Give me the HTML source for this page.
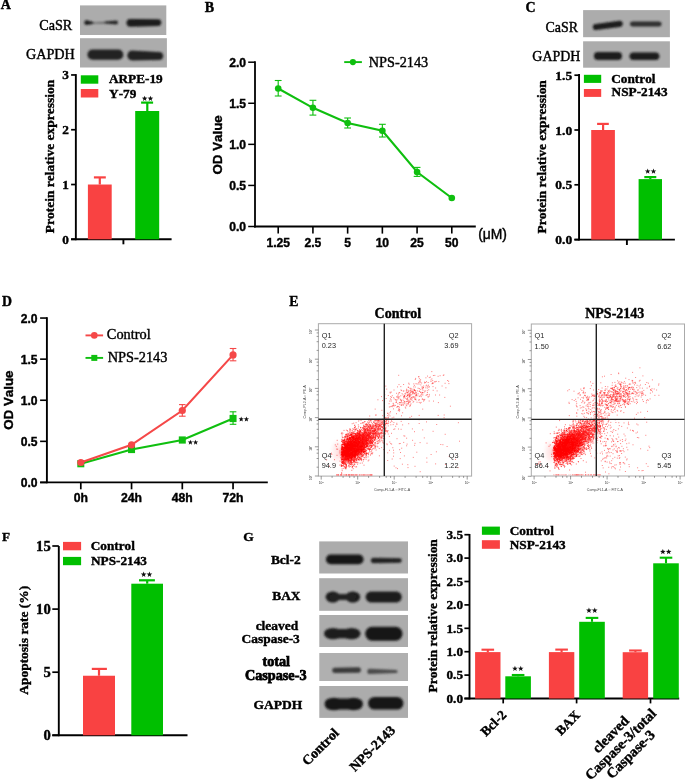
<!DOCTYPE html>
<html><head><meta charset="utf-8"><style>
html,body{margin:0;padding:0;background:#fff;}
svg{display:block;filter:blur(0.4px);}
text{font-kerning:none;}
</style></head><body>
<svg width="685" height="780" viewBox="0 0 685 780">
<defs>
<filter id="bl1" x="-50%" y="-100%" width="200%" height="300%"><feGaussianBlur stdDeviation="1.05"/></filter>
<filter id="bl2" x="-50%" y="-100%" width="200%" height="300%"><feGaussianBlur stdDeviation="2"/></filter>
<clipPath id="cb0"><rect x="80" y="5.4" width="86.3" height="29.6"/></clipPath><clipPath id="cb1"><rect x="80" y="38.2" width="86.9" height="29.3"/></clipPath><clipPath id="cb2"><rect x="583.1" y="10.1" width="86.8" height="27.1"/></clipPath><clipPath id="cb3"><rect x="583.1" y="41.3" width="86.8" height="26.4"/></clipPath><clipPath id="cb4"><rect x="319.2" y="541.4" width="88.8" height="32.1"/></clipPath><clipPath id="cb5"><rect x="319.2" y="578.2" width="88.8" height="32.6"/></clipPath><clipPath id="cb6"><rect x="319.3" y="615" width="88.7" height="32"/></clipPath><clipPath id="cb7"><rect x="319.3" y="653" width="88.7" height="28"/></clipPath><clipPath id="cb8"><rect x="319.3" y="686" width="88.7" height="31.9"/></clipPath>
</defs>
<text transform="translate(0.75,9.30)" font-family="Liberation Serif" font-size="14" font-weight="bold" text-anchor="start" fill="#000" stroke="#000" stroke-width="0.4" >A</text>
<rect x="80" y="5.4" width="86.3" height="29.6" fill="#acacac"/>
<g clip-path="url(#cb0)"><g filter="url(#bl1)">
<path d="M86.70 20.30L93.20 22.10A0.80 0.80 0 0 1 93.20 23.70L86.70 25.10A2.40 2.40 0 0 1 86.70 20.30Z" fill="#1e1e1e"/>
<path d="M93.60 22.40L104.20 22.00A0.80 0.80 0 0 1 104.20 23.60L93.60 23.60A0.60 0.60 0 0 1 93.60 22.40Z" fill="#555"/>
<path d="M105.20 21.60L116.10 20.60A1.90 1.90 0 0 1 116.10 24.40L105.20 23.60A1.00 1.00 0 0 1 105.20 21.60Z" fill="#262626"/>
<path d="M130.40 18.90L157.90 19.20A3.40 3.40 0 0 1 157.90 26.00L130.40 26.70A3.90 3.90 0 0 1 130.40 18.90Z" fill="#1a1a1a"/>
</g></g>
<rect x="80" y="38.2" width="86.9" height="29.3" fill="#acacac"/>
<g clip-path="url(#cb1)"><g filter="url(#bl1)">
<path d="M92.50 49.60L118.30 49.60A5.10 5.10 0 0 1 118.30 59.80L92.50 59.80A5.10 5.10 0 0 1 92.50 49.60Z" fill="#222"/>
<path d="M132.20 50.60L159.20 51.90A4.00 4.00 0 0 1 159.20 59.90L132.20 60.40A4.90 4.90 0 0 1 132.20 50.60Z" fill="#232323"/>
</g></g>
<text transform="translate(39.22,30.06)" font-family="Liberation Serif" font-size="14.15" font-weight="normal" text-anchor="start" fill="#000" stroke="#000" stroke-width="0.4" >CaSR</text>
<text transform="translate(25.92,58.56)" font-family="Liberation Serif" font-size="14.2" font-weight="normal" text-anchor="start" fill="#000" stroke="#000" stroke-width="0.4" >GAPDH</text>
<line x1="75.85" y1="74.10" x2="75.85" y2="240.20" stroke="#000" stroke-width="1.9"/>
<line x1="71.10" y1="239.30" x2="171.60" y2="239.30" stroke="#000" stroke-width="1.9"/>
<line x1="71.10" y1="239.30" x2="75.85" y2="239.30" stroke="#000" stroke-width="1.7"/>
<text transform="translate(68.80,243.75)" font-family="Liberation Serif" font-size="13.3" font-weight="bold" text-anchor="end" fill="#000" stroke="#000" stroke-width="0.4" >0</text>
<line x1="71.10" y1="184.52" x2="75.85" y2="184.52" stroke="#000" stroke-width="1.7"/>
<text transform="translate(68.80,188.97)" font-family="Liberation Serif" font-size="13.3" font-weight="bold" text-anchor="end" fill="#000" stroke="#000" stroke-width="0.4" >1</text>
<line x1="71.10" y1="129.74" x2="75.85" y2="129.74" stroke="#000" stroke-width="1.7"/>
<text transform="translate(68.80,134.19)" font-family="Liberation Serif" font-size="13.3" font-weight="bold" text-anchor="end" fill="#000" stroke="#000" stroke-width="0.4" >2</text>
<line x1="71.10" y1="74.96" x2="75.85" y2="74.96" stroke="#000" stroke-width="1.7"/>
<text transform="translate(68.80,79.41)" font-family="Liberation Serif" font-size="13.3" font-weight="bold" text-anchor="end" fill="#000" stroke="#000" stroke-width="0.4" >3</text>
<line x1="123.40" y1="239.30" x2="123.40" y2="244.30" stroke="#000" stroke-width="1.9"/>
<rect x="87.90" y="184.52" width="23.80" height="54.78" fill="#f94242"/>
<line x1="99.80" y1="184.52" x2="99.80" y2="177.40" stroke="#f94242" stroke-width="2.2"/>
<line x1="93.90" y1="177.40" x2="105.80" y2="177.40" stroke="#f94242" stroke-width="2.2"/>
<rect x="135.20" y="111.00" width="24.00" height="128.30" fill="#00bf00"/>
<line x1="147.30" y1="111.00" x2="147.30" y2="102.60" stroke="#00bf00" stroke-width="2.2"/>
<line x1="141.10" y1="102.60" x2="153.10" y2="102.60" stroke="#00bf00" stroke-width="2.2"/>
<polygon points="144.65,95.63 145.38,97.58 147.46,97.67 145.83,98.97 146.38,100.97 144.65,99.82 142.92,100.97 143.47,98.97 141.84,97.67 143.92,97.58" fill="#111"/>
<polygon points="150.45,95.63 151.18,97.58 153.26,97.67 151.63,98.97 152.18,100.97 150.45,99.82 148.72,100.97 149.27,98.97 147.64,97.67 149.72,97.58" fill="#111"/>
<rect x="80.80" y="75.30" width="17.50" height="8.40" fill="#00bf00"/>
<rect x="80.80" y="89.00" width="17.50" height="8.50" fill="#f94242"/>
<text transform="translate(108.97,83.27)" font-family="Liberation Serif" font-size="13.25" font-weight="bold" text-anchor="start" fill="#000" stroke="#000" stroke-width="0.4" >ARPE-19</text>
<text transform="translate(109.10,97.77)" font-family="Liberation Serif" font-size="13.25" font-weight="bold" text-anchor="start" fill="#000" stroke="#000" stroke-width="0.4" >Y-79</text>
<text transform="translate(53.90,233.13) rotate(-90)" font-family="Liberation Serif" font-size="13.48" font-weight="bold" text-anchor="start" fill="#000" stroke="#000" stroke-width="0.4" >Protein relative expression</text>
<text transform="translate(204.70,12.40)" font-family="Liberation Serif" font-size="14" font-weight="bold" text-anchor="start" fill="#000" stroke="#000" stroke-width="0.4" >B</text>
<line x1="255.00" y1="61.30" x2="255.00" y2="227.40" stroke="#000" stroke-width="1.8"/>
<line x1="254.10" y1="226.50" x2="475.80" y2="226.50" stroke="#000" stroke-width="1.8"/>
<line x1="248.20" y1="226.50" x2="255.00" y2="226.50" stroke="#000" stroke-width="1.5"/>
<text transform="translate(246.10,231.10)" font-family="Liberation Sans" font-size="12.1" font-weight="bold" text-anchor="end" fill="#000" stroke="#000" stroke-width="0.4" >0.0</text>
<line x1="248.20" y1="185.43" x2="255.00" y2="185.43" stroke="#000" stroke-width="1.5"/>
<text transform="translate(246.10,190.03)" font-family="Liberation Sans" font-size="12.1" font-weight="bold" text-anchor="end" fill="#000" stroke="#000" stroke-width="0.4" >0.5</text>
<line x1="248.20" y1="144.35" x2="255.00" y2="144.35" stroke="#000" stroke-width="1.5"/>
<text transform="translate(246.10,148.95)" font-family="Liberation Sans" font-size="12.1" font-weight="bold" text-anchor="end" fill="#000" stroke="#000" stroke-width="0.4" >1.0</text>
<line x1="248.20" y1="103.27" x2="255.00" y2="103.27" stroke="#000" stroke-width="1.5"/>
<text transform="translate(246.10,107.87)" font-family="Liberation Sans" font-size="12.1" font-weight="bold" text-anchor="end" fill="#000" stroke="#000" stroke-width="0.4" >1.5</text>
<line x1="248.20" y1="62.20" x2="255.00" y2="62.20" stroke="#000" stroke-width="1.5"/>
<text transform="translate(246.10,66.80)" font-family="Liberation Sans" font-size="12.1" font-weight="bold" text-anchor="end" fill="#000" stroke="#000" stroke-width="0.4" >2.0</text>
<line x1="278.20" y1="226.50" x2="278.20" y2="233.60" stroke="#000" stroke-width="1.6"/>
<text transform="translate(278.20,246.70)" font-family="Liberation Sans" font-size="12.1" font-weight="bold" text-anchor="middle" fill="#000" stroke="#000" stroke-width="0.4" >1.25</text>
<line x1="312.92" y1="226.50" x2="312.92" y2="233.60" stroke="#000" stroke-width="1.6"/>
<text transform="translate(312.92,246.70)" font-family="Liberation Sans" font-size="12.1" font-weight="bold" text-anchor="middle" fill="#000" stroke="#000" stroke-width="0.4" >2.5</text>
<line x1="347.64" y1="226.50" x2="347.64" y2="233.60" stroke="#000" stroke-width="1.6"/>
<text transform="translate(347.64,246.70)" font-family="Liberation Sans" font-size="12.1" font-weight="bold" text-anchor="middle" fill="#000" stroke="#000" stroke-width="0.4" >5</text>
<line x1="382.36" y1="226.50" x2="382.36" y2="233.60" stroke="#000" stroke-width="1.6"/>
<text transform="translate(382.36,246.70)" font-family="Liberation Sans" font-size="12.1" font-weight="bold" text-anchor="middle" fill="#000" stroke="#000" stroke-width="0.4" >10</text>
<line x1="417.08" y1="226.50" x2="417.08" y2="233.60" stroke="#000" stroke-width="1.6"/>
<text transform="translate(417.08,246.70)" font-family="Liberation Sans" font-size="12.1" font-weight="bold" text-anchor="middle" fill="#000" stroke="#000" stroke-width="0.4" >25</text>
<line x1="451.80" y1="226.50" x2="451.80" y2="233.60" stroke="#000" stroke-width="1.6"/>
<text transform="translate(451.80,246.70)" font-family="Liberation Sans" font-size="12.1" font-weight="bold" text-anchor="middle" fill="#000" stroke="#000" stroke-width="0.4" >50</text>
<text transform="translate(478.14,239.32)" font-family="Liberation Sans" font-size="13.9" font-weight="normal" text-anchor="start" fill="#000" stroke="#000" stroke-width="0.4" >(μM)</text>
<polyline points="278.20,88.5 312.92,107.8 347.64,123 382.36,130.8 417.08,172 451.80,198" fill="none" stroke="#0fbf0f" stroke-width="2.1"/>
<line x1="278.20" y1="80.50" x2="278.20" y2="96.00" stroke="#0fbf0f" stroke-width="1.15"/>
<line x1="274.80" y1="80.50" x2="281.60" y2="80.50" stroke="#0fbf0f" stroke-width="1.1"/>
<line x1="274.80" y1="96.00" x2="281.60" y2="96.00" stroke="#0fbf0f" stroke-width="1.1"/>
<circle cx="278.20" cy="88.5" r="3.3" fill="#0fbf0f"/>
<line x1="312.92" y1="100.30" x2="312.92" y2="115.10" stroke="#0fbf0f" stroke-width="1.15"/>
<line x1="309.52" y1="100.30" x2="316.32" y2="100.30" stroke="#0fbf0f" stroke-width="1.1"/>
<line x1="309.52" y1="115.10" x2="316.32" y2="115.10" stroke="#0fbf0f" stroke-width="1.1"/>
<circle cx="312.92" cy="107.8" r="3.3" fill="#0fbf0f"/>
<line x1="347.64" y1="118.00" x2="347.64" y2="128.00" stroke="#0fbf0f" stroke-width="1.15"/>
<line x1="344.24" y1="118.00" x2="351.04" y2="118.00" stroke="#0fbf0f" stroke-width="1.1"/>
<line x1="344.24" y1="128.00" x2="351.04" y2="128.00" stroke="#0fbf0f" stroke-width="1.1"/>
<circle cx="347.64" cy="123" r="3.3" fill="#0fbf0f"/>
<line x1="382.36" y1="124.30" x2="382.36" y2="137.00" stroke="#0fbf0f" stroke-width="1.15"/>
<line x1="378.96" y1="124.30" x2="385.76" y2="124.30" stroke="#0fbf0f" stroke-width="1.1"/>
<line x1="378.96" y1="137.00" x2="385.76" y2="137.00" stroke="#0fbf0f" stroke-width="1.1"/>
<circle cx="382.36" cy="130.8" r="3.3" fill="#0fbf0f"/>
<line x1="417.08" y1="167.40" x2="417.08" y2="176.40" stroke="#0fbf0f" stroke-width="1.15"/>
<line x1="413.68" y1="167.40" x2="420.48" y2="167.40" stroke="#0fbf0f" stroke-width="1.1"/>
<line x1="413.68" y1="176.40" x2="420.48" y2="176.40" stroke="#0fbf0f" stroke-width="1.1"/>
<circle cx="417.08" cy="172" r="3.3" fill="#0fbf0f"/>
<circle cx="451.80" cy="198" r="3.3" fill="#0fbf0f"/>
<text transform="translate(221.90,174.57) rotate(-90)" font-family="Liberation Sans" font-size="13.35" font-weight="bold" text-anchor="start" fill="#000" stroke="#000" stroke-width="0.4" >OD Value</text>
<line x1="344.20" y1="62.10" x2="361.90" y2="62.10" stroke="#0fbf0f" stroke-width="1.9"/>
<circle cx="352.9" cy="62.1" r="3.1" fill="#0fbf0f"/>
<text transform="translate(368.79,67.46)" font-family="Liberation Serif" font-size="14.27" font-weight="normal" text-anchor="start" fill="#000" stroke="#000" stroke-width="0.4" >NPS-2143</text>
<text transform="translate(525.50,12.30)" font-family="Liberation Serif" font-size="14" font-weight="bold" text-anchor="start" fill="#000" stroke="#000" stroke-width="0.4" >C</text>
<rect x="583.1" y="10.1" width="86.8" height="27.1" fill="#acacac"/>
<g clip-path="url(#cb2)"><g filter="url(#bl1)">
<path d="M595.90 23.90L619.60 20.70A3.10 3.10 0 0 1 619.60 26.90L595.90 30.10A3.10 3.10 0 0 1 595.90 23.90Z" fill="#1a1a1a"/>
<path d="M632.50 21.50L659.00 21.50A2.50 2.50 0 0 1 659.00 26.50L632.50 26.50A2.50 2.50 0 0 1 632.50 21.50Z" fill="#2e2e2e"/>
</g></g>
<rect x="583.1" y="41.3" width="86.8" height="26.4" fill="#acacac"/>
<g clip-path="url(#cb3)"><g filter="url(#bl1)">
<path d="M597.90 52.00L618.00 52.00A4.00 4.00 0 0 1 618.00 60.00L597.90 60.00A4.00 4.00 0 0 1 597.90 52.00Z" fill="#1a1a1a"/>
<path d="M633.30 52.50L655.60 52.50A3.80 3.80 0 0 1 655.60 60.10L633.30 60.10A3.80 3.80 0 0 1 633.30 52.50Z" fill="#1a1a1a"/>
</g></g>
<text transform="translate(545.43,32.36)" font-family="Liberation Serif" font-size="13.95" font-weight="normal" text-anchor="start" fill="#000" stroke="#000" stroke-width="0.4" >CaSR</text>
<text transform="translate(532.33,60.66)" font-family="Liberation Serif" font-size="13.95" font-weight="normal" text-anchor="start" fill="#000" stroke="#000" stroke-width="0.4" >GAPDH</text>
<line x1="579.05" y1="74.00" x2="579.05" y2="240.50" stroke="#000" stroke-width="1.9"/>
<line x1="574.40" y1="239.60" x2="674.90" y2="239.60" stroke="#000" stroke-width="1.9"/>
<line x1="574.40" y1="239.60" x2="579.05" y2="239.60" stroke="#000" stroke-width="1.7"/>
<text transform="translate(572.20,244.10)" font-family="Liberation Serif" font-size="13.5" font-weight="bold" text-anchor="end" fill="#000" stroke="#000" stroke-width="0.4" >0.0</text>
<line x1="574.40" y1="184.80" x2="579.05" y2="184.80" stroke="#000" stroke-width="1.7"/>
<text transform="translate(572.20,189.30)" font-family="Liberation Serif" font-size="13.5" font-weight="bold" text-anchor="end" fill="#000" stroke="#000" stroke-width="0.4" >0.5</text>
<line x1="574.40" y1="130.00" x2="579.05" y2="130.00" stroke="#000" stroke-width="1.7"/>
<text transform="translate(572.20,134.50)" font-family="Liberation Serif" font-size="13.5" font-weight="bold" text-anchor="end" fill="#000" stroke="#000" stroke-width="0.4" >1.0</text>
<line x1="574.40" y1="75.20" x2="579.05" y2="75.20" stroke="#000" stroke-width="1.7"/>
<text transform="translate(572.20,79.70)" font-family="Liberation Serif" font-size="13.5" font-weight="bold" text-anchor="end" fill="#000" stroke="#000" stroke-width="0.4" >1.5</text>
<line x1="626.90" y1="239.60" x2="626.90" y2="245.00" stroke="#000" stroke-width="1.9"/>
<rect x="591.20" y="130.00" width="23.70" height="109.60" fill="#f94242"/>
<line x1="603.10" y1="130.00" x2="603.10" y2="123.90" stroke="#f94242" stroke-width="2.2"/>
<line x1="597.10" y1="123.90" x2="608.80" y2="123.90" stroke="#f94242" stroke-width="2.2"/>
<rect x="638.60" y="179.10" width="23.40" height="60.50" fill="#00bf00"/>
<line x1="650.30" y1="179.10" x2="650.30" y2="177.10" stroke="#00bf00" stroke-width="2.2"/>
<line x1="644.30" y1="177.10" x2="656.30" y2="177.10" stroke="#00bf00" stroke-width="2.2"/>
<polygon points="647.70,168.43 648.43,170.38 650.51,170.47 648.88,171.77 649.43,173.77 647.70,172.62 645.97,173.77 646.52,171.77 644.89,170.47 646.97,170.38" fill="#111"/>
<polygon points="653.50,168.43 654.23,170.38 656.31,170.47 654.68,171.77 655.23,173.77 653.50,172.62 651.77,173.77 652.32,171.77 650.69,170.47 652.77,170.38" fill="#111"/>
<rect x="583.90" y="74.80" width="17.30" height="8.10" fill="#00bf00"/>
<rect x="583.90" y="89.00" width="17.30" height="7.90" fill="#f94242"/>
<text transform="translate(611.30,82.80)" font-family="Liberation Serif" font-size="13.25" font-weight="bold" text-anchor="start" fill="#000" stroke="#000" stroke-width="0.4" >Control</text>
<text transform="translate(611.60,96.00)" font-family="Liberation Serif" font-size="13.25" font-weight="bold" text-anchor="start" fill="#000" stroke="#000" stroke-width="0.4" >NSP-2143</text>
<text transform="translate(545.90,233.50) rotate(-90)" font-family="Liberation Serif" font-size="13.48" font-weight="bold" text-anchor="start" fill="#000" stroke="#000" stroke-width="0.4" >Protein relative expression</text>
<text transform="translate(1.90,305.50)" font-family="Liberation Serif" font-size="13.8" font-weight="bold" text-anchor="start" fill="#000" stroke="#000" stroke-width="0.4" >D</text>
<line x1="46.90" y1="317.20" x2="46.90" y2="483.25" stroke="#000" stroke-width="1.9"/>
<line x1="40.10" y1="482.45" x2="267.80" y2="482.45" stroke="#000" stroke-width="1.7"/>
<line x1="40.10" y1="482.45" x2="46.90" y2="482.45" stroke="#000" stroke-width="1.6"/>
<text transform="translate(37.60,486.95)" font-family="Liberation Sans" font-size="12.1" font-weight="bold" text-anchor="end" fill="#000" stroke="#000" stroke-width="0.4" >0.0</text>
<line x1="40.10" y1="441.35" x2="46.90" y2="441.35" stroke="#000" stroke-width="1.6"/>
<text transform="translate(37.60,445.85)" font-family="Liberation Sans" font-size="12.1" font-weight="bold" text-anchor="end" fill="#000" stroke="#000" stroke-width="0.4" >0.5</text>
<line x1="40.10" y1="400.25" x2="46.90" y2="400.25" stroke="#000" stroke-width="1.6"/>
<text transform="translate(37.60,404.75)" font-family="Liberation Sans" font-size="12.1" font-weight="bold" text-anchor="end" fill="#000" stroke="#000" stroke-width="0.4" >1.0</text>
<line x1="40.10" y1="359.15" x2="46.90" y2="359.15" stroke="#000" stroke-width="1.6"/>
<text transform="translate(37.60,363.65)" font-family="Liberation Sans" font-size="12.1" font-weight="bold" text-anchor="end" fill="#000" stroke="#000" stroke-width="0.4" >1.5</text>
<line x1="40.10" y1="318.05" x2="46.90" y2="318.05" stroke="#000" stroke-width="1.6"/>
<text transform="translate(37.60,322.55)" font-family="Liberation Sans" font-size="12.1" font-weight="bold" text-anchor="end" fill="#000" stroke="#000" stroke-width="0.4" >2.0</text>
<line x1="80.80" y1="482.45" x2="80.80" y2="489.30" stroke="#000" stroke-width="1.7"/>
<text transform="translate(80.80,502.20)" font-family="Liberation Sans" font-size="12.2" font-weight="bold" text-anchor="middle" fill="#000" stroke="#000" stroke-width="0.4" >0h</text>
<line x1="131.55" y1="482.45" x2="131.55" y2="489.30" stroke="#000" stroke-width="1.7"/>
<text transform="translate(131.55,502.20)" font-family="Liberation Sans" font-size="12.2" font-weight="bold" text-anchor="middle" fill="#000" stroke="#000" stroke-width="0.4" >24h</text>
<line x1="182.30" y1="482.45" x2="182.30" y2="489.30" stroke="#000" stroke-width="1.7"/>
<text transform="translate(182.30,502.20)" font-family="Liberation Sans" font-size="12.2" font-weight="bold" text-anchor="middle" fill="#000" stroke="#000" stroke-width="0.4" >48h</text>
<line x1="233.05" y1="482.45" x2="233.05" y2="489.30" stroke="#000" stroke-width="1.7"/>
<text transform="translate(233.05,502.20)" font-family="Liberation Sans" font-size="12.2" font-weight="bold" text-anchor="middle" fill="#000" stroke="#000" stroke-width="0.4" >72h</text>
<polyline points="80.80,463.7 131.55,449.5 182.30,440 233.05,418.5" fill="none" stroke="#0fbf0f" stroke-width="2.1"/>
<rect x="77.30" y="460.10" width="7.00" height="7.20" fill="#0fbf0f"/>
<rect x="128.05" y="445.90" width="7.00" height="7.20" fill="#0fbf0f"/>
<rect x="178.80" y="436.40" width="7.00" height="7.20" fill="#0fbf0f"/>
<line x1="233.05" y1="411.80" x2="233.05" y2="424.30" stroke="#0fbf0f" stroke-width="1.15"/>
<line x1="229.75" y1="411.80" x2="236.35" y2="411.80" stroke="#0fbf0f" stroke-width="1.1"/>
<line x1="229.75" y1="424.30" x2="236.35" y2="424.30" stroke="#0fbf0f" stroke-width="1.1"/>
<rect x="229.55" y="414.90" width="7.00" height="7.20" fill="#0fbf0f"/>
<polyline points="80.80,462.5 131.55,444.8 182.30,410.5 233.05,354.9" fill="none" stroke="#f54848" stroke-width="2.1"/>
<circle cx="80.80" cy="462.5" r="3.6" fill="#f54848"/>
<circle cx="131.55" cy="444.8" r="3.6" fill="#f54848"/>
<line x1="182.30" y1="404.60" x2="182.30" y2="416.20" stroke="#f54848" stroke-width="1.15"/>
<line x1="179.00" y1="404.60" x2="185.60" y2="404.60" stroke="#f54848" stroke-width="1.1"/>
<line x1="179.00" y1="416.20" x2="185.60" y2="416.20" stroke="#f54848" stroke-width="1.1"/>
<circle cx="182.30" cy="410.5" r="3.6" fill="#f54848"/>
<line x1="233.05" y1="348.50" x2="233.05" y2="360.80" stroke="#f54848" stroke-width="1.15"/>
<line x1="229.75" y1="348.50" x2="236.35" y2="348.50" stroke="#f54848" stroke-width="1.1"/>
<line x1="229.75" y1="360.80" x2="236.35" y2="360.80" stroke="#f54848" stroke-width="1.1"/>
<circle cx="233.05" cy="354.9" r="3.6" fill="#f54848"/>
<polygon points="190.40,439.71 191.08,441.53 193.02,441.62 191.50,442.82 192.02,444.69 190.40,443.62 188.78,444.69 189.30,442.82 187.78,441.62 189.72,441.53" fill="#111"/>
<polygon points="195.60,439.71 196.28,441.53 198.22,441.62 196.70,442.82 197.22,444.69 195.60,443.62 193.98,444.69 194.50,442.82 192.98,441.62 194.92,441.53" fill="#111"/>
<polygon points="241.20,416.51 241.88,418.33 243.82,418.42 242.30,419.62 242.82,421.49 241.20,420.42 239.58,421.49 240.10,419.62 238.58,418.42 240.52,418.33" fill="#111"/>
<polygon points="246.40,416.51 247.08,418.33 249.02,418.42 247.50,419.62 248.02,421.49 246.40,420.42 244.78,421.49 245.30,419.62 243.78,418.42 245.72,418.33" fill="#111"/>
<text transform="translate(13.20,429.82) rotate(-90)" font-family="Liberation Sans" font-size="13.35" font-weight="bold" text-anchor="start" fill="#000" stroke="#000" stroke-width="0.4" >OD Value</text>
<line x1="85.50" y1="335.40" x2="103.10" y2="335.40" stroke="#f54848" stroke-width="1.9"/>
<circle cx="94.3" cy="335.4" r="3.3" fill="#f54848"/>
<text transform="translate(106.81,338.66)" font-family="Liberation Serif" font-size="14.35" font-weight="normal" text-anchor="start" fill="#000" stroke="#000" stroke-width="0.4" >Control</text>
<line x1="85.50" y1="357.90" x2="103.10" y2="357.90" stroke="#0fbf0f" stroke-width="1.9"/>
<rect x="91.30" y="354.90" width="6.00" height="6.00" fill="#0fbf0f"/>
<text transform="translate(107.69,362.16)" font-family="Liberation Serif" font-size="14.35" font-weight="normal" text-anchor="start" fill="#000" stroke="#000" stroke-width="0.4" >NPS-2143</text>
<text transform="translate(1.90,541.10)" font-family="Liberation Serif" font-size="13.2" font-weight="bold" text-anchor="start" fill="#000" stroke="#000" stroke-width="0.4" >F</text>
<line x1="58.80" y1="546.00" x2="58.80" y2="736.20" stroke="#000" stroke-width="1.9"/>
<line x1="52.30" y1="735.30" x2="187.50" y2="735.30" stroke="#000" stroke-width="1.9"/>
<line x1="52.30" y1="735.30" x2="58.80" y2="735.30" stroke="#000" stroke-width="1.7"/>
<text transform="translate(50.70,739.90)" font-family="Liberation Serif" font-size="14.6" font-weight="bold" text-anchor="end" fill="#000" stroke="#000" stroke-width="0.4" >0</text>
<line x1="52.30" y1="672.20" x2="58.80" y2="672.20" stroke="#000" stroke-width="1.7"/>
<text transform="translate(50.70,676.80)" font-family="Liberation Serif" font-size="14.6" font-weight="bold" text-anchor="end" fill="#000" stroke="#000" stroke-width="0.4" >5</text>
<line x1="52.30" y1="609.10" x2="58.80" y2="609.10" stroke="#000" stroke-width="1.7"/>
<text transform="translate(50.70,613.70)" font-family="Liberation Serif" font-size="14.6" font-weight="bold" text-anchor="end" fill="#000" stroke="#000" stroke-width="0.4" >10</text>
<line x1="52.30" y1="546.00" x2="58.80" y2="546.00" stroke="#000" stroke-width="1.7"/>
<text transform="translate(50.70,550.60)" font-family="Liberation Serif" font-size="14.6" font-weight="bold" text-anchor="end" fill="#000" stroke="#000" stroke-width="0.4" >15</text>
<rect x="83.00" y="675.73" width="32.00" height="59.57" fill="#f94242"/>
<line x1="99.00" y1="675.73" x2="99.00" y2="668.90" stroke="#f94242" stroke-width="2.2"/>
<line x1="91.80" y1="668.90" x2="106.90" y2="668.90" stroke="#f94242" stroke-width="2.2"/>
<rect x="131.30" y="583.70" width="31.70" height="151.60" fill="#00bf00"/>
<line x1="147.20" y1="583.70" x2="147.20" y2="580.30" stroke="#00bf00" stroke-width="2.2"/>
<line x1="139.00" y1="580.30" x2="154.90" y2="580.30" stroke="#00bf00" stroke-width="2.2"/>
<polygon points="143.65,571.58 144.38,573.53 146.46,573.62 144.83,574.92 145.38,576.92 143.65,575.77 141.92,576.92 142.47,574.92 140.84,573.62 142.92,573.53" fill="#111"/>
<polygon points="149.45,571.58 150.18,573.53 152.26,573.62 150.63,574.92 151.18,576.92 149.45,575.77 147.72,576.92 148.27,574.92 146.64,573.62 148.72,573.53" fill="#111"/>
<rect x="63.00" y="541.90" width="18.10" height="8.40" fill="#f94242"/>
<rect x="63.00" y="556.90" width="18.10" height="8.30" fill="#00bf00"/>
<text transform="translate(90.76,550.27)" font-family="Liberation Serif" font-size="13.25" font-weight="bold" text-anchor="start" fill="#000" stroke="#000" stroke-width="0.4" >Control</text>
<text transform="translate(91.00,564.77)" font-family="Liberation Serif" font-size="13.25" font-weight="bold" text-anchor="start" fill="#000" stroke="#000" stroke-width="0.4" >NPS-2143</text>
<text transform="translate(28.30,694.73) rotate(-90)" font-family="Liberation Serif" font-size="13.44" font-weight="bold" text-anchor="start" fill="#000" stroke="#000" stroke-width="0.4" >Apoptosis rate (%)</text>
<text transform="translate(243.20,541.30)" font-family="Liberation Serif" font-size="13.5" font-weight="bold" text-anchor="start" fill="#000" stroke="#000" stroke-width="0.4" >G</text>
<rect x="319.2" y="541.4" width="88.8" height="32.1" fill="#acacac"/>
<g clip-path="url(#cb4)"><g filter="url(#bl1)">
<path d="M330.70 554.60L358.80 554.60A4.80 4.80 0 0 1 358.80 564.20L330.70 564.20A4.80 4.80 0 0 1 330.70 554.60Z" fill="#151515"/>
<path d="M373.60 557.80L399.65 558.35A2.15 2.15 0 0 1 399.65 562.65L373.60 563.20A2.70 2.70 0 0 1 373.60 557.80Z" fill="#222"/>
</g></g>
<rect x="319.2" y="578.2" width="88.8" height="32.6" fill="#acacac"/>
<g clip-path="url(#cb5)"><g filter="url(#bl1)">
<ellipse cx="332.8" cy="597" rx="7.2" ry="5.5" fill="#1e1e1e"/>
<ellipse cx="352.8" cy="597" rx="7.4" ry="5.5" fill="#1e1e1e"/>
<path d="M333.10 593.90L352.90 593.90A3.10 3.10 0 0 1 352.90 600.10L333.10 600.10A3.10 3.10 0 0 1 333.10 593.90Z" fill="#222"/>
<path d="M371.00 591.60L396.40 591.60A5.40 5.40 0 0 1 396.40 602.40L371.00 602.40A5.40 5.40 0 0 1 371.00 591.60Z" fill="#1e1e1e"/>
</g></g>
<rect x="319.3" y="615" width="88.7" height="32" fill="#acacac"/>
<g clip-path="url(#cb6)"><g filter="url(#bl1)">
<ellipse cx="333" cy="633.6" rx="9" ry="5.7" fill="#1e1e1e"/>
<ellipse cx="351.5" cy="633.6" rx="9" ry="5.7" fill="#1e1e1e"/>
<path d="M330.60 629.00L353.40 629.00A4.60 4.60 0 0 1 353.40 638.20L330.60 638.20A4.60 4.60 0 0 1 330.60 629.00Z" fill="#1e1e1e"/>
<path d="M372.20 626.70L395.50 626.70A7.00 7.00 0 0 1 395.50 640.70L372.20 640.70A7.00 7.00 0 0 1 372.20 626.70Z" fill="#181818"/>
</g></g>
<rect x="319.3" y="653" width="88.7" height="28" fill="#b0b0b0"/>
<g clip-path="url(#cb7)"><g filter="url(#bl1)">
<path d="M334.85 667.65L358.10 667.20A2.80 2.80 0 0 1 358.10 672.80L334.85 672.95A2.65 2.65 0 0 1 334.85 667.65Z" fill="#3a3a3a"/>
<path d="M369.90 668.80L396.10 669.90A1.50 1.50 0 0 1 396.10 672.90L369.90 674.00A2.60 2.60 0 0 1 369.90 668.80Z" fill="#4c4c4c"/>
</g></g>
<rect x="319.3" y="686" width="88.7" height="31.9" fill="#acacac"/>
<g clip-path="url(#cb8)"><g filter="url(#bl1)">
<ellipse cx="334" cy="704" rx="9" ry="6.3" fill="#181818"/>
<ellipse cx="353.5" cy="704" rx="9" ry="6.2" fill="#181818"/>
<path d="M330.10 698.50L357.30 698.50A5.50 5.50 0 0 1 357.30 709.50L330.10 709.50A5.50 5.50 0 0 1 330.10 698.50Z" fill="#181818"/>
<path d="M374.40 696.90L397.10 696.90A6.30 6.30 0 0 1 397.10 709.50L374.40 709.50A6.30 6.30 0 0 1 374.40 696.90Z" fill="#181818"/>
</g></g>
<text transform="translate(270.88,564.18)" font-family="Liberation Serif" font-size="13.45" font-weight="bold" text-anchor="start" fill="#000" stroke="#000" stroke-width="0.4" >Bcl-2</text>
<text transform="translate(272.18,600.36)" font-family="Liberation Serif" font-size="13.45" font-weight="bold" text-anchor="start" fill="#000" stroke="#000" stroke-width="0.4" >BAX</text>
<text transform="translate(255.64,629.57)" font-family="Liberation Serif" font-size="13.45" font-weight="bold" text-anchor="start" fill="#000" stroke="#000" stroke-width="0.4" >cleaved</text>
<text transform="translate(241.60,643.30)" font-family="Liberation Serif" font-size="13.45" font-weight="bold" text-anchor="start" fill="#000" stroke="#000" stroke-width="0.4" >Caspase-3</text>
<text transform="translate(262.47,665.96)" font-family="Liberation Serif" font-size="14.2" font-weight="bold" text-anchor="start" fill="#000" stroke="#000" stroke-width="0.75" >total</text>
<text transform="translate(245.00,679.90)" font-family="Liberation Serif" font-size="14.2" font-weight="bold" text-anchor="start" fill="#000" stroke="#000" stroke-width="0.75" >Caspase-3</text>
<text transform="translate(253.54,709.17)" font-family="Liberation Serif" font-size="13.5" font-weight="bold" text-anchor="start" fill="#000" stroke="#000" stroke-width="0.4" >GAPDH</text>
<text transform="translate(339.80,733.75) rotate(-45)" font-family="Liberation Serif" font-size="13.75" font-weight="bold" text-anchor="end" fill="#000" stroke="#000" stroke-width="0.4" >Control</text>
<text transform="translate(396.10,731.10) rotate(-45)" font-family="Liberation Serif" font-size="13.8" font-weight="bold" text-anchor="end" fill="#000" stroke="#000" stroke-width="0.4" >NPS-2143</text>
<line x1="469.50" y1="534.00" x2="469.50" y2="699.40" stroke="#000" stroke-width="1.9"/>
<line x1="464.40" y1="698.50" x2="679.20" y2="698.50" stroke="#000" stroke-width="1.9"/>
<line x1="464.40" y1="698.50" x2="469.50" y2="698.50" stroke="#000" stroke-width="1.7"/>
<text transform="translate(463.00,702.70)" font-family="Liberation Serif" font-size="13.2" font-weight="bold" text-anchor="end" fill="#000" stroke="#000" stroke-width="0.4" >0.0</text>
<line x1="464.40" y1="675.10" x2="469.50" y2="675.10" stroke="#000" stroke-width="1.7"/>
<text transform="translate(463.00,679.30)" font-family="Liberation Serif" font-size="13.2" font-weight="bold" text-anchor="end" fill="#000" stroke="#000" stroke-width="0.4" >0.5</text>
<line x1="464.40" y1="651.70" x2="469.50" y2="651.70" stroke="#000" stroke-width="1.7"/>
<text transform="translate(463.00,655.90)" font-family="Liberation Serif" font-size="13.2" font-weight="bold" text-anchor="end" fill="#000" stroke="#000" stroke-width="0.4" >1.0</text>
<line x1="464.40" y1="628.30" x2="469.50" y2="628.30" stroke="#000" stroke-width="1.7"/>
<text transform="translate(463.00,632.50)" font-family="Liberation Serif" font-size="13.2" font-weight="bold" text-anchor="end" fill="#000" stroke="#000" stroke-width="0.4" >1.5</text>
<line x1="464.40" y1="604.90" x2="469.50" y2="604.90" stroke="#000" stroke-width="1.7"/>
<text transform="translate(463.00,609.10)" font-family="Liberation Serif" font-size="13.2" font-weight="bold" text-anchor="end" fill="#000" stroke="#000" stroke-width="0.4" >2.0</text>
<line x1="464.40" y1="581.50" x2="469.50" y2="581.50" stroke="#000" stroke-width="1.7"/>
<text transform="translate(463.00,585.70)" font-family="Liberation Serif" font-size="13.2" font-weight="bold" text-anchor="end" fill="#000" stroke="#000" stroke-width="0.4" >2.5</text>
<line x1="464.40" y1="558.10" x2="469.50" y2="558.10" stroke="#000" stroke-width="1.7"/>
<text transform="translate(463.00,562.30)" font-family="Liberation Serif" font-size="13.2" font-weight="bold" text-anchor="end" fill="#000" stroke="#000" stroke-width="0.4" >3.0</text>
<line x1="464.40" y1="534.70" x2="469.50" y2="534.70" stroke="#000" stroke-width="1.7"/>
<text transform="translate(463.00,538.90)" font-family="Liberation Serif" font-size="13.2" font-weight="bold" text-anchor="end" fill="#000" stroke="#000" stroke-width="0.4" >3.5</text>
<rect x="475.10" y="652.10" width="25.40" height="46.40" fill="#f94242"/>
<line x1="487.80" y1="652.10" x2="487.80" y2="649.70" stroke="#f94242" stroke-width="2.1"/>
<line x1="481.50" y1="649.70" x2="494.10" y2="649.70" stroke="#f94242" stroke-width="2.1"/>
<rect x="505.30" y="676.30" width="25.60" height="22.20" fill="#00bf00"/>
<line x1="518.10" y1="676.30" x2="518.10" y2="675.00" stroke="#00bf00" stroke-width="2.1"/>
<line x1="511.80" y1="675.00" x2="524.40" y2="675.00" stroke="#00bf00" stroke-width="2.1"/>
<polygon points="514.95,665.68 515.68,667.63 517.76,667.72 516.13,669.02 516.68,671.02 514.95,669.87 513.22,671.02 513.77,669.02 512.14,667.72 514.22,667.63" fill="#111"/>
<polygon points="520.75,665.68 521.48,667.63 523.56,667.72 521.93,669.02 522.48,671.02 520.75,669.87 519.02,671.02 519.57,669.02 517.94,667.72 520.02,667.63" fill="#111"/>
<rect x="548.90" y="652.10" width="25.40" height="46.40" fill="#f94242"/>
<line x1="561.60" y1="652.10" x2="561.60" y2="649.60" stroke="#f94242" stroke-width="2.1"/>
<line x1="555.30" y1="649.60" x2="567.90" y2="649.60" stroke="#f94242" stroke-width="2.1"/>
<rect x="579.20" y="621.80" width="25.60" height="76.70" fill="#00bf00"/>
<line x1="592.00" y1="621.80" x2="592.00" y2="617.90" stroke="#00bf00" stroke-width="2.1"/>
<line x1="585.70" y1="617.90" x2="598.30" y2="617.90" stroke="#00bf00" stroke-width="2.1"/>
<polygon points="588.95,607.58 589.68,609.53 591.76,609.62 590.13,610.92 590.68,612.92 588.95,611.77 587.22,612.92 587.77,610.92 586.14,609.62 588.22,609.53" fill="#111"/>
<polygon points="594.75,607.58 595.48,609.53 597.56,609.62 595.93,610.92 596.48,612.92 594.75,611.77 593.02,612.92 593.57,610.92 591.94,609.62 594.02,609.53" fill="#111"/>
<rect x="622.70" y="652.20" width="25.40" height="46.30" fill="#f94242"/>
<line x1="635.40" y1="652.20" x2="635.40" y2="650.50" stroke="#f94242" stroke-width="2.1"/>
<line x1="629.10" y1="650.50" x2="641.70" y2="650.50" stroke="#f94242" stroke-width="2.1"/>
<rect x="653.20" y="563.30" width="25.60" height="135.20" fill="#00bf00"/>
<line x1="666.00" y1="563.30" x2="666.00" y2="557.70" stroke="#00bf00" stroke-width="2.1"/>
<line x1="659.70" y1="557.70" x2="672.30" y2="557.70" stroke="#00bf00" stroke-width="2.1"/>
<polygon points="662.85,548.88 663.58,550.83 665.66,550.92 664.03,552.22 664.58,554.22 662.85,553.07 661.12,554.22 661.67,552.22 660.04,550.92 662.12,550.83" fill="#111"/>
<polygon points="668.65,548.88 669.38,550.83 671.46,550.92 669.83,552.22 670.38,554.22 668.65,553.07 666.92,554.22 667.47,552.22 665.84,550.92 667.92,550.83" fill="#111"/>
<line x1="503.20" y1="698.50" x2="503.20" y2="703.40" stroke="#000" stroke-width="1.7"/>
<line x1="576.60" y1="698.50" x2="576.60" y2="703.40" stroke="#000" stroke-width="1.7"/>
<line x1="650.50" y1="698.50" x2="650.50" y2="703.40" stroke="#000" stroke-width="1.7"/>
<rect x="481.90" y="526.60" width="18.00" height="8.20" fill="#00bf00"/>
<rect x="481.90" y="540.20" width="18.00" height="8.60" fill="#f94242"/>
<text transform="translate(509.70,535.00)" font-family="Liberation Serif" font-size="13.25" font-weight="bold" text-anchor="start" fill="#000" stroke="#000" stroke-width="0.4" >Control</text>
<text transform="translate(509.70,548.90)" font-family="Liberation Serif" font-size="13.25" font-weight="bold" text-anchor="start" fill="#000" stroke="#000" stroke-width="0.4" >NSP-2143</text>
<text transform="translate(436.90,692.50) rotate(-90)" font-family="Liberation Serif" font-size="13.48" font-weight="bold" text-anchor="start" fill="#000" stroke="#000" stroke-width="0.4" >Protein relative expression</text>
<text transform="translate(507.20,715.80) rotate(-45)" font-family="Liberation Serif" font-size="13.5" font-weight="bold" text-anchor="end" fill="#000" stroke="#000" stroke-width="0.4" >Bcl-2</text>
<text transform="translate(580.90,716.00) rotate(-45)" font-family="Liberation Serif" font-size="13.4" font-weight="bold" text-anchor="end" fill="#000" stroke="#000" stroke-width="0.4" >BAX</text>
<g transform="translate(623.9,747.7) rotate(-45)">
<text transform="translate(0.00,-14.10)" font-family="Liberation Serif" font-size="14.3" font-weight="bold" text-anchor="middle" fill="#000" stroke="#000" stroke-width="0.4" >cleaved</text>
<text transform="translate(0.00,0.00)" font-family="Liberation Serif" font-size="14.3" font-weight="bold" text-anchor="middle" fill="#000" stroke="#000" stroke-width="0.4" >Caspase-3/total</text>
<text transform="translate(0.00,14.10)" font-family="Liberation Serif" font-size="14.3" font-weight="bold" text-anchor="middle" fill="#000" stroke="#000" stroke-width="0.4" >Caspase-3</text>
</g>
<text transform="translate(289.20,305.50)" font-family="Liberation Serif" font-size="13.8" font-weight="bold" text-anchor="start" fill="#000" stroke="#000" stroke-width="0.4" >E</text>
<text transform="translate(374.60,317.50)" font-family="Liberation Serif" font-size="14" font-weight="bold" text-anchor="start" fill="#000" stroke="#000" stroke-width="0.4" >Control</text>
<text transform="translate(585.20,317.80)" font-family="Liberation Serif" font-size="14" font-weight="bold" text-anchor="start" fill="#000" stroke="#000" stroke-width="0.4" >NPS-2143</text>
<rect x="318.4" y="323.7" width="153.20000000000005" height="152.40000000000003" fill="#fff" stroke="#aaa" stroke-width="1"/>
<text transform="translate(311.90,331.50) rotate(-90)" font-family="Liberation Sans" font-size="3.2" font-weight="normal" text-anchor="middle" fill="#333" stroke="#333" stroke-width="0" >10<tspan dy="-1.5" font-size="2.5">7</tspan></text>
<text transform="translate(311.90,360.70) rotate(-90)" font-family="Liberation Sans" font-size="3.2" font-weight="normal" text-anchor="middle" fill="#333" stroke="#333" stroke-width="0" >10<tspan dy="-1.5" font-size="2.5">6</tspan></text>
<text transform="translate(311.90,389.90) rotate(-90)" font-family="Liberation Sans" font-size="3.2" font-weight="normal" text-anchor="middle" fill="#333" stroke="#333" stroke-width="0" >10<tspan dy="-1.5" font-size="2.5">5</tspan></text>
<text transform="translate(311.90,419.10) rotate(-90)" font-family="Liberation Sans" font-size="3.2" font-weight="normal" text-anchor="middle" fill="#333" stroke="#333" stroke-width="0" >10<tspan dy="-1.5" font-size="2.5">4</tspan></text>
<text transform="translate(311.90,448.30) rotate(-90)" font-family="Liberation Sans" font-size="3.2" font-weight="normal" text-anchor="middle" fill="#333" stroke="#333" stroke-width="0" >10<tspan dy="-1.5" font-size="2.5">3</tspan></text>
<text transform="translate(311.90,477.50) rotate(-90)" font-family="Liberation Sans" font-size="3.2" font-weight="normal" text-anchor="middle" fill="#333" stroke="#333" stroke-width="0" >10<tspan dy="-1.5" font-size="2.5">2</tspan></text>
<text transform="translate(321.20,484.10)" font-family="Liberation Sans" font-size="3.2" font-weight="normal" text-anchor="middle" fill="#333" stroke="#333" stroke-width="0" >10<tspan dy="-1.5" font-size="2.5">2</tspan></text>
<text transform="translate(357.70,484.10)" font-family="Liberation Sans" font-size="3.2" font-weight="normal" text-anchor="middle" fill="#333" stroke="#333" stroke-width="0" >10<tspan dy="-1.5" font-size="2.5">3</tspan></text>
<text transform="translate(394.20,484.10)" font-family="Liberation Sans" font-size="3.2" font-weight="normal" text-anchor="middle" fill="#333" stroke="#333" stroke-width="0" >10<tspan dy="-1.5" font-size="2.5">4</tspan></text>
<text transform="translate(430.70,484.10)" font-family="Liberation Sans" font-size="3.2" font-weight="normal" text-anchor="middle" fill="#333" stroke="#333" stroke-width="0" >10<tspan dy="-1.5" font-size="2.5">5</tspan></text>
<text transform="translate(467.20,484.10)" font-family="Liberation Sans" font-size="3.2" font-weight="normal" text-anchor="middle" fill="#333" stroke="#333" stroke-width="0" >10<tspan dy="-1.5" font-size="2.5">6</tspan></text>
<path d="M314.9 330.0h3.5M316.6 350.4h1.8M316.6 341.7h1.8M316.6 336.4h1.8M316.6 332.9h1.8M314.9 359.2h3.5M316.6 379.6h1.8M316.6 370.9h1.8M316.6 365.6h1.8M316.6 362.1h1.8M314.9 388.4h3.5M316.6 408.8h1.8M316.6 400.1h1.8M316.6 394.8h1.8M316.6 391.3h1.8M314.9 417.6h3.5M316.6 438.0h1.8M316.6 429.3h1.8M316.6 424.0h1.8M316.6 420.5h1.8M314.9 446.8h3.5M316.6 467.2h1.8M316.6 458.5h1.8M316.6 453.2h1.8M316.6 449.7h1.8M314.9 476.0h3.5M321.2 476.1v3.5M332.1 476.1v1.8M343.1 476.1v1.8M349.7 476.1v1.8M354.1 476.1v1.8M357.7 476.1v3.5M368.6 476.1v1.8M379.6 476.1v1.8M386.2 476.1v1.8M390.6 476.1v1.8M394.2 476.1v3.5M405.1 476.1v1.8M416.1 476.1v1.8M422.7 476.1v1.8M427.1 476.1v1.8M430.7 476.1v3.5M441.6 476.1v1.8M452.6 476.1v1.8M459.2 476.1v1.8M463.6 476.1v1.8M467.2 476.1v3.5" stroke="#555" stroke-width="0.6" fill="none"/>
<text transform="translate(392.00,490.60)" font-family="Liberation Sans" font-size="3.6" font-weight="normal" text-anchor="middle" fill="#444" stroke="#444" stroke-width="0" >Comp-FL1-A :: FITC-A</text>
<text transform="translate(306.40,401.90) rotate(-90)" font-family="Liberation Sans" font-size="3.6" font-weight="normal" text-anchor="middle" fill="#444" stroke="#444" stroke-width="0" >Comp-PL2-A :: PE-A</text>
<ellipse cx="337" cy="452" rx="4" ry="10" fill="#ffe6e6" filter="url(#bl2)"/>
<ellipse cx="351.5" cy="449" rx="11.5" ry="7.2" transform="rotate(-40 351.5 449)" fill="#ff0000" filter="url(#bl2)"/>
<path d="M369.6 445.2h1M351.0 442.9h1M344.8 454.5h1M369.9 436.0h1M343.8 460.7h1M362.3 439.7h1M349.6 444.5h1M366.9 429.9h1M355.5 445.7h1M359.3 450.4h1M359.6 442.9h1M346.6 456.4h1M357.0 449.9h1M359.6 450.7h1M353.9 448.3h1M354.5 437.3h1M348.3 447.3h1M369.1 433.2h1M361.2 445.5h1M345.1 441.5h1M359.6 438.6h1M354.1 436.0h1M355.0 455.9h1M359.8 431.2h1M342.6 455.8h1M360.0 442.8h1M352.0 440.3h1M362.7 448.3h1M344.3 443.1h1M350.4 455.7h1M349.1 456.6h1M356.1 445.3h1M351.2 452.0h1M348.1 453.1h1M349.4 435.8h1M359.2 433.5h1M352.5 438.7h1M344.1 451.7h1M371.5 437.5h1M347.5 449.7h1M344.1 454.6h1M351.8 454.3h1M341.3 454.6h1M343.9 449.3h1M359.7 442.8h1M362.9 448.7h1M357.3 432.7h1M350.8 435.0h1M360.6 456.5h1M350.5 446.6h1M354.9 445.9h1M350.7 443.2h1M365.7 443.9h1M353.0 449.9h1M362.9 447.5h1M359.4 447.7h1M347.1 443.7h1M353.6 455.2h1M361.9 441.1h1M350.2 452.3h1M372.3 442.2h1M347.8 451.4h1M358.2 443.5h1M350.3 445.0h1M344.3 443.0h1M347.3 450.6h1M366.6 433.8h1M347.5 451.4h1M345.5 447.2h1M345.6 450.4h1M350.6 447.4h1M357.1 464.2h1M356.0 440.0h1M355.2 440.2h1M363.4 433.7h1M349.7 453.3h1M370.4 433.7h1M369.7 436.9h1M362.4 437.0h1M368.2 449.0h1M364.9 435.4h1M345.5 453.3h1M352.6 452.3h1M345.8 445.8h1M356.6 448.0h1M347.2 446.4h1M346.4 453.0h1M359.3 429.6h1M359.2 442.9h1M352.7 468.7h1M351.4 441.5h1M362.1 451.6h1M355.4 429.4h1M351.1 462.9h1M345.7 444.9h1M359.1 441.8h1M351.3 445.5h1M369.7 449.0h1M363.2 452.2h1M352.7 453.3h1M356.9 436.0h1M367.3 430.7h1M364.0 445.9h1M356.0 446.3h1M371.5 439.1h1M349.8 435.3h1M352.1 457.6h1M351.3 441.2h1M347.1 449.9h1M360.6 444.2h1M358.3 436.4h1M359.4 438.0h1M358.0 457.2h1M353.5 445.8h1M350.3 446.6h1M371.5 443.0h1M360.0 443.0h1M361.6 439.6h1M358.7 445.9h1M360.8 454.2h1M372.9 441.4h1M345.4 468.6h1M357.4 440.1h1M357.8 452.6h1M366.4 443.1h1M354.8 446.2h1M359.8 441.0h1M343.8 450.1h1M353.7 449.5h1M366.2 425.2h1M357.0 443.3h1M361.3 451.4h1M362.9 437.9h1M343.6 444.3h1M357.9 453.4h1M354.2 452.1h1M360.8 444.1h1M361.8 439.1h1M342.2 447.0h1M359.5 439.0h1M354.3 453.1h1M354.2 460.7h1M356.8 440.0h1M352.7 456.4h1M341.4 451.9h1M354.4 447.9h1M355.2 448.7h1M350.1 448.9h1M366.3 441.5h1M356.7 458.2h1M357.4 442.1h1M345.9 430.2h1M353.4 440.7h1M364.0 444.2h1M357.8 440.2h1M355.6 442.4h1M354.7 444.9h1M354.4 462.3h1M351.1 432.3h1M355.1 434.3h1M349.3 445.8h1M350.2 451.8h1M345.1 442.3h1M354.9 448.8h1M366.1 433.1h1M342.4 453.2h1M355.2 438.4h1M349.9 454.5h1M354.3 448.1h1M345.1 447.3h1M350.3 448.5h1M352.5 451.3h1M360.1 445.9h1M353.8 439.6h1M347.7 458.4h1M354.1 447.5h1M343.3 453.8h1M344.9 447.2h1M342.5 444.2h1M358.8 452.0h1M348.2 452.2h1M347.4 457.6h1M363.6 428.6h1M357.3 455.3h1M356.9 445.1h1M347.0 435.8h1M354.5 457.7h1M354.9 439.5h1M343.3 442.9h1M362.4 437.0h1M358.9 447.9h1M360.7 451.3h1M352.3 445.3h1M342.4 444.6h1M351.8 456.4h1M365.7 448.0h1M378.3 432.0h1M352.3 437.4h1M360.3 459.1h1M357.2 442.8h1M348.4 435.9h1M341.6 446.4h1M339.4 465.1h1M347.6 461.8h1M350.1 451.9h1M353.4 450.8h1M365.2 426.1h1M365.2 444.7h1M351.2 451.1h1M354.7 451.9h1M353.1 446.6h1M360.7 449.1h1M365.4 438.5h1M356.2 454.6h1M357.2 454.5h1M359.5 454.3h1M350.2 435.5h1M362.6 437.7h1M344.7 451.0h1M354.5 449.9h1M353.1 443.6h1M348.3 441.2h1M365.3 434.1h1M357.4 443.0h1M343.0 455.8h1M354.3 455.2h1M351.2 456.7h1M362.2 439.7h1M348.0 453.7h1M346.3 461.4h1M345.5 445.1h1M345.7 447.2h1M354.0 447.2h1M356.9 454.9h1M359.6 431.6h1M354.2 439.3h1M340.9 433.6h1M354.1 451.1h1M342.9 449.1h1M353.3 447.7h1M349.7 455.7h1M344.7 463.4h1M348.8 441.5h1M347.5 440.5h1M342.2 447.3h1M347.1 458.6h1M355.7 433.8h1M352.9 437.4h1M352.3 453.1h1M341.4 441.2h1M348.4 450.0h1M354.1 438.4h1M351.3 449.3h1M350.9 458.5h1M363.6 439.7h1M363.1 434.8h1M347.0 459.6h1M347.5 448.7h1M365.9 452.9h1M354.7 449.2h1M354.0 438.0h1M350.5 456.7h1M350.7 444.5h1M341.1 446.9h1M353.1 441.4h1M347.1 448.6h1M348.0 449.8h1M349.7 434.4h1M353.2 452.3h1M364.4 435.0h1M353.8 445.1h1M359.3 435.5h1M353.9 454.5h1M347.6 437.8h1M362.9 449.7h1M373.7 448.8h1M346.7 448.8h1M348.8 450.2h1M366.6 445.8h1M350.0 460.3h1M360.6 453.9h1M348.8 444.2h1M362.3 444.6h1M349.9 450.2h1M355.8 447.6h1M367.1 438.3h1M352.3 428.8h1M345.5 448.8h1M353.9 443.2h1M350.6 446.1h1M348.6 456.6h1M351.7 452.0h1M362.5 454.3h1M344.4 457.1h1M362.7 451.8h1M353.0 457.0h1M368.4 420.5h1M369.3 437.9h1M355.2 440.0h1M349.2 457.8h1M358.6 438.7h1M358.8 433.2h1M371.0 447.0h1M358.2 443.5h1M350.9 446.8h1M351.9 451.3h1M356.6 445.0h1M353.8 444.7h1M354.9 449.8h1M355.6 446.3h1M355.4 435.6h1M348.4 458.6h1M363.7 436.2h1M355.0 448.6h1M361.3 436.2h1M351.5 457.6h1M342.6 452.5h1M361.9 442.8h1M350.3 452.5h1M356.8 438.4h1M341.5 446.2h1M346.6 439.9h1M350.6 443.3h1M357.7 442.8h1M363.4 430.9h1M354.0 444.4h1M369.8 441.3h1M346.6 454.2h1M355.7 444.9h1M344.1 453.2h1M362.0 445.7h1M341.2 441.2h1M363.9 439.8h1M369.5 441.4h1M355.9 446.1h1M348.0 460.3h1M353.8 450.7h1M350.6 435.3h1M355.1 440.3h1M349.5 453.1h1M345.5 451.2h1M352.0 460.3h1M362.3 436.7h1M366.3 443.5h1M354.5 435.3h1M354.5 450.7h1M350.3 456.8h1M361.7 444.4h1M350.8 448.2h1M352.8 436.8h1M354.0 452.9h1M352.0 454.0h1M348.7 441.5h1M348.6 450.3h1M357.8 439.7h1M353.4 449.8h1M362.0 438.6h1M364.5 428.1h1M366.6 433.2h1M365.7 428.5h1M352.8 443.4h1M342.3 454.8h1M367.2 434.8h1M343.3 442.7h1M348.4 466.1h1M345.3 447.5h1M357.7 447.5h1M344.8 444.7h1M356.4 441.7h1M345.9 460.3h1M357.6 444.7h1M346.5 451.0h1M360.3 445.2h1M343.3 448.3h1M357.0 445.6h1M355.7 435.8h1M367.9 449.2h1M361.7 441.2h1M355.7 434.8h1M358.1 459.8h1M345.4 459.3h1M344.0 440.3h1M359.7 441.8h1M363.8 451.1h1M350.0 440.3h1M345.7 454.2h1M359.3 432.4h1M350.9 448.0h1M355.2 438.3h1M359.1 448.6h1M352.8 446.8h1M360.8 445.6h1M359.3 433.4h1M362.5 437.6h1M342.1 452.1h1M342.8 454.4h1M352.9 429.3h1M347.1 458.6h1M354.2 452.8h1M342.6 455.7h1M344.9 451.1h1M343.5 466.4h1M359.3 434.7h1M362.8 428.2h1M354.8 439.4h1M341.1 460.6h1M348.9 460.5h1M346.7 453.6h1M350.2 450.9h1M351.7 455.2h1M358.7 443.2h1M360.3 457.2h1M346.2 449.6h1M359.7 441.7h1M343.6 461.0h1M341.4 458.3h1M358.2 445.4h1M358.6 441.5h1M360.1 442.5h1M343.5 440.2h1M365.8 442.6h1M363.5 438.3h1M345.5 452.1h1M370.1 426.0h1M364.7 443.8h1M345.9 459.2h1M360.3 445.6h1M356.3 453.7h1M350.2 434.4h1M350.4 437.7h1M362.4 443.7h1M347.3 446.3h1M354.3 443.3h1M346.0 464.8h1M361.1 450.0h1M343.1 464.2h1M360.0 441.2h1M363.1 452.3h1M352.6 455.7h1M378.3 427.5h1M335.8 446.4h1M357.3 453.8h1M343.3 460.5h1M354.3 441.5h1M357.7 456.0h1M351.0 451.4h1M361.8 449.8h1M348.5 448.3h1M349.6 453.7h1M348.4 445.3h1M358.9 450.0h1M347.0 453.8h1M347.9 448.5h1M358.3 434.4h1M350.5 448.9h1M353.3 458.2h1M354.0 455.2h1M353.3 450.9h1M359.8 446.5h1M364.6 443.0h1M345.6 443.7h1M348.6 445.8h1M361.7 450.1h1M357.0 438.4h1M355.1 445.7h1M354.9 456.4h1M359.9 444.6h1M342.8 450.2h1M361.1 441.6h1M359.7 446.5h1M349.0 438.6h1M357.0 444.9h1M351.1 445.3h1M353.8 452.6h1M355.7 445.8h1M361.8 446.3h1M361.7 435.5h1M360.1 453.6h1M356.8 453.9h1M353.7 464.6h1M350.6 461.2h1M356.2 438.8h1M343.7 445.1h1M342.4 454.5h1M344.8 452.5h1M359.3 435.3h1M350.5 448.7h1M348.4 451.0h1M359.5 450.4h1M346.8 450.9h1M357.1 453.9h1M346.1 454.6h1M362.0 444.6h1M343.7 446.9h1M351.8 446.6h1M354.8 457.4h1M370.7 447.4h1M370.3 445.9h1M364.2 453.2h1M354.8 440.0h1M355.6 442.1h1M354.9 439.4h1M350.5 451.0h1M346.5 449.1h1M373.8 431.0h1M360.8 435.2h1M349.5 457.5h1M357.1 437.9h1M350.2 439.0h1M341.3 466.1h1M347.3 458.3h1M363.5 441.6h1M367.2 438.5h1M355.9 445.0h1M358.3 445.8h1M345.8 453.1h1M361.8 463.0h1M360.2 435.0h1M351.3 434.7h1M361.2 455.3h1M359.3 452.5h1M352.4 451.7h1M347.8 434.0h1M354.6 461.4h1M351.6 458.3h1M367.1 435.2h1M363.0 442.0h1M351.0 453.8h1M353.1 439.4h1M344.5 443.6h1M350.6 449.1h1M344.1 447.6h1M351.9 459.0h1M355.0 445.5h1M357.5 438.9h1M353.9 442.4h1M350.9 445.5h1M351.7 467.0h1M345.1 455.7h1M349.0 437.9h1M360.5 449.3h1M342.0 453.9h1M363.9 431.4h1M361.2 446.9h1M355.5 446.5h1M359.2 444.5h1M348.8 439.0h1M352.3 441.6h1M374.4 447.4h1M353.9 429.3h1M362.0 440.8h1M344.8 452.4h1M368.3 435.1h1M370.0 431.2h1M346.5 446.5h1M361.3 454.4h1M368.3 426.5h1M363.0 448.6h1M344.7 453.7h1M349.7 431.9h1M345.4 441.4h1M343.8 444.1h1M346.9 451.1h1M352.3 444.0h1M345.5 447.4h1M359.0 441.6h1M374.3 431.1h1M354.0 452.6h1M346.9 458.1h1M365.5 435.8h1M353.8 455.8h1M346.0 456.3h1M350.5 452.0h1M349.6 455.2h1M365.0 451.5h1M352.3 451.6h1M359.7 446.6h1M352.3 453.3h1M349.5 451.3h1M359.9 446.1h1M365.0 451.1h1M347.7 450.6h1M342.3 463.5h1M342.1 451.7h1M351.0 452.4h1M350.1 447.6h1M352.8 444.9h1M349.4 442.5h1M344.2 444.9h1M364.0 445.5h1M360.2 444.1h1M350.9 453.7h1M354.1 441.6h1M348.1 444.3h1M349.7 449.4h1M353.7 442.0h1M347.8 453.3h1M352.5 437.7h1M370.3 438.4h1M354.3 459.9h1M362.9 436.0h1M370.8 442.1h1M347.2 447.7h1M360.6 450.4h1M372.1 443.5h1M342.5 441.8h1M345.9 465.6h1M366.7 445.5h1M353.8 447.4h1M359.3 445.9h1M350.3 441.8h1M343.1 457.0h1M357.9 454.8h1M358.2 426.3h1M350.4 441.2h1M354.8 449.6h1M353.7 443.1h1M343.7 452.0h1M359.6 443.4h1M353.5 438.0h1M365.1 429.1h1M366.9 442.5h1M362.7 441.5h1M361.5 449.3h1M347.9 451.0h1M349.3 463.3h1M366.5 434.4h1M373.0 437.6h1M370.9 446.5h1M354.1 448.8h1M341.0 473.0h1M350.6 434.5h1M345.4 447.3h1M358.5 437.7h1M360.8 436.8h1M358.8 437.6h1M346.2 457.9h1M353.7 451.0h1M357.6 432.9h1M350.8 441.0h1M367.7 435.0h1M349.1 448.9h1M352.0 447.7h1M357.4 439.5h1M350.3 457.2h1M342.6 448.0h1M342.7 457.2h1M355.0 438.6h1M360.3 447.4h1M365.6 453.6h1M357.3 446.9h1M353.9 455.5h1M353.2 423.2h1M355.7 436.3h1M356.7 445.0h1M362.5 437.5h1M341.0 452.4h1M359.0 444.6h1M358.1 440.6h1M360.8 444.2h1M349.5 444.1h1M358.2 449.4h1M341.2 458.9h1M356.0 460.5h1M367.2 433.3h1M361.3 443.6h1M364.2 430.8h1M362.5 445.9h1M349.7 460.3h1M361.0 442.0h1M345.2 437.1h1M365.2 439.9h1M358.3 442.1h1M358.1 446.0h1M348.9 448.7h1M355.6 450.6h1M376.3 434.9h1M351.8 466.4h1M349.8 444.5h1M354.3 445.9h1M355.4 445.1h1M358.3 453.2h1M367.6 436.0h1M370.0 440.7h1M364.2 440.2h1M358.4 449.4h1M346.0 453.8h1M348.0 459.0h1M357.6 448.4h1M347.7 445.6h1M359.5 438.5h1M351.9 448.6h1M357.5 444.1h1M340.9 449.0h1M360.4 438.6h1M348.0 444.4h1M362.9 442.9h1M342.3 442.5h1M365.8 432.2h1M342.2 452.5h1M344.3 454.7h1M344.3 445.1h1M355.6 438.3h1M342.5 454.7h1M352.2 437.7h1M356.5 451.4h1M350.8 447.7h1M343.9 459.4h1M361.8 434.4h1M345.1 448.3h1M345.0 458.5h1M350.3 460.9h1M367.2 436.2h1M349.8 443.2h1M361.1 441.3h1M355.9 448.2h1M379.3 442.0h1M349.3 447.2h1M365.9 457.2h1M349.5 445.4h1M349.8 440.6h1M344.9 450.7h1M355.2 453.7h1M343.9 453.5h1M354.4 443.8h1M368.4 452.6h1M341.3 450.2h1M347.2 447.9h1M350.8 452.7h1M377.3 446.9h1M344.7 437.8h1M366.1 436.5h1M354.6 455.0h1M351.7 446.7h1M350.1 457.3h1M356.9 437.3h1M353.9 456.7h1M346.1 449.9h1M346.4 451.0h1M360.7 441.5h1M363.9 443.1h1M341.4 432.7h1M356.6 452.2h1M355.8 448.8h1M343.5 454.5h1M372.5 444.3h1M356.3 444.2h1M356.4 444.6h1M344.0 439.3h1M354.7 446.4h1M345.6 451.9h1M354.6 446.2h1M357.4 449.0h1M355.5 455.2h1M356.4 450.5h1M365.7 453.2h1M359.3 452.4h1M347.6 454.0h1M352.7 448.5h1M363.3 449.4h1M351.1 443.3h1M369.0 449.7h1M369.3 442.1h1M355.2 442.4h1M353.8 442.7h1M360.7 442.7h1M351.9 457.3h1M342.6 461.2h1M349.7 446.7h1M363.7 451.2h1M374.9 442.4h1M353.0 442.1h1M355.1 451.7h1M349.5 453.2h1M360.1 442.7h1M359.5 449.0h1M349.5 453.1h1M354.3 431.8h1M359.9 435.8h1M356.9 446.2h1M350.5 433.4h1M334.0 459.7h1M349.9 442.2h1M347.3 454.2h1M349.0 456.3h1M357.9 443.8h1M363.1 448.0h1M357.7 434.2h1M362.3 446.8h1M348.9 447.7h1M365.8 442.0h1M360.3 452.9h1M367.9 448.9h1M354.3 454.3h1M355.3 435.3h1M359.3 444.3h1M359.7 448.9h1M361.7 437.9h1M358.7 431.0h1M350.3 438.6h1M346.6 446.4h1M374.4 443.0h1M360.4 442.5h1M361.5 456.0h1M353.3 454.5h1M352.8 449.5h1M362.9 434.6h1M357.2 444.0h1M361.5 446.2h1M355.5 442.5h1M357.9 450.3h1M358.9 436.7h1M342.0 463.4h1M343.3 451.1h1M345.7 453.0h1M351.3 450.2h1M363.8 451.6h1M359.2 446.3h1M360.7 447.6h1M361.9 442.3h1M366.3 442.3h1M359.4 449.1h1M355.0 445.6h1M354.0 455.1h1M356.4 445.2h1M350.4 457.3h1M356.6 446.7h1M353.9 458.7h1M358.3 436.3h1M345.7 454.5h1M356.7 445.6h1M359.8 448.3h1M354.6 460.2h1M356.8 451.1h1M350.9 447.3h1M350.8 458.5h1M341.8 452.6h1M351.9 454.9h1M342.5 454.8h1M356.3 438.8h1M341.4 461.9h1M358.9 441.4h1M349.8 444.1h1M352.3 445.8h1M342.8 455.5h1M343.0 452.2h1M364.1 439.0h1M350.6 448.0h1M343.9 440.2h1M344.5 459.3h1M347.0 446.6h1M368.6 441.5h1M352.4 451.7h1M342.0 462.1h1M362.0 436.9h1M357.9 442.4h1M352.5 447.9h1M363.3 455.3h1M366.5 440.4h1M329.0 466.1h1M360.2 445.8h1M360.5 440.7h1M369.0 450.2h1M346.1 448.6h1M344.1 452.0h1M345.0 456.8h1M363.7 448.2h1M362.4 436.6h1M351.9 442.0h1M354.4 447.0h1M357.3 443.3h1M348.9 458.9h1M346.9 441.3h1M342.5 461.7h1M341.9 462.2h1M367.8 439.3h1M362.3 444.2h1M349.6 452.1h1M341.0 462.5h1M359.2 443.4h1M361.5 438.9h1M345.5 465.2h1M351.9 443.4h1M347.9 448.7h1M350.1 439.6h1M353.0 444.6h1M357.5 441.1h1M355.1 438.6h1M355.2 443.2h1M363.5 441.6h1M359.8 437.9h1M348.6 450.9h1M344.2 452.6h1M359.3 433.5h1M349.3 451.2h1M375.0 446.1h1M347.3 448.5h1M353.0 442.2h1M356.4 446.2h1M361.2 447.0h1M353.6 452.8h1M363.2 439.7h1M343.3 460.1h1M355.0 455.8h1M354.4 458.7h1M361.9 448.3h1M346.6 455.8h1M342.6 453.7h1M354.2 460.2h1M361.8 436.9h1M343.6 450.4h1M345.9 454.2h1M347.4 450.9h1M356.5 449.9h1M346.8 449.2h1M348.3 434.1h1M350.4 442.4h1M359.1 439.7h1M350.6 457.7h1M345.7 446.6h1M349.5 434.9h1M354.9 451.4h1M347.2 459.8h1M348.9 446.4h1M345.8 464.7h1M362.8 436.5h1M348.9 435.6h1M355.5 448.3h1M344.9 449.1h1M348.6 444.5h1M343.0 461.7h1M362.6 443.9h1M363.2 447.1h1M362.2 446.5h1M340.9 454.5h1M336.7 440.3h1M357.0 448.7h1M357.7 442.6h1M357.1 443.2h1M348.8 448.8h1M361.0 446.1h1M350.9 437.0h1M353.7 450.9h1M352.3 451.9h1M359.0 451.8h1M342.3 454.3h1M361.2 446.5h1M371.0 445.4h1M353.0 449.9h1M344.5 456.1h1M359.1 433.9h1M366.7 453.0h1M366.1 436.8h1M369.8 437.2h1M365.5 450.4h1M352.6 435.0h1M362.3 444.8h1M367.5 443.1h1M363.1 438.6h1M341.8 447.0h1M361.3 446.5h1M351.1 460.0h1M349.0 454.9h1M347.5 450.4h1M360.1 443.8h1M366.1 438.0h1M344.3 457.8h1M350.5 448.4h1M352.7 434.0h1M362.2 440.1h1M351.3 440.6h1M356.7 434.7h1M350.7 448.1h1M343.4 458.9h1M342.2 454.9h1M350.7 462.0h1M359.5 453.5h1M350.2 451.6h1M358.0 443.8h1M355.7 454.0h1M356.7 444.8h1M349.3 428.8h1M347.2 456.1h1M349.5 448.1h1M340.4 455.1h1M343.3 447.6h1M343.2 465.2h1M343.8 453.8h1M348.4 442.7h1M365.5 441.4h1M355.8 439.3h1M357.7 445.7h1M355.7 443.0h1M350.1 447.0h1M354.7 456.4h1M342.0 452.0h1M352.4 449.4h1M346.3 449.3h1M344.3 448.8h1M363.5 465.2h1M353.7 466.2h1M344.3 456.1h1M355.4 450.4h1M346.9 444.0h1M347.8 449.1h1M341.4 456.4h1M348.3 439.4h1M346.1 459.5h1M343.4 450.2h1M346.3 448.0h1M358.6 444.5h1M368.8 431.2h1M353.7 441.3h1M355.1 433.6h1M346.0 451.5h1M384.2 438.8h1M369.1 433.8h1M343.4 459.9h1M359.3 436.7h1M376.8 443.1h1M363.5 442.2h1M360.0 442.0h1M364.0 435.2h1M349.1 449.1h1M344.2 444.7h1M340.9 448.2h1M359.5 438.1h1M342.8 449.6h1M357.9 444.7h1M364.7 440.3h1M355.3 458.8h1M357.8 447.3h1M354.5 443.5h1M351.0 459.0h1M346.4 450.5h1M364.4 445.8h1M361.5 456.2h1M361.0 459.5h1M365.2 438.7h1M356.1 453.8h1M342.8 461.7h1M365.2 449.9h1M365.9 439.0h1M353.5 439.3h1M354.9 439.7h1M349.6 464.3h1M367.2 434.6h1M365.4 456.2h1M348.8 463.2h1M353.6 452.1h1M359.0 454.8h1M362.6 438.1h1M366.8 443.5h1M360.6 432.6h1M360.5 441.2h1M349.5 438.0h1M370.5 432.3h1M351.4 437.0h1M352.7 449.2h1M350.1 440.9h1M354.7 442.7h1M356.2 435.6h1M358.9 434.2h1M346.5 456.7h1M360.1 445.0h1M347.9 449.4h1M350.7 458.4h1M344.2 452.0h1M348.3 440.1h1M356.9 442.6h1M360.5 445.9h1M341.2 449.7h1M358.4 449.0h1M346.5 449.3h1M353.7 443.5h1M352.2 443.5h1M343.6 441.5h1M366.8 429.8h1M366.1 438.3h1M361.5 432.9h1M342.5 460.0h1M357.4 458.0h1M341.6 468.9h1M364.9 439.3h1M367.8 445.0h1M361.8 438.3h1M354.2 441.4h1M369.0 436.5h1M351.5 450.5h1M345.4 449.0h1M356.9 444.9h1M361.1 442.6h1M354.6 455.5h1M363.8 448.4h1M355.7 440.8h1M348.1 444.8h1M368.3 433.9h1M353.5 453.1h1M362.8 439.4h1M358.4 432.8h1M359.5 446.8h1M359.4 447.4h1M357.2 448.5h1M346.0 448.4h1M356.7 441.3h1M359.6 443.2h1M350.6 437.2h1M354.0 451.9h1M343.6 447.9h1M351.7 440.0h1M356.9 445.7h1M359.5 451.8h1M346.3 443.0h1M374.0 431.1h1M345.1 456.7h1M358.4 448.5h1M361.3 451.3h1M357.1 440.5h1M352.3 453.4h1M354.8 446.2h1M347.0 430.6h1M357.0 444.9h1M348.0 453.7h1M361.9 456.3h1M357.8 448.4h1M359.7 435.5h1M343.4 444.4h1M377.2 430.7h1M359.7 442.8h1M339.5 461.1h1M358.0 443.5h1M358.1 443.6h1M355.5 443.5h1M347.7 450.5h1M360.2 441.7h1M357.9 453.4h1M356.9 437.0h1M346.5 451.5h1M361.5 448.6h1M345.2 464.8h1M354.9 447.6h1M361.3 442.7h1M359.0 450.4h1M358.6 433.8h1M367.2 440.4h1M362.1 445.9h1M350.6 453.5h1M359.3 443.6h1M364.6 439.2h1M361.6 449.4h1M348.3 450.3h1M363.7 443.3h1M370.6 437.7h1M354.1 445.6h1M351.1 434.3h1M365.2 439.9h1M349.0 451.6h1M353.2 437.8h1M352.1 430.7h1M364.0 435.9h1M354.5 444.1h1M352.6 455.6h1M345.5 453.1h1M353.0 437.6h1M354.9 438.6h1M359.2 439.5h1M363.7 438.0h1M349.3 458.3h1M366.9 443.4h1M346.7 457.9h1M368.7 439.4h1M359.4 435.4h1M345.7 434.2h1M345.6 456.4h1M358.9 434.6h1M357.0 454.8h1M347.6 436.5h1M358.6 446.3h1M342.8 444.1h1M347.7 442.5h1M345.0 467.8h1M356.6 451.1h1M357.1 444.5h1M341.0 449.1h1M362.5 452.5h1M360.6 447.9h1M352.6 439.3h1M355.8 445.3h1M354.4 455.6h1M355.6 441.0h1M360.0 440.0h1M355.4 434.8h1M363.7 439.8h1M341.3 473.1h1M358.4 451.0h1M354.2 447.1h1M341.3 454.5h1M368.0 448.0h1M366.0 455.2h1M354.7 436.6h1M347.7 443.7h1M346.9 452.1h1M351.7 464.2h1M370.5 440.0h1M351.1 444.2h1M342.9 462.4h1M343.7 454.7h1M348.5 451.1h1M366.5 435.3h1M355.4 452.7h1M341.5 441.3h1M346.2 451.0h1M351.0 457.0h1M358.9 434.2h1M354.5 447.7h1M347.4 446.8h1M355.2 442.2h1M367.8 434.7h1M354.2 447.9h1M353.4 443.5h1M361.3 447.0h1M356.8 447.5h1M356.4 445.5h1M341.6 459.3h1M361.5 450.8h1M372.2 442.4h1M360.1 427.9h1M352.0 450.4h1M353.2 439.3h1M351.9 455.2h1M344.0 442.3h1M348.9 453.4h1M356.1 447.0h1M371.5 426.9h1M365.5 441.4h1M363.0 437.2h1M357.5 442.8h1M343.0 440.5h1M359.4 445.7h1M358.1 441.2h1M351.2 442.2h1M354.3 442.7h1M348.7 456.6h1M351.9 446.3h1M362.1 443.3h1M370.6 447.4h1M345.3 457.6h1M342.8 463.2h1M365.1 429.5h1M365.8 442.1h1M347.8 434.0h1M343.4 452.3h1M354.4 447.2h1M360.4 442.2h1M348.0 443.5h1M346.5 451.2h1M369.8 430.2h1M356.7 452.2h1M362.3 444.6h1M360.6 454.1h1M354.4 457.6h1M367.0 437.8h1M346.7 447.6h1M347.7 435.8h1M360.4 434.3h1M345.6 457.7h1M350.6 442.4h1M359.3 432.6h1M342.5 443.4h1M369.8 438.0h1M343.9 459.1h1M345.2 447.1h1M344.2 438.8h1M355.0 445.7h1M361.9 432.8h1M352.2 449.4h1M363.5 432.2h1M341.9 455.6h1M353.5 442.6h1M359.2 441.3h1M341.2 444.6h1M344.7 466.5h1M350.8 451.6h1M360.9 447.9h1M370.6 431.2h1M359.6 434.8h1M341.8 456.5h1M347.4 460.3h1M351.7 436.0h1M364.4 447.5h1M355.9 451.4h1M354.0 447.7h1M366.3 444.5h1M352.8 443.9h1M360.5 438.1h1M352.8 445.2h1M370.0 440.3h1M356.0 446.2h1M351.2 446.9h1M344.5 462.1h1M370.2 443.2h1M366.2 424.6h1M367.2 448.9h1M348.6 456.9h1M351.3 437.3h1M353.2 461.4h1M363.7 432.2h1M355.1 446.1h1M349.4 448.8h1M371.6 440.3h1M360.7 442.9h1M355.9 462.7h1M364.5 433.1h1M350.1 450.9h1M358.4 441.6h1M361.6 427.6h1M349.7 459.6h1M362.9 443.9h1M347.7 446.2h1M348.8 460.7h1M366.6 453.7h1M359.3 446.6h1M347.2 448.4h1M354.4 439.8h1M366.1 445.1h1M345.9 458.4h1M356.4 446.3h1M355.4 454.8h1M357.8 448.6h1M354.0 441.4h1M350.8 462.7h1M367.2 435.3h1M367.4 446.0h1M369.5 441.4h1M355.3 451.1h1M350.5 451.5h1M352.6 443.1h1M358.9 457.8h1M353.2 459.2h1M348.4 449.4h1M365.7 454.8h1M359.2 435.9h1M355.0 445.9h1M364.1 432.6h1M348.6 445.2h1M355.3 443.8h1M343.2 444.2h1M348.7 461.8h1M370.6 451.9h1M358.7 439.6h1M352.8 460.2h1M352.0 457.2h1M356.0 452.4h1M369.7 440.0h1M354.4 441.5h1M346.8 453.9h1M354.0 448.5h1M347.0 438.5h1M350.3 447.6h1M364.0 447.0h1M354.7 438.3h1M360.2 437.6h1M345.3 461.4h1M364.6 429.4h1M348.2 446.7h1M354.5 455.8h1M360.9 442.4h1M352.0 442.3h1M346.7 447.2h1M361.0 446.1h1M353.6 452.8h1M355.1 462.5h1M343.0 451.5h1M356.2 451.4h1M352.3 441.1h1M361.4 446.8h1M348.7 451.2h1M354.5 444.7h1M346.2 452.1h1M351.1 450.9h1M359.7 442.2h1M351.6 455.4h1M346.5 443.3h1M355.2 445.9h1M349.8 451.8h1M352.1 435.7h1M352.0 437.7h1M363.9 452.1h1M354.6 450.8h1M362.2 441.6h1M363.5 435.1h1M346.0 446.6h1M340.7 464.7h1M352.7 457.0h1M348.3 451.8h1M349.9 449.8h1M352.0 440.4h1M372.1 423.7h1M350.5 449.8h1M341.1 448.0h1M363.0 452.7h1M355.3 451.7h1M365.9 442.3h1M347.8 439.3h1M354.3 452.7h1M359.0 444.0h1M356.1 450.4h1M362.4 441.7h1M363.3 439.4h1M361.5 440.5h1M358.8 445.3h1M351.0 446.1h1M349.9 438.0h1M343.4 447.7h1M349.7 444.5h1M352.7 448.6h1M361.9 440.1h1M373.4 436.3h1M349.4 455.5h1M356.9 447.2h1M345.4 456.9h1M355.9 435.4h1M362.4 449.7h1M353.4 441.6h1M354.8 451.9h1M357.6 442.8h1M345.6 448.0h1M347.4 442.7h1M364.3 453.6h1M351.7 448.2h1M356.8 449.0h1M353.5 451.3h1M342.4 447.5h1M350.8 453.3h1M345.4 447.9h1M347.4 436.1h1M355.1 439.0h1M356.2 436.0h1M355.2 452.0h1M355.7 437.9h1M363.9 447.0h1M356.4 446.8h1M359.5 455.9h1M365.3 452.7h1M361.5 442.2h1M365.9 436.9h1M358.3 438.3h1M350.2 458.0h1M348.5 451.7h1M347.8 455.1h1M355.0 443.6h1M345.5 441.2h1M359.8 436.3h1M350.4 445.6h1M354.4 444.3h1M349.2 448.1h1M361.1 452.8h1M348.4 459.5h1M355.9 448.5h1M351.9 456.2h1M352.0 433.2h1M346.2 466.5h1M347.8 449.8h1M341.2 457.0h1M351.8 444.3h1M362.7 437.5h1M360.2 441.6h1M353.7 444.5h1M354.5 457.5h1M367.0 444.9h1M346.4 449.5h1M353.2 444.3h1M364.6 450.6h1M347.3 448.8h1M346.1 463.0h1M356.2 447.4h1M348.1 451.6h1M348.3 445.8h1M362.7 449.6h1M362.1 437.3h1M375.2 423.5h1M348.4 440.7h1M352.4 450.3h1M348.1 450.6h1M343.9 451.5h1M341.8 453.1h1M371.4 443.3h1M349.3 442.8h1M345.6 457.3h1M347.9 459.3h1M356.1 444.8h1M368.7 422.1h1M356.0 438.1h1M345.0 446.4h1M351.9 451.7h1M360.6 449.8h1M355.1 451.1h1M346.4 448.8h1M353.7 443.8h1M358.9 450.9h1M364.3 453.0h1M350.7 449.5h1M363.0 451.1h1M354.2 452.8h1M354.4 447.5h1M350.3 442.5h1M355.5 449.1h1M340.1 457.8h1M354.6 445.5h1M344.3 454.9h1M344.1 452.3h1M360.8 436.1h1M365.1 437.9h1M363.7 435.9h1M365.5 451.6h1M370.4 436.3h1M369.4 445.3h1M357.5 447.8h1M358.1 452.7h1M345.6 444.5h1M375.3 437.2h1M354.3 439.7h1M362.5 441.4h1M370.6 428.0h1M358.4 447.6h1M360.2 440.3h1M352.0 437.7h1M352.9 442.0h1M356.5 441.3h1M368.1 444.4h1M366.7 435.2h1M349.8 447.7h1M348.1 450.6h1M344.5 452.5h1M363.8 446.2h1M350.7 437.0h1M372.7 445.5h1M358.8 439.4h1M358.3 442.2h1M345.5 462.8h1M362.5 443.6h1M359.2 442.6h1M350.0 462.0h1M349.7 447.6h1M351.0 436.0h1M354.1 451.2h1M342.4 437.4h1M358.4 450.0h1M352.1 466.5h1M355.2 446.0h1M361.3 448.7h1M355.4 444.9h1M351.7 439.0h1M363.0 425.8h1M349.3 444.5h1M354.2 445.7h1M361.5 439.7h1M359.6 458.5h1M345.6 453.7h1M354.6 454.0h1M358.4 452.6h1M348.9 453.3h1M358.2 443.2h1M349.8 437.6h1M356.5 442.4h1M364.8 430.0h1M349.8 466.4h1M368.2 433.1h1M358.1 446.4h1M370.7 445.3h1M355.1 442.7h1M360.5 442.5h1M353.8 447.7h1M368.8 446.3h1M363.4 442.2h1M344.7 441.9h1M353.9 450.7h1M348.4 454.7h1M348.2 453.6h1M363.2 454.5h1M354.1 446.5h1M351.9 442.4h1M343.0 441.6h1M341.7 436.9h1M363.9 453.9h1M348.0 448.1h1M355.9 448.4h1M357.3 439.6h1M352.8 451.0h1M352.1 438.5h1M364.3 451.7h1M348.2 454.6h1M355.9 441.8h1M371.0 441.9h1M362.0 439.8h1M366.8 440.5h1M357.4 451.8h1M351.3 454.2h1M342.1 455.4h1M372.5 438.4h1M351.3 459.7h1M352.8 450.9h1M353.3 452.3h1M355.1 457.0h1M348.9 446.1h1M345.1 443.3h1M363.5 447.7h1M366.6 440.2h1M357.7 454.2h1M362.8 434.4h1M341.9 453.0h1M358.1 452.2h1M363.9 441.5h1M361.9 438.1h1M344.3 437.3h1M348.8 449.3h1M362.8 438.6h1M351.5 449.9h1M343.3 440.1h1M347.9 450.6h1M349.6 445.2h1M352.5 452.7h1M341.0 455.5h1M348.1 449.8h1M356.8 449.9h1M354.4 443.5h1M364.2 439.6h1M358.0 450.5h1M351.3 445.3h1M356.6 438.6h1M350.9 447.9h1M366.9 440.4h1M366.0 439.3h1M354.1 452.9h1M366.7 431.4h1M354.4 453.7h1M354.3 450.3h1M363.0 435.6h1M347.5 443.7h1M361.9 451.0h1M362.8 457.1h1M369.8 426.1h1M358.2 449.6h1M355.9 438.1h1M350.6 450.2h1M376.3 432.0h1M346.1 442.1h1M358.6 449.2h1M369.8 420.8h1M355.4 434.6h1M365.6 454.8h1M360.1 442.0h1M367.5 443.5h1M349.8 446.5h1M346.9 445.1h1M341.2 466.5h1M354.9 426.5h1M347.4 444.5h1M352.0 451.5h1M364.2 442.0h1M363.6 447.5h1M360.3 450.6h1M358.1 437.8h1M358.0 440.1h1M366.5 445.6h1M345.0 459.0h1M343.9 450.9h1M351.9 452.6h1M358.8 442.3h1M364.1 436.9h1M357.8 459.3h1M374.9 436.8h1M343.9 459.0h1M358.2 437.0h1M353.2 433.3h1M365.7 447.4h1M353.6 439.5h1M362.7 440.9h1M355.5 448.4h1M363.7 447.9h1M348.0 461.6h1M360.9 451.6h1M356.0 451.5h1M366.6 446.8h1M357.0 455.9h1M345.0 444.6h1M342.0 446.2h1M368.8 442.2h1M366.4 440.3h1M356.1 466.8h1M354.5 454.4h1M352.0 456.9h1M368.1 454.7h1M359.7 459.8h1M360.4 440.5h1M352.7 431.9h1M376.7 432.3h1M350.5 454.5h1M352.8 442.9h1M376.1 431.7h1M365.5 438.2h1M344.1 451.3h1M353.8 433.5h1M365.4 438.7h1M355.5 439.1h1M364.6 445.1h1M361.8 440.9h1M347.9 451.7h1M347.8 450.4h1M362.8 439.7h1M359.1 453.7h1M363.2 444.1h1M355.6 442.2h1M362.7 432.0h1M361.9 428.2h1M362.0 443.7h1M345.5 449.7h1M354.1 461.4h1M353.3 450.1h1M350.1 443.2h1M350.2 448.3h1M349.6 460.7h1M343.8 453.7h1M364.4 448.7h1M353.5 446.8h1M354.7 457.0h1M369.2 446.8h1M359.7 446.3h1M349.8 451.2h1M358.8 437.2h1M348.5 458.3h1M348.3 441.2h1M341.3 447.5h1M348.8 453.5h1M366.0 444.9h1M346.0 467.2h1M358.2 457.0h1M350.0 451.7h1M348.3 458.6h1M346.8 446.0h1M356.5 449.1h1M346.5 453.3h1M351.5 437.7h1M351.6 445.7h1M353.5 439.7h1M350.6 446.6h1M355.5 445.3h1M357.3 445.4h1M356.2 436.9h1M386.4 430.6h1M345.0 459.3h1M346.4 446.5h1M353.9 427.9h1M349.2 454.7h1M343.6 462.5h1M349.8 450.1h1M365.7 437.5h1M367.1 446.6h1M347.4 448.8h1M366.9 440.8h1M375.1 448.1h1M346.1 452.6h1M352.0 437.7h1M358.7 443.9h1M364.4 437.2h1M358.3 443.6h1M360.3 445.2h1M359.4 435.2h1M361.5 454.1h1M363.1 448.6h1M350.3 450.7h1M357.4 441.7h1M350.1 458.4h1M354.8 449.5h1M354.7 453.4h1M352.3 438.5h1M356.4 442.5h1M354.1 425.6h1M359.9 440.9h1M368.5 442.5h1M344.9 458.5h1M376.4 439.8h1M343.3 468.4h1M360.4 441.6h1M346.7 454.2h1M370.0 455.1h1M350.5 438.2h1M366.3 445.8h1M347.0 439.6h1M351.0 449.2h1M354.5 427.5h1M356.1 445.8h1M344.2 460.3h1M341.7 461.6h1M357.7 436.0h1M341.1 449.7h1M351.7 452.5h1M357.1 440.6h1M353.7 438.1h1M345.6 439.5h1M359.8 431.4h1M353.0 461.0h1M357.2 435.4h1M371.9 453.8h1M352.2 440.5h1M355.6 459.3h1M346.1 446.6h1M367.2 422.0h1M355.3 459.1h1M362.7 434.6h1M345.9 437.8h1M340.9 461.9h1M363.4 425.1h1M350.3 448.0h1M356.4 449.9h1M361.5 446.4h1M361.9 437.2h1M351.2 434.6h1M350.8 459.3h1M349.7 443.0h1M364.5 430.1h1M369.8 434.4h1M344.7 467.6h1M370.7 438.2h1M346.8 452.1h1M360.0 451.1h1M350.8 452.4h1M356.5 448.2h1M361.3 447.8h1M359.7 454.8h1M360.1 444.8h1M362.4 437.0h1M366.3 450.0h1M360.7 441.7h1M362.0 446.3h1M363.9 426.2h1M357.7 444.6h1M352.9 441.2h1M343.4 458.2h1M342.5 463.4h1M360.2 442.4h1M360.4 443.6h1M355.3 445.3h1M347.3 450.7h1M350.9 444.4h1M348.3 441.6h1M356.3 443.9h1M341.3 465.5h1M354.1 434.1h1M349.5 454.4h1M359.7 463.2h1M358.3 445.0h1M336.2 449.1h1M347.0 444.3h1M361.8 442.2h1M345.5 439.2h1M342.5 444.3h1M351.3 454.0h1M349.1 455.9h1M353.2 462.2h1M349.9 445.6h1M363.0 445.8h1M341.3 452.1h1M356.4 458.6h1M352.9 451.1h1M365.2 446.4h1M361.9 453.9h1M344.6 445.0h1M358.3 442.8h1M348.2 455.4h1M357.6 454.7h1M355.6 438.0h1M360.5 444.2h1M347.5 443.3h1M360.3 443.1h1M345.9 452.1h1M359.4 449.7h1M371.7 442.6h1M353.6 455.1h1M344.2 453.6h1M356.5 442.3h1M348.9 451.0h1M367.5 440.0h1M352.5 459.3h1M351.4 448.9h1M355.6 446.2h1M344.4 450.9h1M355.0 452.4h1M342.2 463.2h1M360.5 431.7h1M351.4 444.7h1M348.5 462.0h1M363.4 451.2h1M369.6 442.9h1M356.3 450.9h1M356.9 443.3h1M357.0 440.1h1M354.9 450.3h1M362.2 442.5h1M348.1 453.9h1M370.8 433.2h1M355.0 436.2h1M358.2 446.5h1M348.8 451.4h1M355.1 451.2h1M349.1 438.8h1M368.0 453.8h1M345.7 455.6h1M351.4 450.1h1M359.1 439.7h1M357.7 444.8h1M348.2 460.0h1M346.3 453.1h1M355.2 443.9h1M359.8 458.4h1M345.5 455.5h1M365.6 442.1h1M343.9 439.8h1M364.8 444.4h1M352.6 432.1h1M358.5 445.3h1M357.9 438.9h1M344.9 460.3h1M356.6 448.9h1M341.1 453.3h1M356.2 443.3h1M349.3 447.2h1M349.5 455.5h1M353.4 432.9h1M342.8 460.0h1M347.2 455.7h1M341.8 449.1h1M345.9 455.9h1M355.4 439.8h1M348.8 447.7h1M355.7 444.8h1M352.1 443.4h1M352.8 447.0h1M353.4 449.1h1M346.3 458.4h1M364.1 439.2h1M344.9 463.8h1M352.6 448.9h1M362.6 455.8h1M345.9 454.1h1M353.9 452.8h1M364.1 446.1h1M358.0 446.6h1M359.4 446.7h1M356.1 441.5h1M374.7 433.0h1M345.9 455.0h1M361.9 440.0h1M357.9 451.2h1M356.2 436.0h1M364.0 433.3h1M354.3 443.2h1M353.3 439.4h1M363.7 445.5h1M361.8 430.1h1M346.8 439.3h1M356.9 443.9h1M351.9 455.4h1M345.7 459.3h1M347.7 454.8h1M356.2 445.2h1M346.7 453.3h1M354.5 447.8h1M359.1 444.6h1M348.2 452.4h1M342.3 459.7h1M366.1 441.6h1M345.6 436.1h1M358.6 442.5h1M366.3 439.5h1M353.5 445.9h1M348.7 452.0h1M356.2 447.6h1M359.7 439.1h1M351.0 435.8h1M352.8 441.2h1M350.1 441.0h1M362.2 434.8h1M363.5 426.6h1M351.7 454.4h1M368.8 434.4h1M348.3 448.1h1M360.6 440.6h1M353.8 447.4h1M359.8 446.6h1M352.5 447.1h1M361.5 435.2h1M355.1 440.5h1M358.6 444.9h1M357.4 448.6h1M358.6 443.7h1M348.2 454.1h1M346.1 456.4h1M345.6 443.3h1M370.8 428.9h1M358.5 437.0h1M358.2 451.9h1M344.1 455.4h1M362.4 435.0h1M356.8 442.4h1M347.1 447.5h1M354.3 446.4h1M351.8 452.2h1M353.4 449.2h1M360.0 442.7h1M347.5 442.8h1M341.6 439.2h1M342.8 456.0h1M359.4 449.2h1M346.4 438.8h1M358.8 446.7h1M346.0 455.4h1M357.3 445.8h1M354.1 453.7h1M369.7 444.0h1M351.9 453.0h1M358.1 459.6h1M361.1 447.8h1M349.7 451.1h1M356.1 447.9h1M358.7 444.7h1M357.1 450.8h1M346.1 454.2h1M366.4 443.7h1M343.8 458.5h1M350.8 452.7h1M353.2 451.3h1M361.0 460.6h1M362.2 450.0h1M359.0 438.7h1M353.5 450.4h1M372.7 444.6h1M347.2 453.7h1M367.4 438.8h1M363.3 445.9h1M346.7 438.1h1M355.0 440.9h1M357.4 447.1h1M353.8 453.5h1M356.8 448.1h1M348.4 455.6h1M369.0 445.1h1M362.4 443.8h1M350.1 455.2h1M343.1 449.1h1M362.0 437.7h1M351.0 443.7h1M341.0 459.8h1M353.9 456.1h1M356.9 437.1h1M362.8 461.0h1M349.0 442.7h1M359.2 447.7h1M346.5 459.9h1M352.1 449.7h1M374.7 438.6h1M372.9 439.1h1M360.1 435.7h1M343.9 441.9h1M357.4 440.9h1M345.7 460.8h1M346.5 445.4h1M356.0 444.9h1M357.3 448.0h1M351.4 465.0h1M366.9 435.0h1M341.6 465.9h1M352.9 456.3h1M348.4 444.0h1M352.5 444.8h1M358.6 437.7h1M348.8 467.0h1M364.2 443.3h1M359.9 439.4h1M357.2 452.8h1M347.6 446.5h1M367.2 429.3h1M350.8 439.5h1M349.6 453.0h1M351.7 455.8h1M352.9 456.0h1M368.6 435.4h1M347.3 438.0h1M360.6 444.8h1M360.3 451.6h1M360.0 439.8h1M353.7 444.9h1M346.2 446.0h1M351.0 458.6h1M356.3 429.0h1M348.0 456.8h1M351.3 449.6h1M360.8 450.9h1M352.5 442.7h1M356.1 453.1h1M331.0 453.2h1M353.6 439.5h1M346.3 444.2h1M345.6 452.9h1M366.6 435.4h1M351.3 448.3h1M353.5 461.4h1M372.0 440.5h1M350.9 450.4h1M341.4 457.6h1M348.6 453.7h1M342.5 449.9h1M371.7 443.4h1M355.6 437.3h1M360.6 435.6h1M374.2 433.6h1M349.2 446.6h1M367.7 436.9h1M351.8 451.4h1M344.1 445.8h1M353.7 437.1h1M347.8 454.0h1M372.8 429.8h1M381.2 433.6h1M350.9 443.1h1M350.3 438.2h1M353.0 437.8h1M345.4 468.8h1M365.4 441.9h1M353.9 444.2h1M356.0 437.3h1M345.8 451.2h1M351.8 444.0h1M346.2 453.9h1M347.5 450.4h1M352.0 447.9h1M342.2 448.9h1M360.6 446.6h1M342.0 462.2h1M364.0 437.6h1M351.4 441.1h1M364.0 427.0h1M364.4 437.4h1M359.7 444.6h1M360.8 451.8h1M352.0 455.3h1M352.1 444.6h1M359.8 442.8h1M347.5 447.2h1M360.2 437.0h1M342.9 453.0h1M366.2 440.6h1M357.3 438.4h1M353.3 446.7h1M355.0 445.8h1M349.1 462.0h1M361.6 451.9h1M352.6 442.0h1M358.5 436.1h1M348.7 455.0h1M367.4 448.8h1M353.3 442.2h1M358.5 444.4h1M349.9 454.8h1M363.5 433.3h1M369.2 448.8h1M370.8 427.5h1M341.9 456.7h1M356.4 441.8h1M360.1 441.4h1M352.4 452.8h1M343.6 442.7h1M357.0 449.7h1M367.8 434.5h1M359.0 457.1h1M347.0 444.2h1M363.4 433.9h1M358.8 460.1h1M349.9 460.9h1M345.5 454.2h1M360.9 450.0h1M346.0 452.0h1M359.5 452.0h1M346.9 457.3h1M345.7 434.9h1M342.2 455.6h1M359.5 445.0h1M348.9 457.3h1M360.6 450.6h1M346.8 439.8h1M355.8 436.3h1M348.0 440.1h1M366.0 443.6h1M347.6 445.9h1M352.0 440.8h1M357.2 430.8h1M344.2 461.6h1M356.2 450.0h1M354.3 443.7h1M342.1 444.5h1M347.5 452.4h1M362.2 441.4h1M348.8 456.2h1M358.5 449.2h1M356.2 449.2h1M351.9 462.4h1M356.9 436.9h1M343.7 445.3h1M343.7 450.9h1M346.5 445.9h1M353.9 452.0h1M347.1 460.6h1M368.7 437.6h1M351.5 437.1h1M349.3 446.8h1M352.6 451.4h1M344.7 454.3h1M341.7 470.7h1M343.5 463.5h1M353.7 451.9h1M350.0 455.3h1M349.9 449.8h1M352.9 440.2h1M368.5 443.4h1M364.9 434.9h1M351.1 434.2h1M353.3 439.0h1M350.4 450.0h1M345.3 436.3h1M369.5 428.0h1M342.1 460.0h1M347.0 463.0h1M355.9 447.7h1M358.7 448.8h1M361.8 448.6h1M348.2 441.6h1M356.3 442.2h1M360.6 441.5h1M349.3 445.6h1M360.6 442.1h1M356.8 440.2h1M359.7 447.8h1M356.1 438.2h1M357.3 449.0h1M365.6 440.4h1M353.3 453.9h1M352.5 449.5h1M351.2 451.8h1M370.2 447.2h1M364.3 449.3h1M347.2 454.1h1M362.1 438.0h1M357.1 441.3h1M346.9 450.9h1M353.0 444.6h1M364.4 457.4h1M343.8 453.2h1M351.8 467.6h1M361.9 438.3h1M349.4 450.8h1M350.0 452.3h1M344.8 451.4h1M357.7 434.9h1M351.8 436.6h1M358.5 452.1h1M352.5 455.3h1M371.3 439.7h1M370.3 428.8h1M356.1 447.1h1M351.1 447.1h1M373.9 434.0h1M345.3 455.1h1M346.0 455.0h1M351.4 450.9h1M355.0 451.4h1M362.8 444.5h1M352.2 441.4h1M348.9 447.6h1M354.0 453.0h1M360.7 449.5h1M343.4 440.2h1M353.9 447.3h1M356.3 443.1h1M349.4 453.2h1M366.2 446.0h1M345.6 453.4h1M351.0 463.7h1M354.3 444.4h1M354.1 442.4h1M359.2 451.4h1M342.7 449.0h1M378.0 440.8h1M348.8 439.8h1M378.8 421.0h1M344.0 450.4h1M346.3 444.3h1M348.8 448.4h1M364.5 440.6h1M355.7 459.1h1M362.8 437.2h1M357.5 440.7h1M352.2 454.0h1M352.9 449.1h1M347.1 456.6h1M360.5 439.8h1M363.3 459.5h1M352.1 445.2h1M356.4 451.3h1M351.2 442.3h1M361.8 434.2h1M358.2 431.4h1M344.6 445.7h1M356.6 441.5h1M342.6 451.9h1M356.2 454.8h1M361.0 452.4h1M366.4 446.4h1M345.5 443.1h1M349.8 438.3h1M368.0 431.1h1M352.5 445.3h1M369.2 440.4h1M356.2 441.7h1M353.6 446.2h1M349.4 453.1h1M355.7 443.0h1M348.0 462.7h1M361.3 444.4h1M344.1 448.2h1M363.7 438.2h1M345.8 458.0h1M350.8 454.5h1M355.2 453.4h1M360.0 439.6h1M354.6 439.2h1M341.0 465.4h1M347.6 445.2h1M371.6 445.7h1M354.4 459.0h1M356.8 439.1h1M352.6 450.3h1M351.4 444.4h1M351.3 447.1h1M366.8 446.1h1M354.4 448.5h1M359.8 446.1h1M358.7 442.0h1M358.7 447.2h1M351.1 454.0h1M343.6 450.3h1M358.3 443.9h1M344.3 446.5h1M365.8 453.5h1M342.7 450.1h1M346.1 440.9h1M343.5 452.1h1M360.9 445.0h1M351.7 442.6h1M357.3 448.7h1M347.0 438.9h1M358.7 435.4h1M353.6 441.7h1M344.1 447.6h1M363.4 436.3h1M362.9 445.0h1M356.0 441.9h1M350.2 447.8h1M354.3 443.6h1M354.2 435.5h1M346.3 452.2h1M344.4 445.6h1M346.3 447.6h1M362.9 446.7h1M349.6 445.5h1M349.8 439.0h1M356.6 444.5h1M356.9 435.4h1M343.8 453.2h1M352.8 450.2h1M359.1 444.3h1M341.7 452.1h1M363.2 450.1h1M360.6 437.8h1M350.8 462.4h1M358.9 437.4h1M371.1 442.0h1M348.0 450.3h1M355.7 443.3h1M356.3 461.2h1M342.3 449.1h1M342.0 454.1h1M343.8 450.9h1M349.6 441.6h1M350.9 439.4h1M345.9 449.7h1M359.2 457.6h1M354.3 425.1h1M371.1 435.7h1M347.0 443.2h1M364.9 432.2h1M345.6 440.8h1M349.1 453.0h1M350.1 449.1h1M348.0 446.1h1M341.6 444.4h1M351.5 464.0h1M351.8 451.3h1M359.9 440.4h1M351.6 450.4h1M348.5 457.7h1M349.5 439.3h1M351.6 444.3h1M358.1 421.0h1M365.6 438.1h1M363.1 441.8h1M351.1 461.3h1M353.2 460.2h1M347.6 448.1h1M359.7 449.4h1M349.2 438.1h1M355.0 450.5h1M340.9 445.4h1M350.2 447.9h1M342.3 449.3h1M346.9 450.9h1M344.7 454.4h1M349.2 449.5h1M359.9 440.3h1M348.0 443.9h1M355.8 448.6h1M350.4 450.8h1M343.5 430.4h1M358.2 452.8h1M353.7 448.3h1M346.8 456.6h1M346.3 456.0h1M359.5 455.2h1M350.8 438.9h1M358.1 444.9h1M351.8 451.1h1M359.5 457.7h1M361.7 444.2h1M347.9 459.3h1M363.2 433.7h1M341.9 447.6h1M350.3 453.4h1M346.4 445.8h1M366.1 437.6h1M350.1 449.1h1M351.4 450.9h1M347.2 434.6h1M360.9 438.3h1M349.0 455.4h1M360.5 442.2h1M350.5 440.3h1M344.7 461.2h1M358.1 447.8h1M351.1 453.7h1M367.4 426.9h1M344.3 452.2h1M376.5 446.1h1M355.6 456.4h1M351.2 447.9h1M346.4 452.0h1M349.3 437.2h1M348.3 459.8h1M349.2 453.9h1M356.5 439.4h1M352.7 452.7h1M365.2 431.8h1M358.7 445.3h1M354.0 456.5h1M362.6 439.3h1M349.2 457.3h1M359.3 452.0h1M344.8 467.8h1M369.7 434.3h1M342.0 452.2h1M354.2 459.6h1M360.2 430.4h1M347.6 447.8h1M349.8 452.0h1M358.0 437.7h1M349.8 440.2h1M360.0 430.7h1M347.4 447.5h1M371.2 439.0h1M353.3 457.7h1M347.3 448.5h1M351.9 443.6h1M353.5 444.5h1M349.8 462.9h1M346.2 448.5h1M363.1 441.2h1M366.1 435.1h1M362.8 448.4h1M352.3 436.6h1M365.0 447.5h1M349.7 441.6h1M365.6 459.2h1M348.2 465.8h1M350.9 459.4h1M349.9 459.1h1M341.9 446.2h1M364.9 440.2h1M359.8 437.1h1M352.0 450.7h1M354.0 446.5h1M356.9 447.7h1M350.2 456.7h1M349.0 455.9h1M342.9 449.8h1M356.7 453.5h1M363.7 449.2h1M364.8 436.9h1M374.6 438.2h1M358.9 447.3h1M357.5 459.1h1M354.9 444.4h1M352.5 447.3h1M352.5 446.6h1M358.6 438.1h1M359.9 449.0h1M360.8 446.9h1M349.4 447.8h1M352.6 437.4h1M352.6 455.0h1M350.3 444.9h1M344.4 454.6h1M354.8 443.6h1M361.1 451.3h1M359.7 446.5h1M362.4 455.5h1M350.9 456.7h1M347.5 449.7h1M357.5 444.4h1M344.2 463.4h1M352.8 438.7h1M355.2 448.3h1M366.6 448.5h1M345.5 446.3h1M346.6 451.3h1M345.1 436.8h1M351.0 439.3h1M354.7 451.7h1M345.6 451.6h1M341.6 454.0h1M361.5 432.7h1M351.4 448.3h1M348.5 452.0h1M363.0 444.1h1M348.9 446.1h1M348.1 439.8h1M342.2 448.2h1M353.9 446.0h1M352.6 436.7h1M347.2 461.8h1M347.0 452.3h1M347.1 454.7h1M352.2 449.8h1M361.9 442.8h1M347.8 442.9h1M351.5 449.1h1M358.2 442.2h1M353.7 462.9h1M356.6 462.5h1M349.8 444.0h1M349.9 445.5h1M358.3 436.0h1M366.9 443.5h1M347.9 455.6h1M353.2 442.0h1M363.1 448.7h1M343.9 448.8h1M362.4 444.4h1M357.5 433.5h1M363.5 450.0h1M342.4 450.6h1M352.7 437.7h1M358.0 451.1h1M346.7 448.6h1M372.8 448.3h1M352.0 442.8h1M352.7 451.9h1M360.1 441.3h1M370.0 443.4h1M352.1 447.0h1M354.6 450.5h1M341.2 452.0h1M349.0 449.6h1M348.3 446.8h1M348.0 448.5h1M348.5 446.8h1M367.5 430.6h1M365.0 444.2h1M357.3 440.5h1M365.1 437.5h1M342.1 440.4h1M354.9 455.3h1M349.7 454.2h1M370.7 445.1h1M348.3 448.4h1M346.8 454.6h1M363.1 443.8h1M359.0 446.0h1M365.7 431.1h1M352.5 435.5h1M354.8 453.2h1M344.2 443.4h1M355.3 434.2h1M340.9 454.7h1M353.5 439.3h1M357.7 453.5h1M360.0 435.4h1M360.4 453.2h1M351.7 437.2h1M352.9 445.0h1M345.0 434.8h1M356.8 434.6h1M366.7 440.2h1M381.1 432.7h1M361.7 441.9h1M354.5 442.2h1M358.0 447.9h1M352.6 437.0h1M365.6 439.8h1M341.3 449.8h1M357.9 434.7h1M342.4 456.7h1M347.0 450.9h1M358.8 441.5h1M361.3 445.0h1M369.0 449.7h1M345.2 453.2h1M349.7 464.5h1M352.4 455.2h1M341.8 458.9h1M356.2 447.2h1M348.0 444.7h1M351.2 448.0h1M358.7 447.1h1M353.8 436.9h1M348.4 452.4h1M365.9 440.7h1M361.8 447.7h1M365.8 439.9h1M367.5 440.9h1M344.5 464.4h1M350.9 437.3h1M353.4 440.5h1M362.3 444.5h1M354.0 456.6h1M370.5 454.0h1M365.7 436.3h1M342.7 447.5h1M354.3 452.6h1M348.7 450.9h1M369.8 448.9h1M343.9 451.4h1M349.2 430.8h1M363.0 443.9h1M342.8 453.0h1M342.2 459.6h1M372.2 452.8h1M341.7 441.4h1M354.4 464.2h1M357.8 446.1h1M364.8 440.8h1M349.7 463.8h1M372.2 441.9h1M361.5 442.9h1M342.5 461.9h1M350.0 451.0h1M349.2 449.8h1M346.9 456.7h1M361.9 443.9h1M357.3 442.2h1M342.9 451.5h1M346.1 434.8h1M349.1 441.6h1M363.8 452.0h1M355.9 447.7h1M353.9 448.0h1M346.9 455.7h1M348.4 446.5h1M356.3 440.0h1M370.1 440.7h1M358.6 447.6h1M349.5 453.3h1M351.9 443.7h1M345.8 434.8h1M349.0 437.5h1M360.5 452.5h1M359.9 443.7h1M346.0 445.7h1M355.6 445.3h1M344.2 444.7h1M352.2 439.8h1M342.5 437.6h1M361.2 446.7h1M356.5 433.7h1M336.5 455.3h1M346.3 450.7h1M346.8 452.5h1M355.5 454.8h1M356.5 445.5h1M352.2 451.0h1M347.0 452.3h1M351.5 446.0h1M360.4 440.4h1M351.1 460.3h1M362.0 438.4h1M352.2 445.1h1M348.3 456.3h1M353.8 439.4h1M347.1 455.9h1M350.0 449.6h1M345.5 453.4h1M362.2 450.4h1M358.4 444.0h1M360.6 440.3h1M350.1 429.3h1M356.8 432.9h1M371.0 441.2h1M367.7 460.9h1M366.1 437.8h1M349.0 453.4h1M351.9 459.2h1M368.3 441.3h1M356.7 452.8h1M354.0 439.8h1M349.9 445.2h1M334.8 444.9h1M354.5 441.9h1M347.4 447.9h1M345.6 460.4h1M365.6 446.4h1M357.8 428.0h1M351.5 436.5h1M359.2 445.3h1M365.2 441.3h1M358.4 449.9h1M351.2 452.1h1M354.9 452.1h1M355.8 441.1h1M374.4 442.9h1M372.3 445.8h1M351.4 457.6h1M363.0 443.7h1M352.4 456.3h1M356.0 454.4h1M353.5 451.1h1M366.5 443.1h1M359.1 447.0h1M354.7 454.0h1M357.0 440.5h1M341.7 448.7h1M357.0 435.5h1M359.5 438.2h1M364.9 441.0h1M372.7 430.9h1M355.2 454.7h1M349.5 447.2h1M351.4 454.6h1M357.2 442.5h1M353.0 436.4h1M344.3 440.1h1M352.9 449.7h1M363.6 444.9h1M350.5 446.2h1M368.0 439.7h1M354.8 446.4h1M358.5 441.4h1M346.5 442.8h1M347.6 457.9h1M349.7 445.7h1M373.1 433.9h1M345.2 446.3h1M367.1 438.3h1M352.0 440.6h1M348.0 450.8h1M346.4 448.6h1M364.8 444.7h1M362.7 449.2h1M340.9 459.4h1M361.2 457.0h1M359.6 446.3h1M352.7 455.1h1M351.1 460.3h1M352.6 446.5h1M361.9 433.7h1M357.5 462.8h1M359.2 436.2h1M343.0 452.7h1M346.9 453.9h1M346.6 459.4h1M370.0 441.9h1M352.9 442.4h1M345.1 443.6h1M350.4 448.1h1M359.1 442.1h1M362.0 422.7h1M351.7 440.9h1M356.4 445.4h1M346.6 436.3h1M358.9 433.4h1M358.7 458.9h1M355.0 439.8h1M342.1 459.3h1M345.5 459.8h1M362.7 427.7h1M367.8 437.2h1M368.6 432.5h1M348.7 446.5h1M365.6 442.2h1M347.8 440.7h1M359.1 443.2h1M354.1 444.2h1M350.3 453.5h1M341.8 465.4h1M357.5 438.0h1M359.6 444.2h1M362.4 441.1h1M354.5 438.8h1M358.1 447.9h1M367.2 442.4h1M348.6 465.1h1M344.9 445.2h1M352.4 447.6h1M355.8 452.6h1M380.0 429.1h1M348.3 454.8h1M344.0 441.9h1M367.7 443.5h1M346.6 436.2h1M358.9 449.6h1M344.7 459.7h1M352.6 445.0h1M361.2 444.4h1M365.0 432.7h1M352.6 450.3h1M354.5 454.3h1M363.3 447.8h1M347.7 450.7h1M359.8 440.2h1M341.8 450.7h1M349.6 457.6h1M351.0 453.6h1M350.0 462.0h1M363.7 446.2h1M356.3 460.0h1M363.8 443.6h1M352.0 454.9h1M353.2 436.5h1M377.4 438.0h1M355.3 444.1h1M363.8 447.2h1M357.9 442.1h1M362.5 442.9h1M360.0 449.1h1M351.1 457.5h1M360.9 448.1h1M357.7 441.1h1M349.2 442.8h1M352.4 447.3h1M351.4 436.9h1M356.9 457.5h1M360.4 459.3h1M363.7 451.6h1M368.6 437.7h1M366.5 444.1h1M366.4 439.9h1M344.3 454.9h1M347.3 448.3h1M346.3 445.5h1M378.2 433.6h1M355.3 444.6h1M341.7 456.7h1M362.8 449.8h1M358.8 447.3h1M365.4 438.4h1M361.2 439.7h1M351.3 454.3h1M360.5 446.9h1M344.0 444.4h1M353.5 455.0h1M354.9 442.2h1M361.6 433.8h1M362.9 449.6h1M344.6 462.6h1M364.0 444.4h1M368.2 438.3h1M360.6 451.1h1M341.9 442.5h1M348.9 454.4h1M363.8 428.8h1M344.5 464.4h1M357.3 440.5h1M353.8 445.7h1M351.4 449.6h1M351.2 448.3h1M371.8 449.0h1M345.0 446.5h1M364.0 438.9h1M354.3 441.5h1M343.1 453.8h1M342.6 447.6h1M354.3 427.5h1M343.8 442.9h1M346.6 453.4h1M349.8 444.6h1M359.7 453.6h1M355.8 442.0h1M354.0 449.7h1M367.4 453.6h1M368.5 440.6h1M351.4 442.6h1M352.3 451.4h1M346.9 449.5h1M364.5 442.2h1M356.1 447.4h1M350.9 448.6h1M363.7 438.3h1M343.3 450.8h1M346.9 458.0h1M367.2 443.8h1M355.8 437.6h1M346.5 439.3h1M347.6 446.6h1M349.9 443.5h1M352.6 441.4h1M343.7 454.6h1M349.3 448.0h1M372.9 437.7h1M355.3 466.9h1M345.6 447.5h1M339.5 452.9h1M358.9 429.9h1M366.8 435.8h1M347.7 451.7h1M355.6 440.8h1M346.4 459.0h1M357.1 447.5h1M347.7 443.4h1M344.8 440.9h1M360.5 440.3h1M361.0 445.5h1M357.7 442.4h1M348.5 442.4h1M350.6 434.1h1M343.2 455.8h1M353.5 450.3h1M360.1 445.0h1M364.2 457.9h1M370.4 437.1h1M379.6 434.0h1M347.7 445.6h1M371.7 446.3h1M344.5 436.3h1M374.6 437.5h1M352.0 443.3h1M348.6 438.5h1M344.7 459.2h1M355.5 450.1h1M344.8 463.2h1M358.6 448.3h1M343.9 457.5h1M360.8 435.8h1M355.5 452.3h1M337.2 444.1h1M346.2 450.2h1M354.4 441.9h1M356.8 440.3h1M355.4 446.9h1M348.1 454.5h1M342.5 440.4h1M340.6 466.1h1M352.3 451.9h1M360.5 443.8h1M351.3 470.3h1M354.1 450.9h1M362.1 436.3h1M350.0 439.0h1M354.6 446.6h1M352.9 446.0h1M350.8 441.5h1M355.0 444.5h1M372.9 436.1h1M364.2 451.2h1M362.0 449.7h1M361.3 449.9h1M347.0 442.1h1M355.4 440.1h1M341.1 454.2h1M361.2 435.0h1M363.2 440.2h1M360.8 441.4h1M357.6 439.2h1M342.8 465.7h1M350.6 445.7h1M364.8 436.6h1M359.1 431.8h1M358.3 442.8h1M355.3 446.2h1M353.3 447.1h1M351.5 444.3h1M352.0 441.6h1M350.9 449.6h1M353.8 447.0h1M351.1 447.8h1M362.1 445.2h1M362.0 437.7h1M345.8 450.0h1M355.3 445.6h1M355.9 452.6h1M358.2 441.6h1M358.0 438.3h1M347.2 442.9h1M358.2 444.4h1M352.4 437.4h1M343.9 466.9h1M342.8 456.3h1M365.9 446.8h1M354.9 448.7h1M350.1 449.2h1M369.6 424.9h1M351.2 444.2h1M346.0 453.9h1M359.5 433.0h1M356.4 459.9h1M359.7 447.9h1M359.9 442.7h1M351.7 445.3h1M356.4 458.8h1M374.3 440.6h1M362.6 452.8h1M351.2 455.7h1M353.5 456.1h1M346.8 455.5h1M349.3 449.9h1M346.7 449.1h1M346.7 454.4h1M361.5 444.5h1M352.3 447.2h1M369.7 449.5h1M352.1 449.0h1M346.1 441.0h1M351.0 447.8h1M355.4 445.4h1M344.9 447.0h1M354.8 437.6h1M343.2 459.4h1M367.9 441.0h1M358.5 438.3h1M345.2 454.4h1M348.3 458.6h1M368.5 442.6h1M348.4 450.0h1M357.5 441.4h1M349.5 442.9h1M346.2 441.7h1M365.4 443.6h1M344.1 447.4h1M355.1 444.8h1M350.0 446.8h1M348.9 451.1h1M355.5 439.6h1M353.5 451.7h1M347.3 449.2h1M342.9 448.8h1M358.6 445.7h1M356.1 446.5h1M345.3 444.8h1M342.4 448.5h1M353.8 435.9h1M362.6 435.0h1M347.6 441.7h1M364.6 444.6h1M357.8 451.8h1M348.2 448.6h1M353.0 460.2h1M357.0 433.6h1M360.6 447.9h1M357.2 431.4h1M349.4 432.6h1M343.1 463.9h1M363.8 447.3h1M343.8 448.6h1M357.7 455.0h1M342.9 455.5h1M349.1 441.2h1M340.9 459.1h1M358.0 433.4h1M355.3 434.9h1M359.2 441.5h1M358.5 446.6h1M350.7 446.0h1M373.0 436.8h1M350.5 448.5h1M344.6 454.6h1M363.5 440.1h1M357.1 456.8h1M337.1 449.2h1M368.4 460.0h1M377.0 436.2h1M349.0 444.3h1M352.8 444.0h1M351.7 444.1h1M352.4 451.7h1M341.6 434.9h1M383.8 438.6h1M358.2 448.7h1M351.1 447.3h1M352.4 462.3h1M350.6 454.8h1M342.8 458.5h1M352.6 460.0h1M363.6 439.7h1M355.2 446.8h1M353.8 441.4h1M342.3 433.3h1M342.3 444.4h1M364.9 437.2h1M360.4 439.7h1M358.5 436.9h1M358.6 442.3h1M358.3 449.9h1M349.2 437.8h1M352.6 441.8h1M350.2 454.2h1M353.7 442.1h1M345.7 445.3h1M361.1 447.2h1M353.9 452.2h1M342.1 459.3h1M372.0 428.1h1M350.5 461.8h1M357.2 439.5h1M344.3 459.0h1M343.9 443.6h1M341.7 457.8h1M363.5 442.0h1M373.8 440.2h1M357.4 442.3h1M357.0 448.8h1M354.7 453.7h1M357.4 441.8h1M352.0 447.5h1M349.9 448.9h1M357.9 438.8h1M360.8 449.5h1M358.6 441.9h1M353.5 455.4h1M361.3 447.4h1M358.8 430.8h1M353.1 442.0h1M348.6 456.0h1M347.9 443.8h1M358.7 442.6h1M352.7 450.7h1M363.4 440.8h1M363.4 449.9h1M354.1 457.5h1M347.9 451.5h1M351.0 432.7h1M342.3 454.7h1M362.6 459.3h1M354.8 446.9h1M347.1 438.0h1M347.3 449.1h1M357.5 447.6h1M360.9 448.1h1M353.1 447.2h1M362.8 433.2h1M355.8 448.3h1M348.5 442.2h1M356.0 442.0h1M368.9 425.1h1M362.2 440.6h1M355.1 436.8h1M347.8 449.2h1M365.1 443.4h1M353.0 435.9h1M361.1 450.0h1M369.0 435.2h1M363.6 433.5h1M347.6 450.5h1M345.4 453.9h1M339.4 451.0h1M350.5 456.1h1M350.9 449.6h1M352.7 458.5h1M355.7 449.4h1M350.7 453.0h1M354.8 453.3h1M356.2 440.4h1M350.4 445.0h1M341.5 454.4h1M345.9 454.6h1M352.6 446.5h1M346.3 448.2h1M363.1 441.7h1M352.3 448.9h1M355.3 451.4h1M366.0 446.4h1M348.6 457.3h1M343.2 442.6h1M350.4 441.9h1M342.8 456.8h1M351.2 450.8h1M359.0 444.8h1M374.1 431.6h1M364.5 442.7h1M347.7 449.6h1M342.5 454.4h1M356.3 441.7h1M356.5 444.1h1M354.1 446.8h1M350.8 441.7h1M347.1 441.7h1M359.5 446.5h1M353.0 465.6h1M358.7 436.8h1M343.2 448.1h1M360.0 438.4h1M374.0 435.9h1M361.0 449.6h1M357.5 441.7h1M349.7 454.6h1M357.0 449.3h1M352.0 447.2h1M362.6 447.2h1M347.0 443.1h1M355.0 449.8h1M361.8 443.2h1M360.2 449.5h1M349.9 453.4h1M368.0 437.7h1M360.2 449.1h1M350.9 442.7h1M349.8 445.2h1M347.5 444.9h1M350.5 455.7h1M352.2 451.1h1M359.7 443.7h1M345.3 448.9h1M341.7 453.2h1M358.2 440.4h1M344.1 451.8h1M356.2 439.2h1M355.3 442.1h1M360.0 448.5h1M346.0 444.9h1M353.7 460.9h1M348.9 442.3h1M357.9 438.1h1M351.4 450.3h1M356.6 448.1h1M370.9 436.2h1M367.7 435.5h1M356.7 440.9h1M353.6 445.2h1M348.8 439.6h1M350.2 445.7h1M351.1 434.7h1M361.1 443.2h1M349.4 451.5h1M347.3 449.5h1M355.8 455.5h1M346.1 450.2h1M356.5 454.5h1M367.1 430.5h1M362.8 447.6h1M331.3 454.4h1M354.7 453.7h1M356.4 449.4h1M375.6 450.0h1M346.9 450.9h1M356.6 448.9h1M351.1 446.0h1M353.1 436.1h1M360.9 445.4h1M362.0 440.5h1M367.9 432.4h1M365.6 440.6h1M361.9 445.9h1M355.6 441.0h1M343.3 457.7h1M367.6 456.9h1M344.6 453.2h1M344.7 456.9h1M356.8 455.5h1M363.9 445.6h1M342.7 451.2h1M348.0 450.2h1M371.2 435.6h1M341.3 454.1h1M360.5 440.9h1M358.5 435.4h1M352.2 439.2h1M359.1 441.5h1M360.6 450.4h1M352.7 440.0h1M342.7 440.5h1M355.6 447.5h1M363.8 440.5h1M360.9 445.6h1M356.1 436.2h1M352.2 441.0h1M366.2 453.6h1M359.7 447.4h1M357.5 433.8h1M352.9 449.2h1M357.0 448.9h1M348.0 447.2h1M361.9 440.6h1M363.6 435.1h1M360.2 431.3h1M352.2 433.5h1M362.6 442.3h1M364.5 432.7h1M349.9 454.0h1M362.4 450.0h1M353.9 445.1h1M363.2 441.0h1M348.0 457.4h1M354.5 433.8h1M353.9 437.0h1M344.1 436.8h1M349.7 446.1h1M348.4 438.7h1M350.5 438.4h1M353.1 454.3h1M363.0 440.0h1M354.7 445.6h1M355.0 429.4h1M357.6 451.8h1M354.5 436.7h1M356.6 447.0h1M366.0 450.7h1M354.9 439.5h1M349.7 444.6h1M365.6 443.0h1M359.6 419.9h1M350.5 464.6h1M361.9 439.9h1M346.5 459.1h1M369.8 440.0h1M341.6 448.6h1M357.0 436.1h1M353.7 451.6h1M360.0 439.8h1M346.6 445.8h1M371.0 453.3h1M353.5 456.2h1M365.5 426.9h1M359.3 444.9h1M345.1 457.4h1M359.2 449.0h1M342.3 462.1h1M355.1 454.9h1M364.9 441.9h1M360.9 445.9h1M345.9 465.0h1M349.4 446.5h1M356.2 450.8h1M347.9 444.2h1M357.9 443.0h1M347.8 459.6h1M341.3 463.8h1M370.5 442.5h1M343.4 462.4h1M348.0 455.0h1M359.2 444.2h1M348.8 445.8h1M364.6 449.8h1M352.0 442.7h1M348.3 459.6h1M351.1 457.7h1M365.6 446.1h1M364.5 432.6h1M356.2 450.8h1M350.6 434.0h1M378.1 436.0h1M360.1 449.7h1M346.8 436.6h1M353.7 464.2h1M351.2 450.4h1M371.2 450.9h1M357.9 450.9h1M353.6 437.5h1M366.0 432.9h1M361.7 447.8h1M348.8 437.5h1M355.3 445.2h1M356.7 451.2h1M372.3 441.7h1M360.4 449.9h1M354.8 447.9h1M348.8 435.8h1M345.8 455.3h1M344.8 447.7h1M345.9 467.0h1M371.9 440.2h1M345.8 446.5h1M370.5 442.3h1M350.6 441.9h1M348.9 456.5h1M361.6 435.4h1M353.5 443.0h1M363.3 451.5h1M380.9 426.3h1M341.4 439.6h1M346.4 453.5h1M354.8 443.5h1M362.5 451.5h1M342.7 448.9h1M353.0 441.7h1M350.9 445.7h1M347.4 431.8h1M343.9 462.9h1M348.3 449.7h1M348.6 452.6h1M354.2 455.9h1M351.2 444.7h1M344.7 452.2h1M343.3 440.8h1M368.9 433.4h1M367.3 438.4h1M374.7 433.5h1M352.8 449.4h1M342.5 459.4h1M345.6 456.2h1M344.5 452.3h1M350.5 443.3h1M374.8 438.4h1M351.5 441.7h1M350.9 446.9h1M346.2 447.7h1M359.4 450.4h1M357.4 450.3h1M359.1 442.4h1M349.8 454.0h1M348.4 456.5h1M352.4 442.5h1M350.9 455.6h1M362.9 435.5h1M352.5 438.3h1M351.7 447.3h1M362.9 452.3h1M352.7 449.3h1M351.3 446.0h1M349.8 447.5h1M357.3 441.1h1M358.2 445.4h1M352.2 453.2h1M342.6 455.5h1M367.7 436.3h1M354.7 449.9h1M347.6 446.2h1M355.4 430.2h1M343.9 455.8h1M347.6 448.8h1M350.3 444.8h1M326.1 459.9h1M370.6 439.2h1M358.4 459.7h1M357.2 441.5h1M347.7 461.1h1M348.2 463.8h1M350.8 457.0h1M367.5 444.9h1M364.9 447.5h1M357.9 443.3h1M361.5 450.2h1M368.5 438.7h1M363.0 445.7h1M362.3 444.2h1M348.4 460.5h1M348.8 448.3h1M346.6 452.4h1M359.1 434.0h1M349.7 448.6h1M349.0 439.1h1M356.6 441.6h1M346.7 433.7h1M352.3 434.7h1M363.8 431.6h1M365.9 443.5h1M372.7 433.3h1M361.0 458.6h1M353.5 445.5h1M357.6 448.2h1M356.1 442.8h1M350.5 458.7h1M346.9 446.6h1M347.3 449.0h1M360.0 443.4h1M349.7 453.0h1M354.3 446.9h1M345.3 455.8h1M357.1 442.5h1M357.5 437.8h1M349.7 437.9h1M341.3 451.5h1M345.7 446.4h1M354.3 430.9h1M349.4 442.6h1M352.6 447.8h1M353.3 450.4h1M353.3 449.3h1M357.0 430.4h1M363.8 449.7h1M360.4 454.1h1M382.4 442.7h1M351.0 447.9h1M345.7 450.5h1M342.2 457.8h1M348.3 444.8h1M356.5 451.0h1M345.7 453.5h1M361.7 455.7h1M352.5 453.6h1M341.7 452.3h1M358.1 454.1h1M364.0 442.9h1M369.9 426.0h1M350.5 441.8h1M341.9 453.5h1M341.6 454.2h1M360.1 437.8h1M358.3 439.9h1M353.2 438.4h1M365.3 454.7h1M358.1 439.3h1" stroke="#ff0000" stroke-width="1" stroke-opacity="0.55" fill="none"/>
<path d="M359.2 439.9h1M385.0 433.8h1M356.1 435.5h1M363.9 435.6h1M382.7 424.3h1M377.2 434.3h1M368.0 446.7h1M369.9 437.2h1M374.7 436.5h1M360.3 441.8h1M381.2 430.3h1M379.8 425.6h1M374.5 422.9h1M371.3 432.8h1M360.6 448.1h1M371.8 438.0h1M375.0 424.2h1M360.5 434.7h1M361.4 442.2h1M359.2 435.2h1M378.1 430.1h1M359.1 445.0h1M365.9 441.1h1M375.0 430.5h1M368.4 433.1h1M379.4 434.1h1M365.1 430.6h1M361.0 439.2h1M382.0 429.5h1M369.5 434.3h1M379.1 437.1h1M381.8 427.5h1M368.8 436.8h1M364.8 434.6h1M383.2 438.5h1M360.1 439.8h1M362.0 440.4h1M374.5 429.6h1M375.1 433.3h1M369.3 449.5h1M372.4 425.1h1M381.6 431.1h1M372.2 437.9h1M375.1 435.1h1M376.7 427.0h1M370.3 434.2h1M366.7 442.1h1M366.0 426.7h1M383.3 443.2h1M358.5 439.3h1M377.8 433.9h1M364.1 436.6h1M378.5 434.4h1M369.5 441.1h1M363.6 426.5h1M381.8 436.1h1M364.1 433.7h1M363.3 429.5h1M377.2 421.6h1M358.8 448.8h1M361.1 437.7h1M358.3 433.0h1M363.3 422.4h1M376.8 433.6h1M387.2 432.0h1M380.6 429.9h1M356.6 441.5h1M375.3 433.1h1M378.1 428.8h1M374.7 430.4h1M385.7 430.9h1M367.5 427.9h1M359.9 451.9h1M387.2 418.0h1M374.8 433.0h1M362.8 436.8h1M368.9 435.4h1M349.2 452.6h1M385.3 426.0h1M369.6 433.1h1M367.3 430.0h1M366.5 431.2h1M364.0 439.1h1M382.4 432.6h1M372.1 438.3h1M384.8 419.7h1M368.6 436.1h1M360.3 439.0h1M374.3 429.5h1M373.2 433.8h1M358.5 434.1h1M364.8 434.5h1M382.3 423.2h1M368.9 435.4h1M359.7 434.9h1M380.9 432.2h1M350.3 451.7h1M378.3 425.8h1M396.3 423.3h1M364.9 439.0h1M364.7 434.8h1M376.9 424.1h1M381.1 422.0h1M383.0 436.0h1M363.4 441.8h1M383.4 426.5h1M384.6 432.0h1M365.9 438.3h1M368.0 436.7h1M358.8 447.2h1M362.6 436.5h1M371.9 433.4h1M367.6 429.6h1M366.5 436.0h1M370.9 420.9h1M373.4 432.5h1M377.8 434.1h1M368.3 435.4h1M373.5 434.2h1M379.7 438.9h1M363.6 445.6h1M361.7 430.6h1M361.6 447.5h1M360.0 427.4h1M377.8 420.6h1M377.2 428.9h1M376.3 429.4h1M377.4 436.6h1M371.7 433.4h1M370.5 443.8h1M359.5 435.6h1M371.8 431.3h1M366.1 432.6h1M380.8 432.5h1M388.0 422.0h1M372.7 435.5h1M376.7 428.4h1M372.6 434.8h1M381.5 426.5h1M368.3 435.2h1M378.6 419.4h1M376.5 436.7h1M381.8 421.2h1M374.3 445.6h1M367.4 439.6h1M385.6 427.9h1M361.0 439.4h1M357.7 439.9h1M373.7 422.1h1M383.9 428.7h1M375.1 446.8h1M386.4 422.9h1M378.9 435.1h1M354.4 436.4h1M384.7 417.7h1M383.8 424.7h1M387.3 415.5h1M365.7 437.9h1M393.3 429.4h1M372.2 434.8h1M383.1 449.6h1M372.3 433.2h1M376.7 420.4h1M375.0 429.9h1M382.6 422.8h1M371.6 430.9h1M375.5 428.8h1M372.7 431.2h1M350.8 451.5h1M364.5 439.4h1M354.6 447.4h1M363.8 434.9h1M367.1 428.0h1M385.3 421.9h1M364.3 430.2h1M365.1 430.0h1M374.9 432.5h1M376.1 433.5h1M377.9 437.2h1M384.6 427.5h1M371.3 431.0h1M374.9 425.8h1M357.1 432.7h1M381.6 430.5h1M366.8 445.2h1M371.3 428.5h1M364.1 441.9h1M376.8 433.2h1M368.3 428.9h1M389.4 412.9h1M367.8 440.2h1M365.5 433.1h1M362.7 436.5h1M378.6 433.7h1M372.2 436.5h1M364.4 434.1h1M359.4 432.2h1M358.6 433.8h1M369.9 437.1h1M369.7 433.7h1M381.7 423.9h1M360.7 420.3h1M355.6 428.6h1M387.8 417.1h1M350.4 430.5h1M381.9 427.8h1M374.2 431.2h1M376.4 433.8h1M372.8 427.3h1M366.7 441.2h1M360.2 438.9h1M373.0 419.5h1M376.7 422.8h1M379.2 420.2h1M366.3 428.2h1M361.0 437.4h1M364.7 449.4h1M379.6 429.8h1M385.0 428.7h1M368.3 426.5h1M365.3 438.1h1M370.6 426.3h1M366.3 428.9h1M367.8 434.7h1M366.4 435.5h1M351.1 437.8h1M380.0 425.3h1M370.0 445.4h1M371.7 428.2h1M369.3 438.3h1M377.5 427.9h1M371.4 431.2h1M382.2 422.0h1M360.5 444.3h1M369.9 438.9h1M385.1 429.9h1M382.2 419.2h1M357.4 440.1h1M372.7 426.1h1M365.0 433.7h1M372.3 430.8h1M369.9 431.8h1M343.0 448.5h1M382.0 431.0h1M380.2 424.0h1M364.5 439.2h1M369.4 436.4h1M361.9 444.7h1M368.3 435.2h1M346.8 439.4h1M374.3 423.1h1M374.2 429.6h1M358.1 456.4h1M365.2 431.3h1M364.1 440.7h1M363.0 441.7h1M382.1 427.8h1M370.8 438.1h1M383.7 425.9h1M383.4 428.3h1M364.1 429.2h1M365.0 424.8h1M368.6 429.6h1M385.5 421.4h1M380.2 423.2h1M366.1 435.8h1M365.0 438.5h1M368.5 436.8h1M380.3 441.0h1M374.8 428.5h1M375.1 427.8h1M376.7 443.8h1M363.2 435.1h1M378.1 428.1h1M361.4 441.1h1M380.2 426.9h1M367.5 440.1h1M381.2 436.0h1M386.9 431.6h1M374.2 440.3h1M366.3 432.9h1M377.9 438.0h1M365.8 437.2h1M359.0 439.0h1M368.1 439.2h1M368.1 430.4h1M364.5 447.2h1M371.6 433.8h1M372.7 437.2h1M375.4 433.8h1M361.4 435.8h1M379.1 436.1h1M366.2 444.8h1M363.3 439.0h1M373.0 426.8h1M360.3 444.8h1M368.5 429.4h1M363.1 447.4h1M365.6 435.5h1M363.0 446.9h1M371.8 434.1h1M382.7 424.5h1M357.0 435.0h1M367.2 424.4h1M384.6 418.6h1M371.6 443.3h1M374.6 439.6h1M361.1 436.4h1M388.0 421.0h1M385.6 422.9h1M378.8 440.3h1M363.1 428.1h1M368.4 441.1h1M383.8 420.9h1M368.3 436.6h1M348.3 446.5h1M358.7 431.4h1M366.8 419.4h1M376.0 424.1h1M379.2 426.0h1M393.3 417.2h1M369.8 437.4h1M369.3 422.1h1M361.2 441.7h1M359.0 433.4h1M366.5 424.7h1M379.6 433.3h1M363.5 432.5h1M372.2 426.1h1M372.8 434.2h1M381.0 430.0h1M365.3 434.2h1M363.0 448.6h1M368.0 426.9h1M365.8 443.0h1M357.5 435.9h1M360.2 423.4h1M358.1 453.0h1M381.6 427.7h1M368.8 437.0h1M361.6 440.6h1M369.3 435.7h1M368.6 438.1h1M383.1 425.3h1M371.5 440.2h1M358.0 453.0h1M372.8 431.2h1M375.4 419.5h1M373.8 420.8h1M361.1 436.5h1M362.1 435.1h1M363.4 440.7h1M369.9 429.7h1M372.1 431.8h1M392.7 424.6h1M359.1 450.4h1M363.2 435.9h1M363.5 437.6h1M379.1 425.1h1M368.9 434.3h1M365.8 424.1h1M378.8 436.1h1M372.4 426.2h1M376.5 441.5h1M348.8 433.2h1M367.8 432.2h1M353.4 443.8h1M378.0 432.7h1M375.8 427.8h1M378.4 426.4h1M379.8 428.0h1M366.0 433.4h1M360.4 441.2h1M373.0 427.9h1M351.8 442.5h1M372.5 437.1h1M377.8 420.5h1M382.1 441.0h1M348.7 441.0h1M372.7 441.6h1M364.0 443.3h1M356.1 447.5h1M363.8 436.5h1M375.3 434.3h1M369.4 430.7h1M377.1 429.2h1M375.3 435.2h1M373.0 422.1h1M378.3 424.4h1M382.2 426.5h1M376.2 435.7h1M387.5 430.5h1M386.5 423.5h1M381.1 437.3h1M371.4 427.9h1M357.2 433.7h1M384.7 430.0h1M356.4 447.9h1M360.0 437.4h1M375.9 434.8h1M378.4 429.5h1M364.8 431.2h1M364.0 438.9h1M354.9 449.2h1M368.1 438.4h1M387.8 425.9h1M366.6 428.5h1M374.3 445.3h1M376.8 436.4h1M371.9 438.0h1M382.3 423.2h1M369.2 448.4h1M363.1 429.9h1M374.4 430.9h1M357.2 452.8h1M372.5 430.5h1M375.0 425.6h1M369.1 434.0h1M358.9 445.3h1M357.7 442.9h1M366.8 428.4h1M368.8 424.1h1M349.4 429.5h1M369.6 430.2h1M369.4 426.8h1M371.6 428.6h1M362.4 448.9h1M364.9 444.1h1M360.5 432.6h1M357.4 433.9h1M352.5 450.2h1M380.3 433.1h1M365.2 432.4h1M378.7 428.3h1M364.2 428.4h1M349.7 435.1h1M366.9 434.2h1M363.8 442.2h1M367.8 423.7h1M373.8 426.4h1M379.6 433.7h1M375.8 423.8h1M371.3 429.0h1M381.3 434.2h1M383.4 434.1h1M380.2 420.0h1M357.1 442.8h1M365.8 423.6h1M357.1 454.4h1M378.8 428.9h1M361.4 443.1h1M367.3 436.9h1M375.8 420.6h1M383.7 422.3h1M360.3 439.0h1M368.3 427.3h1M383.2 425.5h1M368.0 435.8h1M360.0 435.4h1M375.9 424.3h1M362.9 428.0h1M379.4 433.3h1M390.3 424.8h1M372.6 429.7h1M360.2 450.3h1M375.0 438.8h1M354.5 433.4h1M360.1 445.2h1M374.4 433.9h1M379.2 430.1h1M373.2 422.2h1M371.4 449.7h1M376.8 431.4h1M368.0 432.7h1M377.7 420.8h1M366.0 435.9h1M377.1 420.0h1M363.7 440.0h1M374.2 439.2h1M381.2 440.2h1M355.1 433.6h1M383.5 433.2h1M371.8 426.7h1M387.7 434.0h1M358.8 444.5h1M377.9 420.9h1M377.9 426.8h1M385.0 423.9h1M370.0 440.6h1M359.9 441.7h1M391.5 421.6h1M373.9 428.6h1M391.0 420.8h1M364.2 446.9h1M373.1 435.9h1M365.7 429.8h1M353.6 447.6h1M362.5 439.4h1M370.0 426.2h1M372.1 438.4h1M366.1 435.2h1M375.0 435.4h1M375.8 430.5h1M360.5 441.6h1M361.6 434.1h1M365.5 445.8h1M375.0 437.4h1M383.6 434.1h1M360.3 443.2h1M371.9 430.5h1M367.7 433.3h1M372.9 434.3h1M364.0 435.7h1M366.2 432.7h1M362.9 446.6h1M353.7 453.1h1M374.6 423.7h1M358.4 440.4h1M351.7 423.7h1M369.1 428.3h1M370.2 425.0h1M368.6 419.0h1M365.1 436.6h1M372.7 435.7h1M366.9 443.3h1M362.4 435.0h1M361.0 429.5h1M378.8 423.4h1M377.4 432.0h1M372.4 438.2h1M378.2 424.3h1M360.8 440.3h1M369.3 443.2h1M374.4 427.1h1M385.1 423.9h1M383.5 424.8h1M363.8 433.7h1M374.7 425.2h1M365.9 434.9h1M363.9 436.4h1M370.0 426.2h1M380.5 437.8h1M373.0 433.4h1M377.1 441.2h1M374.8 425.4h1M367.9 437.9h1M365.0 438.0h1M370.9 437.5h1M359.9 443.5h1M377.9 438.5h1M373.2 428.5h1M377.8 422.3h1M367.2 425.4h1M360.4 444.2h1M368.6 430.8h1M366.6 426.0h1M374.0 430.6h1M375.7 435.9h1M364.4 430.2h1M372.3 433.5h1M364.9 435.2h1M366.4 444.2h1M366.4 429.6h1M376.8 426.6h1M375.5 425.6h1M382.5 435.8h1M397.8 410.7h1M368.0 435.8h1M373.6 444.6h1M362.8 438.0h1M367.1 438.6h1M382.7 420.7h1M370.6 429.7h1M377.8 427.8h1M378.3 437.4h1M366.8 434.7h1M352.2 432.5h1M369.3 436.6h1M368.6 425.0h1M365.1 424.4h1M373.4 425.3h1M366.3 445.8h1M379.6 426.8h1M366.4 430.3h1M377.3 424.8h1M380.9 423.9h1M365.2 440.0h1M371.8 425.1h1M366.5 425.0h1M366.9 432.1h1M372.5 430.8h1M381.0 427.1h1M371.6 419.3h1M374.1 439.6h1M359.6 438.8h1M370.2 432.7h1M370.2 438.0h1M384.8 424.9h1M361.6 438.8h1M367.2 433.2h1M358.7 435.7h1M378.1 426.5h1M371.9 432.8h1M373.2 424.7h1M369.7 432.3h1M367.9 436.4h1M386.1 420.4h1M370.3 424.9h1M370.7 436.6h1M374.0 437.5h1M354.7 436.0h1M367.1 427.0h1M385.7 431.7h1M377.4 429.7h1M374.2 430.8h1M369.3 451.5h1M380.8 422.6h1M385.4 421.3h1M371.1 428.3h1M379.7 432.3h1M381.6 433.3h1M376.2 432.7h1M354.6 443.8h1M365.1 427.1h1M371.8 437.3h1M375.3 419.8h1M370.0 433.6h1M368.9 428.4h1M368.7 427.1h1M364.1 442.5h1M386.0 423.5h1M378.8 425.1h1M374.7 430.4h1M356.1 447.4h1M360.9 444.8h1M366.2 444.5h1M376.3 422.8h1M368.4 443.3h1M364.0 443.7h1M375.0 430.0h1M352.9 440.6h1M391.7 417.9h1M369.7 430.5h1M360.6 433.7h1M363.4 446.4h1M355.6 422.7h1M372.9 431.6h1M367.3 435.0h1M370.4 435.2h1M374.7 420.5h1M369.8 430.4h1M368.9 433.2h1M373.6 439.7h1M374.3 425.6h1M368.0 434.0h1M360.7 436.6h1M360.0 427.6h1M373.4 434.4h1M366.4 436.1h1M371.8 427.5h1M381.2 424.6h1M381.6 438.0h1M360.3 445.0h1M364.9 436.9h1M360.0 442.8h1M358.0 446.1h1M367.6 440.0h1M378.5 434.6h1M383.2 428.4h1M354.5 439.1h1M367.4 439.6h1M369.2 438.4h1M369.2 430.6h1M379.0 435.6h1M364.5 447.6h1M366.1 433.3h1M374.5 437.3h1M356.5 448.1h1M358.8 443.8h1M374.3 430.8h1M358.8 433.3h1M359.9 448.3h1M380.7 425.9h1M353.1 453.1h1M373.5 433.0h1M370.9 442.5h1M379.9 421.0h1M348.6 442.5h1M378.7 428.7h1M360.1 434.5h1M377.2 423.9h1M367.7 422.8h1M380.0 428.8h1M361.5 423.3h1M363.5 446.4h1M371.0 438.3h1M357.8 433.5h1M378.8 426.4h1M363.1 441.8h1M375.1 424.9h1M366.1 435.0h1M370.0 428.1h1M376.4 426.2h1M393.4 422.6h1M373.9 428.5h1M370.3 432.5h1M379.5 436.2h1M386.7 423.8h1M378.0 429.9h1M372.8 440.7h1M364.2 421.5h1M364.1 436.7h1M361.0 443.0h1M364.8 426.7h1M365.4 443.1h1M382.9 428.0h1M395.2 426.3h1M372.3 428.4h1M378.6 422.6h1M364.5 430.4h1M365.3 432.0h1M376.6 435.0h1M370.1 420.6h1M365.1 439.9h1M373.7 430.3h1M369.2 424.8h1M356.7 432.9h1M368.2 437.7h1M371.4 435.6h1M356.3 432.8h1M366.8 442.3h1M356.0 433.8h1M384.7 428.4h1M376.1 426.8h1M350.5 437.4h1M380.2 437.2h1M366.2 435.9h1M363.1 444.3h1M356.5 440.7h1M384.3 434.0h1M362.9 436.5h1M375.7 426.1h1M361.9 434.8h1M369.8 433.7h1M369.6 442.4h1M363.0 441.1h1M368.5 429.6h1M358.3 447.9h1M366.9 443.7h1M372.6 432.4h1M357.2 430.6h1M366.4 440.8h1M364.2 435.9h1M380.0 428.5h1M370.6 443.4h1M377.8 424.9h1M356.1 439.4h1M380.3 422.0h1M360.9 439.0h1M375.8 431.8h1M375.2 429.1h1M375.9 426.3h1M375.5 421.1h1M384.2 424.6h1M364.5 437.4h1M375.8 427.5h1M369.2 428.0h1M384.0 440.1h1M381.1 420.2h1M367.8 425.8h1M344.3 449.3h1M371.7 436.3h1M363.3 423.0h1M369.5 432.1h1M367.8 436.5h1M396.0 413.7h1M364.5 421.6h1M374.9 437.3h1M379.7 425.8h1M379.0 425.3h1M357.8 424.8h1M374.8 429.8h1M361.0 441.7h1M358.0 435.5h1M367.6 434.5h1M365.4 438.3h1M378.8 425.3h1M370.1 432.3h1M377.3 428.9h1M370.7 432.6h1M385.1 430.2h1M389.5 415.9h1M376.8 435.1h1M371.0 422.7h1M347.9 438.4h1M364.7 436.6h1M364.0 443.9h1M371.1 441.3h1M353.4 433.5h1M373.6 437.7h1M374.1 433.6h1M356.1 444.8h1M382.4 433.3h1M378.8 448.5h1M381.6 422.2h1M368.4 433.1h1M363.9 443.2h1M365.3 433.3h1M366.2 445.7h1M367.3 434.8h1M374.6 420.9h1M373.2 430.7h1M359.6 434.3h1M380.7 424.5h1M361.6 444.1h1M375.0 432.4h1M383.9 422.1h1M353.5 440.0h1M373.0 431.6h1M385.0 431.2h1M374.9 426.7h1M358.2 438.9h1M383.6 436.0h1M368.4 439.8h1M379.4 424.4h1M363.2 438.4h1M355.4 441.6h1M368.8 427.2h1M375.4 431.0h1M364.0 432.4h1M375.3 429.4h1M370.6 439.9h1M386.3 420.5h1M363.3 429.8h1M374.7 434.6h1M374.9 432.9h1M362.1 437.3h1M387.9 423.6h1M363.9 438.0h1M382.8 421.0h1M372.9 426.0h1M352.4 441.5h1M375.3 425.5h1M376.6 426.0h1M373.3 433.1h1M365.9 437.6h1M387.9 418.0h1M380.6 430.9h1M381.3 437.3h1M374.9 436.0h1M369.1 436.3h1M378.0 438.0h1M377.2 430.2h1M364.2 436.4h1M364.3 431.9h1M365.6 443.1h1M359.4 450.8h1M367.9 436.2h1M360.2 439.6h1M370.3 439.0h1M371.4 431.0h1M374.1 432.1h1M369.2 443.3h1M375.2 438.3h1M371.2 428.8h1M352.0 439.5h1M374.1 428.1h1M378.1 443.0h1M368.1 432.1h1M362.8 434.9h1M367.4 447.0h1M367.1 445.3h1M368.8 431.9h1M418.5 376.7h1M411.3 391.5h1M403.8 396.6h1M414.4 393.2h1M428.0 385.2h1M381.4 410.3h1M419.8 381.0h1M422.5 390.2h1M421.4 387.0h1M414.2 398.7h1M412.8 392.7h1M404.0 395.5h1M390.7 401.1h1M397.0 386.9h1M418.8 391.3h1M399.2 410.0h1M410.2 391.0h1M423.1 399.7h1M419.0 399.8h1M414.7 399.5h1M418.5 384.1h1M402.6 403.0h1M404.7 394.9h1M423.2 386.0h1M409.7 401.9h1M385.8 418.3h1M432.7 390.3h1M381.0 396.6h1M390.6 399.8h1M400.6 404.9h1M407.9 403.4h1M375.5 414.9h1M436.6 390.9h1M410.3 389.1h1M413.8 390.1h1M426.0 381.7h1M400.3 386.6h1M397.7 397.2h1M377.4 399.8h1M421.1 383.0h1M389.9 398.9h1M390.9 397.5h1M406.1 389.2h1M398.3 408.9h1M409.5 397.0h1M398.9 407.2h1M398.9 402.5h1M403.9 396.0h1M409.4 388.2h1M423.4 392.7h1M402.1 412.8h1M382.0 400.6h1M445.4 387.8h1M432.0 383.1h1M396.0 401.0h1M406.3 405.8h1M421.8 399.2h1M410.1 392.8h1M403.2 400.3h1M407.2 394.9h1M397.3 403.7h1M424.2 399.4h1M448.1 381.3h1M415.1 378.4h1M398.3 410.0h1M404.1 401.5h1M420.0 392.2h1M393.7 398.9h1M422.4 394.9h1M400.1 402.6h1M412.5 396.8h1M402.6 405.1h1M427.6 396.4h1M406.2 399.3h1M403.1 384.5h1M387.4 413.3h1M423.0 387.5h1M409.8 398.5h1M415.2 398.1h1M374.7 409.1h1M400.3 395.8h1M378.7 421.1h1M389.8 406.7h1M426.9 392.5h1M400.9 401.0h1M390.8 392.1h1M409.5 401.7h1M412.6 402.2h1M408.2 383.2h1M400.5 390.0h1M444.6 383.3h1M424.9 382.5h1M398.1 393.9h1M403.1 397.9h1M415.5 392.8h1M406.2 390.1h1M410.6 392.4h1M417.7 393.8h1M421.3 394.9h1M433.0 401.1h1M413.4 397.1h1M405.8 390.8h1M409.5 393.8h1M447.1 380.5h1M428.8 394.4h1M412.5 389.2h1M413.6 390.2h1M406.7 395.0h1M422.7 388.0h1M408.7 400.1h1M404.8 398.2h1M415.8 392.8h1M418.0 400.1h1M438.3 381.6h1M391.8 395.7h1M409.5 392.0h1M410.6 394.7h1M411.0 397.6h1M411.6 398.2h1M406.7 399.0h1M407.3 399.7h1M404.1 397.1h1M410.5 403.9h1M411.8 391.3h1M414.3 393.4h1M413.7 393.9h1M413.2 386.9h1M407.8 404.1h1M409.6 390.5h1M397.4 395.2h1M396.0 396.9h1M408.7 384.2h1M397.4 396.9h1M390.0 411.7h1M398.8 409.3h1M398.6 392.6h1M402.8 391.1h1M416.0 395.1h1M412.1 393.9h1M400.9 405.5h1M392.8 405.6h1M409.9 405.7h1M431.5 383.7h1M419.8 389.4h1M401.4 400.0h1M420.3 392.3h1M422.1 399.0h1M414.2 390.3h1M415.4 394.9h1M415.2 390.9h1M403.4 390.9h1M418.7 402.4h1M394.9 405.4h1M419.4 381.9h1M393.5 405.2h1M406.7 392.1h1M404.3 402.2h1M428.8 386.7h1M439.6 375.7h1M407.9 391.9h1M407.9 387.4h1M396.1 393.3h1M427.7 382.5h1M382.2 415.7h1M406.9 395.8h1M408.8 402.3h1M399.2 404.3h1M420.8 396.7h1M413.9 389.4h1M424.6 390.7h1M399.2 392.7h1M416.5 402.2h1M406.7 398.5h1M422.1 392.6h1M424.2 383.0h1M396.6 399.8h1M434.3 375.4h1M411.7 397.2h1M409.7 404.9h1M418.9 378.7h1M400.0 399.3h1M407.5 400.7h1M413.3 383.9h1M413.2 401.4h1M414.6 390.6h1M390.9 406.3h1M407.3 401.6h1M426.9 388.0h1M397.7 406.5h1M435.1 388.0h1M435.8 381.4h1M408.1 391.1h1M421.9 392.9h1M401.6 393.7h1M410.9 399.2h1M387.8 395.5h1M418.0 376.8h1M385.5 417.4h1M409.3 396.8h1M405.6 403.9h1M401.1 390.6h1M411.8 391.2h1M410.3 395.0h1M389.6 392.2h1M409.0 395.7h1M412.1 393.0h1M405.8 396.5h1M393.2 397.6h1M388.9 407.0h1M408.9 396.6h1M413.0 392.9h1M407.8 387.1h1M414.2 397.1h1M421.7 389.1h1M428.8 377.6h1M421.1 393.9h1M384.1 391.8h1M417.6 388.2h1M418.0 382.8h1M410.1 399.7h1M418.6 396.0h1M387.2 413.3h1M421.6 392.4h1M427.0 376.1h1M388.4 414.7h1M410.7 390.0h1M432.2 380.6h1M418.8 381.0h1M413.1 397.0h1M429.9 377.1h1M424.1 382.1h1M418.9 391.2h1M405.9 392.2h1M425.5 386.0h1M408.9 394.6h1M412.2 392.6h1M443.4 374.9h1M419.6 382.7h1M397.5 406.7h1M414.8 387.0h1M405.2 408.1h1M418.8 388.5h1M435.0 395.0h1M432.2 383.2h1M431.3 371.6h1M416.3 394.1h1M405.3 393.2h1M442.8 375.4h1M396.9 406.4h1M395.7 402.4h1M405.8 405.2h1M397.6 398.1h1M393.6 406.0h1M420.1 395.2h1M425.6 395.4h1M416.7 384.0h1M423.1 401.1h1M409.4 395.7h1M431.4 378.9h1M409.2 406.2h1M404.5 393.6h1M406.3 401.4h1M408.7 393.5h1M400.2 400.2h1M389.2 401.1h1M392.7 403.3h1M413.9 385.4h1M402.5 394.9h1M395.7 402.3h1M404.8 407.1h1M427.1 386.2h1M399.1 396.9h1M407.1 392.6h1M415.6 399.9h1M407.4 397.7h1M407.7 395.8h1M426.5 394.8h1M409.4 395.1h1M375.3 415.2h1M426.8 394.4h1M406.9 403.9h1M414.8 392.0h1M399.0 411.1h1M428.2 389.8h1M414.2 390.5h1M425.4 377.8h1M416.9 390.9h1M401.4 404.3h1M392.1 405.7h1M397.5 396.9h1M434.6 381.7h1M408.0 394.7h1M405.7 401.7h1M401.3 402.6h1M416.6 395.8h1M403.5 396.5h1M415.4 395.3h1M419.9 403.1h1M430.5 381.5h1M421.8 388.3h1M410.5 388.4h1M398.5 384.6h1M414.8 399.4h1M401.0 400.9h1M432.9 375.5h1M415.9 394.9h1M403.3 396.8h1M396.4 407.3h1M391.8 406.7h1M432.8 383.1h1M392.9 404.1h1M415.5 383.7h1M395.3 399.5h1M432.5 386.6h1M393.5 390.0h1M419.3 396.5h1M408.4 401.3h1M425.3 387.8h1M402.8 404.9h1M424.4 391.6h1M395.2 400.0h1M393.0 408.9h1M407.5 390.2h1M407.2 392.9h1M411.6 400.3h1M412.9 391.3h1M388.6 403.7h1M399.5 402.8h1M420.3 384.9h1M422.2 387.0h1M416.3 452.2h1M426.5 443.2h1M399.7 443.5h1M400.7 421.4h1M386.7 444.7h1M393.2 452.9h1M403.9 455.9h1M370.6 426.2h1M419.6 442.6h1M379.1 439.4h1M401.2 448.2h1M406.1 445.8h1M396.5 438.7h1M430.6 454.5h1M412.1 440.3h1M414.5 443.3h1M418.6 419.7h1M378.7 441.0h1M381.2 438.7h1M369.2 437.2h1M418.7 423.5h1M391.7 459.0h1M376.7 425.3h1M404.3 436.1h1M387.2 460.5h1M391.1 444.1h1M412.8 457.4h1M411.9 428.9h1M374.4 446.5h1M401.9 464.2h1M369.2 416.0h1M381.1 447.6h1M426.0 421.9h1M390.2 443.6h1M391.0 433.3h1M422.2 429.9h1M396.4 424.5h1M426.3 458.0h1M406.6 444.1h1M408.2 423.7h1M378.0 437.4h1M414.5 466.3h1M386.4 443.8h1M406.1 438.2h1M380.6 435.9h1M402.1 424.9h1M392.3 447.7h1M377.5 443.3h1M389.3 442.0h1M400.6 429.3h1M414.0 431.7h1M388.9 436.4h1M403.2 442.4h1M378.9 455.8h1M374.9 443.9h1M426.4 462.2h1M393.0 450.2h1M389.0 450.3h1M414.1 445.3h1M423.8 437.9h1M435.1 463.9h1M455.0 459.4h1M445.1 464.5h1M442.4 444.7h1M457.6 467.6h1M407.3 464.7h1M394.3 428.9h1M389.9 422.3h1M393.0 456.2h1M393.7 466.1h1M444.7 434.3h1M387.2 452.8h1M446.6 446.5h1M407.5 467.6h1M440.3 444.5h1M399.7 458.6h1M432.6 431.3h1M459.0 441.2h1M419.7 471.7h1M436.2 424.5h1M395.5 467.8h1M457.9 422.7h1M400.0 452.5h1M399.1 449.7h1M398.0 429.0h1M448.7 456.3h1M397.0 468.6h1M403.4 435.8h1M435.9 451.8h1M398.8 443.7h1M427.7 397.2h1M398.4 398.8h1M414.8 379.5h1M420.1 379.7h1M401.0 415.8h1M385.7 398.5h1M422.2 409.1h1M428.4 387.2h1M444.3 397.4h1M386.2 389.1h1M384.3 394.8h1M428.7 401.0h1M398.2 375.3h1M448.4 383.6h1M428.9 396.0h1M426.8 390.7h1M411.1 416.3h1M434.3 381.9h1M418.7 415.4h1M439.1 395.0h1M430.5 380.0h1M420.6 402.4h1M385.3 386.1h1M408.0 402.5h1M389.8 393.0h1M407.1 395.4h1M441.6 386.0h1M437.9 402.6h1M415.3 396.0h1M443.7 415.0h1M423.8 400.1h1M437.7 415.4h1M443.6 417.7h1M403.5 402.1h1M409.4 417.4h1M390.3 396.5h1M437.6 376.3h1M403.9 403.7h1M449.9 406.2h1M426.1 385.2h1" stroke="#ff1a1a" stroke-width="0.9" stroke-opacity="0.6" fill="none"/>
<path d="M349.0 474.9h1M370.3 474.9h1M356.5 474.9h1M360.7 474.9h1M348.2 474.9h1M351.2 474.9h1M338.0 474.9h1M359.3 474.9h1M356.2 474.9h1M344.2 474.9h1M357.1 474.9h1M350.1 474.9h1M336.5 474.9h1M367.2 474.9h1M344.8 474.9h1M354.6 474.9h1M355.9 474.9h1M366.4 474.9h1M354.4 474.9h1M359.2 474.9h1M340.6 474.9h1M356.1 474.9h1M349.4 474.9h1M370.3 474.9h1M340.8 474.9h1M351.5 474.9h1M340.0 474.9h1M352.5 474.9h1M351.5 474.9h1M336.1 474.9h1M349.2 474.9h1M346.2 474.9h1M347.5 474.9h1M341.5 474.9h1M348.1 474.9h1M365.4 474.9h1M361.3 474.9h1M371.5 474.9h1M354.8 474.9h1M368.1 474.9h1M371.7 474.9h1M364.9 474.9h1M366.4 474.9h1M352.4 474.9h1M364.0 474.9h1M341.3 474.9h1M345.0 474.9h1M364.2 474.9h1M362.9 474.9h1M339.8 474.9h1M348.4 474.9h1M343.1 474.9h1M340.7 474.9h1M369.5 474.9h1M360.7 474.9h1M345.9 474.9h1M358.5 474.9h1M338.0 474.9h1M350.7 474.9h1M369.0 474.9h1M346.1 474.9h1M351.0 474.9h1M355.0 474.9h1M336.7 474.9h1M345.9 474.9h1M369.8 474.9h1M338.1 474.9h1M363.0 474.9h1M343.5 474.9h1M359.2 474.9h1M337.6 474.9h1M352.9 474.9h1M336.6 474.9h1M369.8 474.9h1M336.4 474.9h1M371.0 474.9h1M352.5 474.9h1M371.1 474.9h1M353.3 474.9h1M363.7 474.9h1M362.2 474.9h1M341.1 474.9h1M348.4 474.9h1M337.6 474.9h1M348.4 474.9h1M367.6 474.9h1M362.5 474.9h1M340.4 474.9h1M346.0 474.9h1M370.8 474.9h1" stroke="#ff3030" stroke-width="1" stroke-opacity="0.35" fill="none"/>
<line x1="384.30" y1="323.70" x2="384.30" y2="476.10" stroke="#222" stroke-width="1.4"/>
<line x1="318.40" y1="419.20" x2="471.60" y2="419.20" stroke="#222" stroke-width="1.4"/>
<text transform="translate(321.70,338.00) scale(0.93,1)" font-family="Liberation Sans" font-size="7.9" font-weight="normal" text-anchor="start" fill="#262626" stroke="#262626" stroke-width="0" >Q1</text>
<text transform="translate(321.70,348.30) scale(0.93,1)" font-family="Liberation Sans" font-size="7.9" font-weight="normal" text-anchor="start" fill="#262626" stroke="#262626" stroke-width="0" >0.23</text>
<text transform="translate(458.50,338.00) scale(0.93,1)" font-family="Liberation Sans" font-size="7.9" font-weight="normal" text-anchor="end" fill="#262626" stroke="#262626" stroke-width="0" >Q2</text>
<text transform="translate(458.50,348.30) scale(0.93,1)" font-family="Liberation Sans" font-size="7.9" font-weight="normal" text-anchor="end" fill="#262626" stroke="#262626" stroke-width="0" >3.69</text>
<text transform="translate(321.70,457.80) scale(0.93,1)" font-family="Liberation Sans" font-size="7.9" font-weight="normal" text-anchor="start" fill="#262626" stroke="#262626" stroke-width="0" >Q4</text>
<text transform="translate(321.70,468.20) scale(0.93,1)" font-family="Liberation Sans" font-size="7.9" font-weight="normal" text-anchor="start" fill="#262626" stroke="#262626" stroke-width="0" >94.9</text>
<text transform="translate(458.50,457.80) scale(0.93,1)" font-family="Liberation Sans" font-size="7.9" font-weight="normal" text-anchor="end" fill="#262626" stroke="#262626" stroke-width="0" >Q3</text>
<text transform="translate(458.50,468.20) scale(0.93,1)" font-family="Liberation Sans" font-size="7.9" font-weight="normal" text-anchor="end" fill="#262626" stroke="#262626" stroke-width="0" >1.22</text>
<rect x="531.3" y="324" width="153.20000000000005" height="152" fill="#fff" stroke="#aaa" stroke-width="1"/>
<text transform="translate(524.80,331.80) rotate(-90)" font-family="Liberation Sans" font-size="3.2" font-weight="normal" text-anchor="middle" fill="#333" stroke="#333" stroke-width="0" >10<tspan dy="-1.5" font-size="2.5">7</tspan></text>
<text transform="translate(524.80,361.00) rotate(-90)" font-family="Liberation Sans" font-size="3.2" font-weight="normal" text-anchor="middle" fill="#333" stroke="#333" stroke-width="0" >10<tspan dy="-1.5" font-size="2.5">6</tspan></text>
<text transform="translate(524.80,390.20) rotate(-90)" font-family="Liberation Sans" font-size="3.2" font-weight="normal" text-anchor="middle" fill="#333" stroke="#333" stroke-width="0" >10<tspan dy="-1.5" font-size="2.5">5</tspan></text>
<text transform="translate(524.80,419.40) rotate(-90)" font-family="Liberation Sans" font-size="3.2" font-weight="normal" text-anchor="middle" fill="#333" stroke="#333" stroke-width="0" >10<tspan dy="-1.5" font-size="2.5">4</tspan></text>
<text transform="translate(524.80,448.60) rotate(-90)" font-family="Liberation Sans" font-size="3.2" font-weight="normal" text-anchor="middle" fill="#333" stroke="#333" stroke-width="0" >10<tspan dy="-1.5" font-size="2.5">3</tspan></text>
<text transform="translate(524.80,477.80) rotate(-90)" font-family="Liberation Sans" font-size="3.2" font-weight="normal" text-anchor="middle" fill="#333" stroke="#333" stroke-width="0" >10<tspan dy="-1.5" font-size="2.5">2</tspan></text>
<text transform="translate(534.10,484.00)" font-family="Liberation Sans" font-size="3.2" font-weight="normal" text-anchor="middle" fill="#333" stroke="#333" stroke-width="0" >10<tspan dy="-1.5" font-size="2.5">2</tspan></text>
<text transform="translate(570.60,484.00)" font-family="Liberation Sans" font-size="3.2" font-weight="normal" text-anchor="middle" fill="#333" stroke="#333" stroke-width="0" >10<tspan dy="-1.5" font-size="2.5">3</tspan></text>
<text transform="translate(607.10,484.00)" font-family="Liberation Sans" font-size="3.2" font-weight="normal" text-anchor="middle" fill="#333" stroke="#333" stroke-width="0" >10<tspan dy="-1.5" font-size="2.5">4</tspan></text>
<text transform="translate(643.60,484.00)" font-family="Liberation Sans" font-size="3.2" font-weight="normal" text-anchor="middle" fill="#333" stroke="#333" stroke-width="0" >10<tspan dy="-1.5" font-size="2.5">5</tspan></text>
<text transform="translate(680.10,484.00)" font-family="Liberation Sans" font-size="3.2" font-weight="normal" text-anchor="middle" fill="#333" stroke="#333" stroke-width="0" >10<tspan dy="-1.5" font-size="2.5">6</tspan></text>
<path d="M527.8 330.3h3.5M529.5 350.7h1.8M529.5 342.0h1.8M529.5 336.7h1.8M529.5 333.2h1.8M527.8 359.5h3.5M529.5 379.9h1.8M529.5 371.2h1.8M529.5 365.9h1.8M529.5 362.4h1.8M527.8 388.7h3.5M529.5 409.1h1.8M529.5 400.4h1.8M529.5 395.1h1.8M529.5 391.6h1.8M527.8 417.9h3.5M529.5 438.3h1.8M529.5 429.6h1.8M529.5 424.3h1.8M529.5 420.8h1.8M527.8 447.1h3.5M529.5 467.5h1.8M529.5 458.8h1.8M529.5 453.5h1.8M529.5 450.0h1.8M527.8 476.3h3.5M534.1 476.0v3.5M545.0 476.0v1.8M556.0 476.0v1.8M562.6 476.0v1.8M566.9 476.0v1.8M570.6 476.0v3.5M581.5 476.0v1.8M592.5 476.0v1.8M599.1 476.0v1.8M603.4 476.0v1.8M607.1 476.0v3.5M618.0 476.0v1.8M629.0 476.0v1.8M635.6 476.0v1.8M639.9 476.0v1.8M643.6 476.0v3.5M654.5 476.0v1.8M665.5 476.0v1.8M672.1 476.0v1.8M676.4 476.0v1.8M680.1 476.0v3.5" stroke="#555" stroke-width="0.6" fill="none"/>
<text transform="translate(604.90,490.50)" font-family="Liberation Sans" font-size="3.6" font-weight="normal" text-anchor="middle" fill="#444" stroke="#444" stroke-width="0" >Comp-FL1-A :: FITC-A</text>
<text transform="translate(519.30,402.00) rotate(-90)" font-family="Liberation Sans" font-size="3.6" font-weight="normal" text-anchor="middle" fill="#444" stroke="#444" stroke-width="0" >Comp-PL2-A :: PE-A</text>
<ellipse cx="550" cy="452" rx="4" ry="10" fill="#ffe6e6" filter="url(#bl2)"/>
<ellipse cx="565" cy="448" rx="12.5" ry="7.2" transform="rotate(-37 565 448)" fill="#ff0000" filter="url(#bl2)"/>
<path d="M586.0 426.5h1M571.2 444.0h1M569.4 433.2h1M560.3 445.1h1M553.9 449.2h1M561.2 448.1h1M560.3 454.4h1M549.8 433.7h1M556.3 451.7h1M567.7 447.6h1M577.8 439.3h1M566.6 453.3h1M572.8 435.6h1M559.7 449.3h1M575.6 440.6h1M577.6 445.1h1M580.7 435.6h1M582.4 449.6h1M565.4 434.9h1M576.4 431.5h1M565.7 439.8h1M589.2 426.9h1M580.5 447.0h1M560.7 442.2h1M555.7 452.8h1M574.6 436.0h1M568.1 438.7h1M576.1 427.8h1M556.7 456.3h1M577.0 432.4h1M560.7 451.2h1M565.8 457.8h1M584.3 447.9h1M573.0 458.7h1M567.4 464.1h1M559.7 442.5h1M567.0 451.0h1M585.4 438.8h1M555.8 437.4h1M578.3 449.6h1M581.5 439.3h1M568.7 450.3h1M568.8 442.0h1M579.2 452.5h1M556.9 459.5h1M576.3 440.5h1M578.5 447.8h1M591.5 437.3h1M582.6 436.2h1M574.4 441.2h1M567.0 441.7h1M578.0 448.8h1M565.7 448.5h1M572.1 441.9h1M576.0 440.9h1M566.6 448.0h1M554.2 459.9h1M557.6 436.1h1M560.1 435.5h1M560.0 442.7h1M574.6 451.8h1M566.9 449.4h1M557.2 449.4h1M561.7 449.6h1M573.2 439.8h1M557.0 448.4h1M579.2 437.9h1M570.0 445.8h1M572.8 442.6h1M580.8 442.0h1M540.2 465.0h1M573.6 440.8h1M561.4 452.2h1M553.3 450.3h1M565.8 435.1h1M570.6 451.6h1M566.0 446.6h1M577.0 440.2h1M582.2 442.7h1M569.0 448.1h1M572.3 447.2h1M573.8 450.3h1M560.0 452.8h1M561.0 446.3h1M581.2 424.0h1M561.7 441.7h1M554.6 454.6h1M577.3 440.8h1M560.9 449.8h1M584.6 440.7h1M563.0 456.1h1M575.6 434.4h1M571.1 464.9h1M566.3 447.7h1M563.7 445.1h1M567.8 459.6h1M565.6 445.8h1M559.2 454.3h1M561.0 451.0h1M563.2 447.3h1M568.7 452.2h1M569.8 442.7h1M564.7 442.6h1M557.1 450.0h1M553.5 459.2h1M564.5 450.4h1M570.8 445.4h1M570.3 434.3h1M579.2 433.8h1M581.2 437.1h1M563.5 436.2h1M558.4 452.6h1M556.0 452.8h1M581.0 431.4h1M579.9 430.1h1M567.7 451.0h1M560.1 451.6h1M557.1 458.7h1M575.2 434.7h1M567.2 442.7h1M575.9 445.8h1M571.2 444.2h1M581.8 420.4h1M562.5 446.1h1M567.7 450.9h1M555.3 444.3h1M558.4 456.1h1M578.8 443.5h1M579.7 432.3h1M578.7 442.6h1M562.6 443.4h1M572.5 436.5h1M560.6 443.1h1M582.8 433.6h1M561.5 448.2h1M565.2 448.0h1M556.2 453.6h1M558.4 459.5h1M577.9 433.0h1M561.1 438.9h1M560.9 435.2h1M574.2 451.4h1M559.1 458.7h1M579.1 435.3h1M577.5 438.7h1M554.8 439.3h1M578.8 432.7h1M584.7 441.2h1M565.1 442.2h1M561.5 439.7h1M579.4 450.0h1M579.2 445.1h1M561.7 452.4h1M555.9 450.8h1M583.2 453.6h1M567.8 445.7h1M562.9 440.0h1M560.2 444.8h1M570.3 452.8h1M571.0 443.6h1M564.8 442.8h1M560.4 437.2h1M558.8 458.8h1M563.9 433.0h1M572.3 445.5h1M562.3 455.5h1M567.2 447.0h1M557.4 451.4h1M557.2 446.1h1M567.6 439.5h1M557.8 462.4h1M580.8 441.8h1M561.2 456.5h1M571.3 431.4h1M559.2 447.0h1M572.3 450.7h1M570.9 449.4h1M570.8 442.1h1M567.4 438.7h1M564.2 453.3h1M577.9 441.8h1M575.5 447.0h1M569.7 460.1h1M573.8 436.8h1M574.1 444.0h1M577.4 449.2h1M563.5 453.9h1M566.2 441.1h1M566.7 435.8h1M557.3 461.9h1M563.2 462.4h1M574.7 436.0h1M559.5 435.8h1M578.6 432.0h1M574.1 439.8h1M553.2 448.2h1M563.6 454.4h1M586.0 449.3h1M564.1 455.3h1M570.1 440.5h1M571.2 441.9h1M576.0 440.5h1M560.6 464.5h1M574.2 431.6h1M558.3 456.4h1M575.6 454.4h1M563.2 453.0h1M562.0 446.4h1M566.4 462.9h1M572.4 444.4h1M571.7 448.2h1M562.3 452.4h1M565.6 452.0h1M573.0 452.3h1M565.5 453.6h1M566.0 443.9h1M583.9 445.4h1M555.4 460.6h1M577.9 444.9h1M568.9 438.7h1M563.3 438.1h1M555.3 456.6h1M566.5 460.1h1M554.1 449.7h1M538.5 462.0h1M568.9 437.2h1M559.9 456.4h1M571.7 443.5h1M571.7 442.3h1M577.6 433.4h1M569.4 442.6h1M567.7 458.7h1M571.4 442.9h1M565.5 451.0h1M579.8 445.8h1M593.0 437.9h1M564.3 446.0h1M570.8 439.6h1M555.9 455.5h1M577.4 445.3h1M573.6 443.0h1M578.4 430.2h1M577.2 445.4h1M571.5 445.5h1M573.6 444.5h1M573.9 442.6h1M561.3 457.8h1M573.2 428.1h1M560.4 441.8h1M570.6 440.9h1M584.7 441.6h1M560.7 446.8h1M563.7 453.1h1M559.9 454.9h1M557.9 461.3h1M566.9 436.7h1M560.1 452.3h1M558.5 429.3h1M574.7 452.4h1M557.5 442.2h1M579.3 438.6h1M571.2 447.8h1M560.4 438.7h1M564.3 448.4h1M562.4 434.9h1M568.9 435.4h1M573.5 442.3h1M580.5 442.9h1M560.7 449.4h1M588.5 423.8h1M572.8 436.4h1M567.9 450.6h1M568.1 434.2h1M571.7 459.2h1M556.8 450.3h1M557.4 459.6h1M555.6 457.8h1M581.4 443.7h1M572.4 459.1h1M572.2 449.0h1M557.2 451.5h1M563.2 436.9h1M565.2 439.0h1M559.9 453.4h1M560.5 451.9h1M574.8 448.5h1M574.7 448.5h1M558.5 449.4h1M577.5 447.5h1M569.1 440.1h1M553.2 448.7h1M573.6 433.1h1M567.2 450.9h1M568.3 439.3h1M586.1 432.9h1M572.7 448.2h1M566.7 451.7h1M562.2 442.5h1M559.5 454.6h1M567.3 444.5h1M561.7 447.9h1M578.5 446.0h1M565.6 449.1h1M574.1 446.1h1M585.5 428.1h1M576.8 450.4h1M572.0 434.7h1M559.3 442.6h1M570.2 449.0h1M581.7 439.3h1M579.3 445.1h1M561.9 455.1h1M575.3 438.3h1M558.7 453.5h1M571.1 448.4h1M578.1 433.7h1M582.5 438.4h1M560.6 456.3h1M578.5 442.9h1M556.9 441.3h1M568.2 446.8h1M562.5 450.0h1M574.7 445.6h1M553.4 453.7h1M562.8 448.0h1M558.7 444.8h1M574.6 445.5h1M557.8 445.4h1M573.9 438.3h1M563.1 464.0h1M562.4 447.1h1M565.3 439.9h1M577.6 434.4h1M566.0 430.9h1M563.7 461.2h1M581.0 436.1h1M581.5 435.0h1M568.2 442.7h1M553.5 453.5h1M559.8 454.7h1M566.2 442.1h1M580.2 439.0h1M582.3 431.3h1M560.6 445.0h1M568.6 443.5h1M574.0 454.6h1M572.0 437.3h1M569.8 441.9h1M563.4 447.0h1M570.1 448.8h1M576.5 439.2h1M559.5 451.6h1M564.2 446.0h1M555.3 453.8h1M555.1 465.0h1M576.6 444.7h1M559.3 453.7h1M578.0 436.0h1M556.7 452.9h1M561.9 446.1h1M561.9 447.5h1M566.5 447.8h1M559.5 449.1h1M558.9 455.2h1M562.0 452.7h1M576.1 452.0h1M581.2 431.0h1M564.8 446.4h1M568.2 459.4h1M577.6 436.3h1M561.4 442.9h1M569.4 437.0h1M556.8 445.1h1M556.1 452.3h1M579.8 432.4h1M559.6 456.1h1M575.4 431.8h1M553.4 449.8h1M547.1 466.7h1M560.5 457.8h1M562.6 437.2h1M561.5 460.9h1M565.7 450.6h1M555.5 444.9h1M560.4 456.0h1M583.1 432.8h1M554.7 464.8h1M556.9 450.2h1M555.5 444.4h1M565.5 448.5h1M563.2 450.0h1M573.9 438.2h1M568.2 439.1h1M580.4 441.1h1M555.1 465.2h1M563.7 449.7h1M569.4 444.4h1M565.8 454.8h1M580.5 423.3h1M572.5 433.9h1M560.0 448.8h1M561.3 447.2h1M568.1 459.2h1M569.4 453.4h1M559.6 449.0h1M572.8 423.3h1M572.4 447.2h1M566.9 434.4h1M573.9 451.2h1M575.9 455.0h1M555.3 449.9h1M575.2 446.6h1M559.0 453.3h1M571.9 447.1h1M576.3 450.9h1M570.9 443.1h1M565.6 441.9h1M574.2 447.9h1M567.2 444.9h1M570.4 438.8h1M555.8 450.6h1M590.3 442.2h1M580.6 448.5h1M571.4 436.7h1M569.9 443.1h1M576.8 445.9h1M585.0 438.9h1M587.4 433.5h1M573.3 449.2h1M579.2 444.3h1M561.6 451.2h1M575.9 441.0h1M566.0 442.3h1M573.9 451.6h1M568.3 441.3h1M568.5 444.0h1M571.4 445.2h1M564.3 438.8h1M584.1 423.0h1M577.6 434.8h1M560.9 466.5h1M563.8 443.2h1M565.0 447.0h1M580.6 437.0h1M556.1 438.8h1M565.0 443.2h1M554.4 433.3h1M558.4 444.4h1M567.4 448.5h1M568.1 429.9h1M562.2 461.8h1M574.0 446.3h1M589.6 438.7h1M566.4 449.4h1M574.6 448.1h1M558.6 458.5h1M568.2 438.9h1M576.4 433.7h1M565.7 451.1h1M578.4 434.3h1M582.0 437.9h1M562.8 454.9h1M565.0 442.0h1M570.4 453.2h1M569.3 442.4h1M569.2 433.5h1M578.0 448.2h1M566.9 454.7h1M571.9 450.9h1M564.4 450.1h1M571.4 449.9h1M560.7 457.0h1M563.9 442.2h1M558.0 450.4h1M569.8 448.2h1M585.4 427.5h1M567.7 441.2h1M571.0 446.0h1M567.8 453.3h1M576.8 439.0h1M553.8 442.0h1M567.4 446.1h1M565.9 439.4h1M566.9 450.2h1M569.1 450.6h1M569.5 449.9h1M560.1 455.8h1M570.2 432.4h1M572.4 441.5h1M566.6 440.1h1M554.9 450.7h1M558.3 449.4h1M568.2 445.5h1M580.7 428.4h1M563.5 449.5h1M568.9 436.7h1M555.1 457.0h1M572.8 446.3h1M567.2 434.0h1M576.3 438.1h1M584.6 429.8h1M585.2 438.5h1M577.5 445.4h1M560.2 439.3h1M576.6 452.4h1M579.7 439.1h1M573.4 435.2h1M569.1 470.0h1M558.0 439.0h1M578.7 426.0h1M569.8 450.2h1M567.7 447.3h1M557.6 447.6h1M568.9 443.2h1M565.8 441.8h1M566.4 452.3h1M578.3 434.5h1M561.8 451.0h1M576.5 441.1h1M576.2 437.7h1M566.4 453.8h1M572.0 449.9h1M563.1 445.1h1M561.4 444.0h1M561.9 445.8h1M565.5 439.1h1M570.3 425.6h1M565.0 446.7h1M558.0 468.8h1M582.6 428.0h1M554.4 448.7h1M568.2 445.7h1M576.9 450.7h1M570.7 432.1h1M568.1 443.9h1M574.5 441.5h1M579.7 437.6h1M581.3 428.0h1M581.1 442.6h1M555.7 444.3h1M562.7 452.3h1M576.6 427.6h1M559.9 441.7h1M574.9 441.4h1M570.3 449.4h1M575.4 451.1h1M562.4 445.0h1M567.2 445.7h1M577.3 435.4h1M560.0 446.2h1M582.9 444.3h1M568.8 448.4h1M561.2 450.6h1M571.7 448.7h1M585.2 439.7h1M561.2 430.6h1M569.7 444.0h1M567.0 449.1h1M554.6 457.2h1M558.1 448.1h1M578.3 435.0h1M576.6 438.6h1M563.1 446.1h1M562.1 446.7h1M556.1 456.8h1M562.1 450.3h1M573.7 448.1h1M558.1 445.9h1M572.8 448.4h1M567.1 449.9h1M555.9 449.6h1M567.0 446.4h1M568.8 443.4h1M574.8 444.5h1M563.6 430.6h1M564.8 442.3h1M567.4 444.0h1M571.6 445.0h1M553.7 451.9h1M564.4 443.1h1M579.9 426.9h1M567.4 442.8h1M560.0 441.9h1M559.3 450.4h1M562.6 435.2h1M564.8 441.0h1M565.1 444.1h1M565.2 445.6h1M571.4 442.8h1M555.5 446.4h1M571.8 424.9h1M567.3 439.3h1M588.0 437.5h1M570.5 456.5h1M569.0 440.9h1M574.0 448.4h1M570.9 430.3h1M574.2 440.3h1M560.0 448.4h1M570.0 437.1h1M554.1 456.7h1M566.2 459.7h1M558.6 454.4h1M559.4 440.2h1M554.8 439.6h1M566.8 438.6h1M557.0 445.4h1M564.3 450.3h1M569.5 456.9h1M579.8 421.0h1M559.7 435.2h1M567.5 441.4h1M570.4 455.5h1M562.0 455.1h1M559.7 439.8h1M579.7 444.9h1M573.8 442.9h1M568.7 429.2h1M573.0 454.9h1M575.5 448.0h1M566.1 449.4h1M558.3 456.6h1M568.1 442.2h1M567.1 446.6h1M571.7 448.4h1M568.1 428.3h1M573.5 449.9h1M555.8 453.1h1M586.4 426.5h1M577.1 440.4h1M567.2 442.6h1M577.5 447.8h1M577.8 445.7h1M572.9 445.1h1M564.6 459.7h1M554.0 448.8h1M557.8 447.2h1M578.5 435.8h1M563.6 446.4h1M572.0 452.7h1M579.2 433.5h1M585.0 437.2h1M574.9 450.4h1M569.4 446.8h1M564.2 439.1h1M561.7 453.5h1M559.7 450.4h1M572.6 456.1h1M564.0 458.8h1M558.8 444.2h1M565.5 440.2h1M585.0 432.8h1M560.7 437.8h1M573.4 437.3h1M558.0 457.6h1M570.0 439.2h1M558.7 432.5h1M567.7 447.0h1M578.6 446.9h1M580.7 454.4h1M587.7 439.6h1M561.2 464.4h1M566.2 449.9h1M560.6 444.9h1M580.3 430.6h1M571.0 452.2h1M555.0 451.2h1M554.5 450.1h1M560.3 454.3h1M576.6 443.7h1M562.7 437.4h1M577.2 442.3h1M578.1 430.4h1M578.2 438.7h1M553.2 454.1h1M570.0 440.3h1M567.1 445.0h1M568.0 439.9h1M584.7 435.0h1M579.2 434.7h1M564.9 439.8h1M572.8 453.3h1M566.8 440.3h1M563.9 452.7h1M572.9 457.3h1M569.0 444.6h1M579.6 449.2h1M573.1 434.7h1M571.5 443.1h1M564.1 450.3h1M567.1 451.8h1M589.6 426.8h1M559.0 444.7h1M564.8 449.3h1M562.7 450.5h1M555.7 440.6h1M573.3 437.0h1M576.5 455.4h1M559.7 451.5h1M552.6 442.4h1M563.9 452.6h1M570.2 450.2h1M579.5 453.9h1M564.1 446.3h1M573.2 444.1h1M574.6 438.9h1M566.7 440.9h1M582.9 451.8h1M578.7 441.5h1M558.2 451.3h1M560.3 435.6h1M571.2 449.5h1M556.9 454.4h1M574.9 436.9h1M577.2 439.8h1M560.8 449.7h1M572.5 434.6h1M559.2 451.1h1M574.2 445.3h1M553.8 446.7h1M565.2 445.5h1M563.7 436.5h1M558.2 443.9h1M573.5 425.0h1M556.5 449.7h1M565.1 440.8h1M559.9 447.9h1M565.3 446.7h1M579.0 437.7h1M565.1 454.1h1M566.1 456.0h1M553.2 447.6h1M556.0 449.9h1M567.0 444.6h1M566.0 442.1h1M577.8 448.6h1M559.9 453.4h1M570.2 444.8h1M568.2 448.6h1M562.6 444.3h1M562.7 454.9h1M555.5 440.7h1M560.7 446.7h1M578.3 445.1h1M561.7 459.4h1M575.7 451.3h1M564.7 452.7h1M579.3 448.8h1M555.4 454.5h1M567.3 444.2h1M558.2 450.7h1M574.8 454.9h1M571.3 450.8h1M563.3 450.6h1M567.0 446.6h1M554.1 455.7h1M590.2 428.5h1M563.8 466.0h1M572.4 444.6h1M577.0 440.3h1M558.1 453.1h1M561.8 436.9h1M578.0 442.3h1M555.4 441.6h1M557.8 462.2h1M554.3 448.7h1M557.4 435.7h1M561.5 449.3h1M570.8 440.1h1M568.8 447.0h1M560.7 454.6h1M567.2 441.4h1M560.2 460.5h1M577.0 439.7h1M581.6 445.9h1M567.5 449.8h1M573.5 444.6h1M563.9 444.6h1M574.3 442.0h1M583.0 437.3h1M562.9 439.4h1M566.6 448.2h1M562.8 443.5h1M559.5 443.8h1M557.0 451.8h1M559.3 442.7h1M585.1 435.3h1M571.1 450.2h1M555.4 456.1h1M565.3 443.3h1M561.1 457.9h1M560.8 451.8h1M564.4 428.5h1M556.3 446.3h1M576.5 446.3h1M565.5 440.4h1M559.3 455.1h1M567.3 456.0h1M569.3 461.4h1M568.4 439.2h1M569.2 445.1h1M567.1 438.3h1M569.9 445.5h1M565.7 441.7h1M572.9 438.0h1M558.6 447.1h1M562.4 445.8h1M568.4 448.9h1M579.8 440.3h1M568.0 445.2h1M570.3 439.0h1M569.0 446.1h1M566.0 449.5h1M557.0 453.8h1M583.3 447.9h1M558.7 440.3h1M565.5 442.1h1M575.3 437.0h1M589.3 437.8h1M567.9 461.1h1M569.4 447.2h1M555.1 454.2h1M556.1 444.2h1M561.9 460.0h1M561.7 449.6h1M557.8 449.2h1M561.2 449.1h1M569.9 450.0h1M565.3 445.8h1M560.9 454.6h1M568.9 441.7h1M573.0 439.9h1M559.3 452.0h1M567.7 448.4h1M563.8 437.1h1M568.7 437.0h1M577.7 448.5h1M575.8 435.3h1M570.7 452.8h1M571.7 430.8h1M568.3 445.9h1M558.2 455.4h1M584.7 434.3h1M551.0 454.3h1M562.1 436.7h1M556.2 446.8h1M562.2 435.9h1M568.6 458.4h1M577.5 445.9h1M571.4 440.0h1M572.4 436.2h1M564.2 443.6h1M574.5 442.2h1M557.6 452.0h1M563.8 458.1h1M565.4 452.2h1M577.1 441.1h1M555.7 448.6h1M554.2 460.0h1M555.2 458.4h1M554.6 460.1h1M568.8 458.1h1M566.6 450.4h1M554.3 452.7h1M567.3 451.7h1M577.8 437.7h1M560.8 442.7h1M558.9 450.1h1M581.7 447.9h1M560.8 444.6h1M559.9 457.0h1M580.7 440.0h1M580.8 435.2h1M562.9 450.0h1M554.0 453.3h1M553.4 440.8h1M568.3 448.7h1M577.2 436.4h1M573.2 434.4h1M574.2 434.4h1M559.7 440.4h1M579.8 432.5h1M575.8 438.1h1M571.1 448.0h1M557.0 456.2h1M559.2 443.7h1M575.3 438.0h1M578.5 437.9h1M560.9 445.7h1M564.2 442.9h1M572.9 436.7h1M577.6 434.8h1M563.4 443.4h1M579.7 420.2h1M578.1 446.0h1M583.7 447.2h1M574.1 427.6h1M564.3 440.3h1M563.9 446.3h1M579.2 443.0h1M563.4 442.1h1M569.9 444.0h1M565.9 453.5h1M575.5 432.9h1M574.1 431.7h1M556.1 441.4h1M576.0 452.3h1M580.4 450.5h1M563.5 448.0h1M564.1 432.4h1M559.7 454.9h1M568.7 449.9h1M556.5 452.1h1M554.8 445.7h1M578.5 450.0h1M559.2 454.3h1M576.8 448.5h1M554.2 443.2h1M567.5 439.0h1M553.4 453.2h1M566.3 447.2h1M556.3 437.3h1M557.1 449.5h1M558.7 446.6h1M563.3 443.6h1M568.6 452.7h1M560.7 454.8h1M575.7 436.1h1M561.8 448.4h1M577.6 435.2h1M559.7 463.0h1M590.0 426.0h1M581.1 443.2h1M573.4 446.4h1M562.5 433.6h1M558.4 448.7h1M559.4 452.3h1M569.0 449.8h1M584.5 427.1h1M580.8 449.6h1M560.8 438.0h1M571.3 452.5h1M567.3 434.5h1M569.3 443.2h1M565.9 453.5h1M549.5 470.9h1M568.8 434.6h1M562.4 434.3h1M575.1 450.7h1M572.3 441.5h1M559.9 453.9h1M569.9 436.8h1M575.6 445.4h1M556.2 446.2h1M584.8 435.1h1M567.5 447.7h1M553.3 448.0h1M562.8 447.0h1M582.4 436.0h1M565.6 447.0h1M562.8 447.9h1M553.8 458.1h1M572.3 450.0h1M562.6 443.1h1M563.8 446.5h1M562.4 443.9h1M579.8 449.3h1M561.0 456.0h1M568.2 449.9h1M575.8 438.7h1M578.1 451.3h1M576.9 443.5h1M569.5 445.5h1M577.1 437.4h1M562.3 445.9h1M565.9 448.9h1M567.2 445.0h1M585.2 424.9h1M572.4 448.1h1M568.7 446.3h1M556.6 455.3h1M571.9 436.2h1M575.0 447.4h1M569.1 446.1h1M558.4 462.1h1M593.6 436.4h1M572.7 420.5h1M558.7 448.5h1M565.5 442.7h1M565.2 442.4h1M568.7 441.3h1M565.3 456.5h1M570.1 441.7h1M570.5 456.7h1M571.0 450.9h1M589.4 451.0h1M565.5 439.7h1M585.8 431.2h1M566.8 449.0h1M559.0 441.0h1M567.4 446.7h1M570.7 461.0h1M556.2 443.5h1M561.8 444.0h1M571.6 436.4h1M576.0 434.4h1M552.2 442.6h1M553.2 437.9h1M561.9 453.4h1M570.1 451.3h1M571.4 438.4h1M568.8 448.1h1M554.3 437.6h1M563.3 450.9h1M561.1 435.2h1M560.7 455.7h1M562.4 456.5h1M578.1 435.1h1M570.7 435.8h1M581.6 431.9h1M555.0 455.8h1M568.2 444.6h1M571.9 458.3h1M582.3 438.0h1M567.7 451.1h1M575.1 441.9h1M562.2 458.2h1M567.0 436.1h1M577.2 446.2h1M571.8 439.8h1M562.4 444.2h1M567.8 454.8h1M568.6 436.3h1M575.9 448.9h1M583.1 438.0h1M558.1 450.2h1M558.4 447.2h1M555.1 455.5h1M566.5 441.5h1M582.7 430.7h1M582.3 450.5h1M572.3 457.2h1M578.5 452.6h1M571.1 435.3h1M554.7 443.3h1M559.0 446.7h1M561.3 433.3h1M555.7 458.3h1M566.3 459.1h1M566.3 441.4h1M556.2 463.7h1M564.4 447.7h1M566.8 441.4h1M566.2 445.1h1M568.9 448.4h1M573.0 440.8h1M579.8 446.9h1M563.9 436.0h1M585.7 435.4h1M596.8 424.6h1M569.9 438.1h1M563.6 447.3h1M566.6 436.7h1M558.3 461.4h1M557.4 435.9h1M559.6 439.9h1M560.7 446.5h1M562.6 434.9h1M571.7 450.1h1M555.9 459.6h1M572.1 444.0h1M577.9 431.5h1M563.6 451.2h1M572.3 442.1h1M568.9 442.4h1M568.5 440.9h1M566.6 441.0h1M556.3 441.1h1M559.9 450.7h1M560.2 451.3h1M576.3 437.4h1M558.3 449.5h1M569.6 427.2h1M568.5 444.8h1M567.6 448.9h1M567.9 441.6h1M566.2 441.6h1M572.7 448.4h1M570.7 439.5h1M579.1 449.7h1M571.3 453.1h1M553.6 457.9h1M560.5 451.1h1M584.4 443.9h1M570.9 449.0h1M566.4 452.9h1M558.4 450.4h1M565.1 454.7h1M566.0 430.7h1M567.1 440.8h1M572.8 438.9h1M566.0 454.7h1M578.6 442.9h1M570.7 441.9h1M575.4 438.0h1M571.7 452.3h1M575.8 443.4h1M564.4 441.3h1M563.4 442.3h1M561.2 437.8h1M556.0 450.2h1M569.4 447.8h1M558.3 452.0h1M568.0 442.1h1M575.9 443.0h1M568.4 448.1h1M563.1 445.6h1M564.6 437.0h1M572.7 436.8h1M555.7 457.4h1M585.7 441.5h1M568.1 449.6h1M566.2 453.5h1M574.5 436.5h1M556.6 450.6h1M564.8 449.2h1M558.4 444.3h1M577.4 450.9h1M586.9 433.1h1M577.3 444.9h1M574.1 450.4h1M581.3 435.9h1M565.6 437.3h1M563.5 458.2h1M554.4 468.3h1M572.8 436.9h1M566.6 440.7h1M576.9 433.5h1M580.2 436.1h1M561.1 458.3h1M575.6 444.3h1M576.2 435.2h1M576.0 445.3h1M564.0 455.3h1M562.9 448.1h1M569.8 458.0h1M561.5 439.0h1M581.6 438.6h1M573.7 444.0h1M577.8 461.5h1M565.0 453.0h1M577.1 443.2h1M565.6 440.0h1M563.9 450.2h1M570.9 446.2h1M569.4 430.8h1M556.2 456.1h1M559.8 459.1h1M571.8 449.6h1M562.2 442.4h1M577.1 438.1h1M577.6 438.0h1M569.1 440.8h1M557.8 456.6h1M567.7 444.5h1M564.7 444.5h1M574.8 441.1h1M573.5 454.2h1M553.6 433.7h1M568.9 446.6h1M567.7 435.5h1M573.8 429.8h1M574.4 444.8h1M570.0 435.6h1M563.5 431.9h1M574.2 441.1h1M574.1 443.2h1M556.8 465.0h1M573.5 450.1h1M564.5 449.7h1M568.4 448.9h1M574.5 440.0h1M568.9 446.4h1M578.2 446.4h1M554.9 455.2h1M563.5 443.6h1M554.1 449.7h1M575.9 438.2h1M571.0 448.5h1M556.2 440.4h1M568.7 458.8h1M573.6 437.8h1M589.1 439.4h1M578.0 461.9h1M561.1 456.1h1M564.0 449.2h1M565.8 449.5h1M562.7 449.6h1M555.2 448.8h1M578.6 430.3h1M567.0 435.9h1M569.2 430.2h1M574.9 436.3h1M560.2 450.9h1M566.5 455.5h1M566.6 447.0h1M565.9 450.7h1M570.9 442.9h1M557.8 439.8h1M581.9 434.7h1M560.0 440.4h1M576.6 429.5h1M562.2 453.1h1M555.3 447.8h1M567.1 454.2h1M554.6 463.2h1M570.6 445.4h1M555.3 454.5h1M577.6 439.7h1M572.9 445.3h1M566.5 444.8h1M574.1 449.5h1M568.0 432.8h1M555.6 453.7h1M566.8 437.0h1M565.1 439.1h1M587.7 442.9h1M574.5 450.3h1M558.2 444.4h1M565.9 448.9h1M564.1 449.4h1M556.3 451.9h1M576.4 442.1h1M561.1 452.5h1M573.4 439.2h1M569.7 445.0h1M577.6 441.3h1M577.6 439.5h1M572.0 439.5h1M559.2 442.5h1M575.1 447.4h1M577.2 439.2h1M571.8 444.8h1M559.4 453.7h1M571.1 447.1h1M571.7 462.2h1M574.0 439.2h1M578.1 439.1h1M570.3 439.7h1M576.3 438.5h1M568.0 448.3h1M569.2 453.9h1M568.4 452.5h1M560.7 441.6h1M571.3 444.5h1M568.8 440.9h1M559.6 459.1h1M577.3 436.8h1M561.6 439.1h1M566.1 438.2h1M574.0 450.4h1M561.7 446.8h1M556.2 449.4h1M562.2 455.8h1M563.9 454.0h1M574.7 439.5h1M566.2 446.7h1M569.3 458.2h1M575.6 450.2h1M580.7 437.2h1M575.6 432.2h1M572.7 434.9h1M565.3 441.6h1M567.8 448.7h1M582.6 444.3h1M583.5 441.8h1M572.5 457.0h1M569.4 443.7h1M578.3 438.8h1M559.4 442.5h1M577.2 446.6h1M573.0 442.2h1M565.4 455.0h1M564.2 452.5h1M570.2 442.1h1M580.4 447.0h1M566.2 460.8h1M569.5 436.4h1M558.3 446.8h1M556.6 432.7h1M558.2 447.3h1M567.6 445.1h1M558.3 433.1h1M574.2 451.7h1M576.6 443.7h1M570.1 442.5h1M571.1 447.2h1M572.9 446.2h1M577.7 435.0h1M574.7 439.1h1M573.1 437.7h1M559.2 454.1h1M575.7 444.4h1M555.1 440.2h1M563.5 447.6h1M568.2 447.9h1M559.6 450.6h1M568.6 430.9h1M583.9 438.7h1M558.9 454.6h1M583.2 427.5h1M558.1 443.8h1M559.6 441.5h1M566.0 441.2h1M562.0 452.7h1M581.4 435.2h1M559.9 447.7h1M567.1 434.2h1M563.1 438.5h1M567.7 456.3h1M571.2 452.6h1M567.1 437.3h1M572.8 430.5h1M559.0 453.9h1M569.5 452.9h1M585.5 439.7h1M568.6 447.9h1M575.2 445.4h1M565.3 456.8h1M565.9 451.5h1M556.9 455.1h1M557.7 452.3h1M560.3 443.0h1M561.1 442.7h1M564.9 424.7h1M557.1 440.8h1M582.1 438.4h1M563.0 444.7h1M562.2 435.1h1M573.3 437.2h1M571.9 447.1h1M578.2 438.3h1M575.3 438.8h1M561.9 449.2h1M564.5 440.6h1M570.0 457.8h1M558.3 442.8h1M563.9 444.2h1M559.2 441.9h1M558.8 447.3h1M563.6 449.6h1M558.1 455.1h1M555.4 451.1h1M555.1 448.6h1M572.4 441.9h1M572.9 446.9h1M558.3 441.9h1M565.7 460.0h1M561.3 452.4h1M561.3 451.4h1M556.5 433.4h1M560.1 441.0h1M590.5 439.2h1M573.8 430.2h1M564.9 444.4h1M566.7 454.6h1M560.4 447.8h1M572.0 436.1h1M556.2 438.0h1M569.3 449.5h1M562.0 447.8h1M569.6 444.4h1M563.4 433.9h1M562.1 455.6h1M558.5 449.5h1M565.4 453.8h1M571.9 454.5h1M562.2 448.3h1M583.0 441.5h1M559.5 448.6h1M556.3 448.4h1M564.0 442.2h1M588.5 428.2h1M575.6 438.6h1M574.3 448.6h1M562.8 437.7h1M573.7 441.4h1M576.9 436.2h1M579.9 440.6h1M562.2 432.6h1M581.8 443.1h1M580.6 442.9h1M565.0 447.1h1M574.9 447.4h1M570.4 455.4h1M556.5 456.8h1M571.0 432.4h1M560.6 454.0h1M557.7 443.0h1M557.8 445.1h1M563.4 443.0h1M566.9 438.6h1M565.0 448.7h1M568.4 436.0h1M559.0 446.7h1M579.3 440.4h1M560.8 450.3h1M567.1 444.1h1M572.9 427.8h1M590.6 439.7h1M573.6 438.3h1M554.3 461.4h1M585.3 437.6h1M580.3 436.8h1M577.9 440.3h1M559.5 442.2h1M564.6 452.5h1M575.0 443.6h1M571.2 448.4h1M573.2 444.8h1M564.4 449.9h1M562.6 442.8h1M564.2 438.1h1M558.0 440.2h1M562.8 458.5h1M586.1 435.2h1M554.6 437.7h1M565.7 450.8h1M564.0 443.3h1M570.5 438.4h1M568.2 442.7h1M569.6 457.9h1M583.0 439.8h1M560.8 457.0h1M572.6 447.1h1M573.3 432.4h1M570.9 445.2h1M573.3 444.5h1M569.2 453.7h1M567.2 463.3h1M578.6 441.7h1M561.8 446.6h1M570.4 458.7h1M579.0 438.4h1M580.8 426.8h1M590.0 453.3h1M562.7 450.1h1M567.0 437.0h1M571.5 442.2h1M568.6 439.1h1M572.8 442.8h1M561.9 432.6h1M559.7 440.0h1M561.4 453.2h1M565.5 449.3h1M573.6 445.6h1M579.9 427.3h1M572.0 461.3h1M579.7 445.6h1M579.4 443.4h1M581.3 434.0h1M556.4 443.4h1M568.4 436.9h1M574.6 432.3h1M562.8 443.5h1M563.5 429.8h1M577.8 441.1h1M554.6 441.9h1M566.8 439.7h1M553.2 458.8h1M571.2 442.1h1M585.8 433.4h1M571.1 443.6h1M566.5 447.2h1M568.5 444.0h1M578.7 441.4h1M558.9 460.2h1M567.6 444.3h1M569.7 442.9h1M564.4 452.3h1M570.1 446.5h1M566.4 439.8h1M562.9 462.9h1M564.3 450.9h1M575.3 445.4h1M581.6 439.3h1M561.9 458.6h1M564.5 448.9h1M581.9 434.1h1M561.6 447.9h1M556.4 446.2h1M564.9 444.9h1M561.7 445.6h1M553.3 447.7h1M575.8 456.5h1M567.6 448.3h1M570.2 451.5h1M578.2 425.9h1M558.3 455.4h1M570.4 455.1h1M571.2 438.2h1M567.8 437.1h1M556.0 442.4h1M561.5 446.5h1M569.5 443.6h1M569.9 447.5h1M558.6 444.6h1M572.2 441.4h1M568.5 445.5h1M567.5 459.1h1M563.5 456.0h1M568.0 451.5h1M566.8 445.8h1M554.2 456.4h1M567.9 450.3h1M567.2 445.4h1M572.5 450.8h1M569.9 444.7h1M573.5 430.8h1M562.6 441.8h1M562.5 442.2h1M565.6 451.3h1M583.4 433.7h1M562.7 434.3h1M557.6 459.2h1M559.3 448.1h1M563.4 449.9h1M567.9 434.2h1M582.4 437.7h1M564.9 445.0h1M593.8 423.5h1M558.5 453.0h1M582.8 434.4h1M563.5 443.3h1M577.1 441.7h1M566.1 440.0h1M561.4 448.1h1M566.2 438.1h1M572.4 436.9h1M561.3 455.2h1M554.4 460.5h1M567.1 447.2h1M562.1 446.0h1M574.7 446.1h1M560.9 451.6h1M572.0 438.7h1M571.8 439.1h1M585.1 433.7h1M565.6 448.2h1M567.6 442.5h1M557.7 444.3h1M562.2 440.0h1M564.2 444.6h1M571.0 435.7h1M555.3 442.5h1M568.5 448.3h1M555.9 437.6h1M565.7 452.9h1M578.6 441.6h1M561.1 450.9h1M555.7 446.5h1M558.5 457.6h1M587.5 442.2h1M564.9 453.4h1M572.7 434.8h1M582.7 433.3h1M556.5 433.6h1M564.6 445.1h1M555.6 451.4h1M539.8 461.9h1M556.8 439.2h1M577.1 438.6h1M561.0 451.8h1M568.5 444.0h1M572.2 421.8h1M566.6 447.8h1M563.8 449.9h1M576.3 436.1h1M578.0 449.3h1M554.9 454.1h1M582.1 454.6h1M575.1 428.3h1M569.0 427.9h1M575.2 453.4h1M563.4 451.8h1M560.1 442.0h1M571.5 452.2h1M559.9 457.3h1M561.9 436.5h1M568.8 451.9h1M579.5 455.8h1M573.3 440.6h1M562.9 456.1h1M580.5 443.2h1M561.2 445.9h1M568.9 456.0h1M570.7 441.8h1M556.3 438.5h1M553.7 431.8h1M569.3 449.4h1M576.1 437.4h1M558.2 443.7h1M564.9 446.8h1M571.2 444.2h1M568.3 442.7h1M565.1 450.5h1M553.8 447.1h1M565.8 434.6h1M565.2 442.2h1M568.0 436.4h1M566.8 462.6h1M581.3 439.3h1M561.2 435.6h1M580.7 439.7h1M567.0 456.8h1M578.1 440.2h1M559.9 451.8h1M570.2 456.2h1M557.2 450.0h1M556.2 457.3h1M552.4 450.1h1M571.6 441.9h1M555.7 455.7h1M574.2 445.0h1M574.5 447.5h1M566.4 449.2h1M556.4 441.4h1M570.0 448.4h1M566.1 458.2h1M581.6 443.3h1M572.8 439.6h1M573.6 451.5h1M568.3 440.7h1M577.4 441.1h1M564.2 450.4h1M566.8 443.4h1M560.6 445.6h1M576.3 444.0h1M562.3 454.0h1M556.9 447.0h1M567.0 450.9h1M572.9 453.4h1M564.0 457.6h1M583.9 438.6h1M556.7 460.1h1M569.3 441.5h1M571.2 426.2h1M574.3 451.9h1M568.0 443.5h1M560.1 445.5h1M561.7 450.7h1M556.0 464.1h1M569.3 452.2h1M575.6 445.2h1M573.0 448.6h1M559.7 456.4h1M554.1 448.1h1M578.0 438.7h1M585.0 431.7h1M553.9 446.3h1M566.7 448.0h1M577.6 456.4h1M561.4 455.8h1M567.2 447.4h1M562.9 448.1h1M566.6 436.7h1M573.6 444.7h1M572.9 443.1h1M568.3 452.5h1M565.3 448.8h1M574.3 437.6h1M572.8 441.5h1M563.8 442.2h1M563.2 444.2h1M572.0 427.6h1M568.3 450.9h1M561.8 443.1h1M557.2 448.7h1M576.3 434.3h1M571.4 435.7h1M562.8 440.7h1M579.8 443.8h1M572.3 454.7h1M581.4 436.2h1M568.9 445.0h1M574.2 447.0h1M579.4 444.3h1M571.4 434.5h1M580.7 451.6h1M575.6 438.2h1M578.1 435.2h1M569.4 444.2h1M589.0 447.7h1M581.4 450.7h1M555.9 436.2h1M560.5 446.2h1M566.5 444.4h1M565.3 453.4h1M564.9 439.5h1M571.6 445.7h1M574.0 448.0h1M566.5 446.3h1M578.3 435.5h1M571.2 453.7h1M572.1 442.1h1M574.6 442.9h1M581.7 442.3h1M577.9 433.8h1M575.6 449.4h1M553.5 448.6h1M566.4 455.5h1M555.7 459.7h1M580.6 445.6h1M573.9 437.2h1M569.5 450.2h1M566.0 456.6h1M561.0 449.9h1M561.2 451.7h1M572.1 449.5h1M559.7 443.5h1M568.0 447.0h1M576.1 449.2h1M560.6 446.6h1M567.2 456.8h1M580.2 442.4h1M559.2 451.2h1M561.7 448.4h1M559.0 453.3h1M574.5 447.9h1M577.6 429.7h1M560.8 451.2h1M568.4 452.7h1M579.6 443.1h1M553.4 456.5h1M588.4 433.4h1M556.7 445.4h1M568.2 457.0h1M581.2 453.2h1M575.1 448.4h1M570.0 464.1h1M573.2 451.9h1M588.7 438.0h1M577.5 433.0h1M574.9 443.5h1M576.2 445.2h1M568.2 442.8h1M576.4 443.2h1M560.7 450.9h1M558.8 459.7h1M559.8 443.4h1M571.4 432.3h1M560.3 441.0h1M578.8 448.9h1M561.6 439.2h1M554.8 449.7h1M561.9 444.1h1M566.0 445.8h1M564.3 448.9h1M574.1 433.6h1M561.4 439.5h1M578.3 444.4h1M567.0 441.1h1M565.2 443.2h1M569.9 452.5h1M576.6 441.4h1M555.3 453.7h1M575.9 430.9h1M575.2 456.8h1M561.7 453.8h1M567.5 449.4h1M562.8 439.8h1M554.4 454.2h1M575.7 449.2h1M556.8 454.3h1M584.5 439.3h1M577.2 450.5h1M573.1 454.7h1M570.0 442.8h1M572.6 454.7h1M569.6 449.9h1M559.4 459.2h1M570.3 434.4h1M575.3 448.0h1M581.4 438.7h1M564.0 443.1h1M581.5 437.3h1M563.9 430.7h1M587.2 433.0h1M564.4 442.7h1M586.1 436.2h1M577.6 440.4h1M563.7 456.6h1M577.9 445.7h1M562.2 441.8h1M580.5 440.3h1M565.6 463.4h1M567.5 450.3h1M558.0 452.8h1M580.4 440.6h1M569.4 461.4h1M571.3 445.6h1M551.2 456.6h1M563.6 440.4h1M560.0 442.5h1M563.0 440.1h1M581.8 437.1h1M580.1 437.4h1M572.5 435.5h1M559.2 459.9h1M580.2 452.4h1M587.9 433.1h1M587.6 434.4h1M558.9 456.5h1M567.8 457.5h1M571.7 441.5h1M561.5 449.1h1M566.2 443.8h1M566.2 451.4h1M563.9 443.0h1M575.1 430.6h1M591.8 441.1h1M573.2 432.2h1M562.7 442.7h1M570.9 449.9h1M583.2 433.1h1M572.7 446.8h1M557.6 445.4h1M568.8 448.8h1M569.9 450.7h1M569.6 450.8h1M566.4 450.7h1M598.8 433.1h1M575.7 450.1h1M566.0 449.6h1M556.9 444.4h1M581.3 438.1h1M572.8 437.9h1M570.3 436.7h1M565.9 440.1h1M573.4 446.9h1M570.0 450.0h1M570.0 442.6h1M564.1 441.6h1M566.2 449.7h1M571.5 433.5h1M569.9 435.6h1M578.4 441.2h1M572.3 426.6h1M567.8 443.5h1M573.7 436.1h1M563.2 446.1h1M581.1 434.0h1M565.3 452.7h1M581.8 444.7h1M559.1 455.4h1M559.8 451.0h1M575.5 431.6h1M568.6 450.5h1M569.1 439.6h1M562.0 451.9h1M562.1 450.1h1M567.0 449.3h1M554.4 447.5h1M572.1 458.4h1M586.7 427.0h1M571.4 455.9h1M564.3 444.0h1M555.8 464.1h1M563.9 446.6h1M578.6 442.0h1M577.5 430.7h1M573.7 439.5h1M576.7 452.2h1M567.1 464.3h1M591.6 432.1h1M575.8 434.4h1M573.0 445.4h1M578.8 440.1h1M585.6 437.8h1M556.9 455.4h1M571.5 443.1h1M560.9 447.0h1M571.6 431.7h1M572.2 451.9h1M563.4 444.2h1M565.0 445.5h1M579.7 436.8h1M558.4 458.0h1M585.3 444.9h1M558.5 461.1h1M570.3 439.2h1M573.7 448.5h1M580.9 448.0h1M575.8 426.8h1M570.7 438.7h1M563.7 452.5h1M565.1 432.1h1M562.6 457.3h1M569.9 444.3h1M559.2 448.3h1M565.1 450.4h1M582.3 432.2h1M569.6 438.5h1M572.0 445.3h1M573.9 436.3h1M579.6 453.5h1M569.9 440.4h1M566.6 441.6h1M573.5 444.5h1M558.3 445.0h1M560.3 460.3h1M578.2 450.4h1M562.8 442.6h1M575.1 441.1h1M566.9 448.5h1M582.4 436.1h1M594.4 425.5h1M575.5 440.4h1M580.5 458.5h1M563.4 445.1h1M565.2 443.3h1M556.2 458.7h1M569.7 459.0h1M572.4 443.0h1M554.2 446.4h1M563.0 454.2h1M563.8 445.4h1M577.1 437.3h1M566.3 451.3h1M555.6 441.1h1M565.8 453.4h1M562.0 450.4h1M568.9 443.4h1M555.5 440.3h1M566.0 443.9h1M567.4 446.2h1M565.5 436.1h1M570.9 442.3h1M567.4 439.1h1M564.1 444.5h1M576.9 440.1h1M581.7 445.0h1M559.7 449.3h1M577.6 443.7h1M569.3 434.2h1M570.1 436.9h1M568.2 439.2h1M575.8 439.0h1M573.9 430.7h1M557.8 448.6h1M571.7 450.7h1M572.0 433.7h1M559.0 445.5h1M566.9 457.8h1M571.0 445.9h1M578.2 445.8h1M561.1 460.7h1M554.2 452.5h1M575.7 441.3h1M569.7 452.8h1M567.9 446.7h1M569.3 437.1h1M563.1 452.3h1M574.4 443.0h1M563.5 432.7h1M562.9 433.0h1M575.2 435.5h1M565.6 450.4h1M568.7 438.0h1M560.7 446.6h1M565.9 447.9h1M564.2 450.1h1M566.3 449.6h1M581.3 441.9h1M599.1 423.2h1M570.8 454.2h1M576.3 451.3h1M555.7 437.8h1M563.9 438.8h1M566.8 439.0h1M570.7 444.9h1M576.3 444.4h1M571.1 440.7h1M579.6 439.6h1M557.8 457.9h1M572.1 432.7h1M564.9 445.8h1M565.9 444.3h1M569.9 438.7h1M567.0 453.3h1M573.4 439.1h1M555.8 427.1h1M578.7 442.7h1M572.1 443.8h1M575.8 464.0h1M566.9 445.5h1M574.6 435.5h1M579.9 436.8h1M562.6 457.2h1M571.7 442.1h1M567.1 454.8h1M563.8 443.3h1M570.1 437.9h1M595.0 427.1h1M565.5 450.6h1M569.5 454.7h1M558.9 442.6h1M554.0 443.7h1M585.8 448.0h1M564.0 438.8h1M575.6 442.6h1M554.4 448.8h1M577.3 451.1h1M589.0 434.2h1M576.0 456.5h1M561.1 448.1h1M572.0 448.2h1M576.9 441.0h1M562.9 448.9h1M564.0 457.8h1M565.9 434.0h1M576.6 441.3h1M566.1 452.4h1M577.9 435.9h1M560.3 446.3h1M561.7 462.7h1M591.6 434.0h1M572.9 446.0h1M559.9 458.0h1M555.6 449.3h1M564.5 444.9h1M572.6 448.3h1M562.5 440.0h1M575.1 452.2h1M564.5 460.1h1M568.7 446.2h1M565.9 442.6h1M570.6 434.9h1M564.4 449.0h1M566.7 444.7h1M558.4 447.5h1M563.2 446.4h1M557.0 452.6h1M568.5 445.2h1M573.9 450.6h1M571.6 443.3h1M578.4 445.8h1M571.7 440.7h1M562.3 449.8h1M570.8 447.8h1M556.6 445.9h1M575.9 433.3h1M591.8 435.3h1M559.4 461.9h1M576.5 437.2h1M564.4 434.7h1M580.9 439.6h1M564.4 433.4h1M578.9 438.5h1M565.7 454.3h1M559.5 450.1h1M577.6 449.7h1M573.2 438.5h1M557.2 449.3h1M584.3 453.1h1M569.7 443.6h1M576.8 440.7h1M571.1 449.4h1M574.4 447.8h1M570.0 436.5h1M570.6 461.6h1M561.9 450.9h1M565.6 442.6h1M564.3 445.9h1M562.5 459.3h1M559.5 438.1h1M564.1 450.4h1M562.3 440.9h1M561.1 431.8h1M566.9 453.3h1M555.5 438.3h1M573.2 437.8h1M572.7 452.9h1M567.3 431.3h1M570.5 451.5h1M559.5 449.9h1M579.1 440.9h1M571.4 452.8h1M567.1 454.7h1M569.9 442.0h1M567.2 447.5h1M572.6 441.0h1M580.2 444.1h1M557.6 437.1h1M562.1 445.3h1M559.2 456.8h1M559.6 436.3h1M581.9 426.8h1M554.9 445.7h1M557.2 459.2h1M559.4 463.9h1M568.3 454.3h1M565.0 455.6h1M561.0 445.2h1M557.0 456.2h1M557.2 443.7h1M564.5 444.2h1M558.6 455.7h1M570.4 434.4h1M571.5 448.4h1M573.0 445.3h1M571.4 454.5h1M555.4 463.7h1M572.3 437.9h1M565.4 461.0h1M557.8 446.4h1M567.6 440.6h1M575.2 449.8h1M566.3 438.9h1M579.3 437.0h1M573.8 434.4h1M575.6 440.3h1M574.6 440.1h1M562.9 444.8h1M556.7 446.6h1M599.5 429.3h1M573.9 449.7h1M571.5 454.5h1M569.6 447.6h1M575.4 421.9h1M579.9 452.4h1M592.1 435.1h1M572.7 444.9h1M560.5 440.9h1M553.5 459.9h1M581.7 431.7h1M578.4 452.0h1M580.5 432.8h1M578.7 431.5h1M563.2 440.1h1M565.5 460.3h1M566.2 450.0h1M576.1 451.7h1M571.1 443.9h1M559.4 443.6h1M571.8 444.1h1M567.4 445.4h1M573.7 439.2h1M559.6 456.0h1M562.6 453.0h1M557.3 455.1h1M557.2 450.2h1M576.8 448.4h1M571.8 443.2h1M565.1 455.6h1M591.2 437.0h1M560.5 442.1h1M558.0 449.8h1M587.7 432.9h1M576.1 450.3h1M572.2 441.6h1M564.0 447.4h1M556.3 449.8h1M559.8 464.3h1M558.0 453.9h1M563.4 431.1h1M571.4 446.4h1M580.3 434.3h1M559.4 430.1h1M577.1 435.1h1M577.0 450.0h1M560.3 458.3h1M558.0 454.9h1M566.3 445.1h1M581.0 441.2h1M569.9 459.9h1M556.0 459.4h1M571.7 454.5h1M557.3 445.5h1M566.3 441.5h1M560.1 451.7h1M565.5 447.0h1M570.0 448.0h1M579.2 456.4h1M565.7 437.6h1M574.0 444.0h1M575.4 442.8h1M576.0 455.5h1M568.8 434.5h1M570.3 458.0h1M581.9 449.6h1M564.1 452.8h1M555.7 461.8h1M555.6 438.8h1M594.1 428.8h1M554.4 467.7h1M562.1 440.4h1M555.9 466.7h1M580.2 435.6h1M574.8 446.4h1M566.1 446.8h1M558.6 448.8h1M571.9 438.8h1M598.3 429.7h1M568.4 435.0h1M558.0 454.7h1M559.0 451.0h1M570.1 441.1h1M564.3 446.9h1M571.8 439.3h1M578.2 450.7h1M576.0 443.6h1M575.6 441.7h1M585.3 441.3h1M572.7 449.1h1M567.9 442.9h1M565.4 445.5h1M569.4 440.9h1M568.6 438.8h1M557.2 441.2h1M563.5 451.7h1M555.0 455.5h1M570.7 444.3h1M566.5 443.9h1M571.4 447.6h1M566.5 445.1h1M563.8 445.4h1M575.0 447.5h1M555.8 448.2h1M573.6 453.3h1M567.1 459.2h1M569.3 449.6h1M577.4 440.5h1M562.0 436.2h1M567.0 445.2h1M578.8 442.0h1M572.5 453.0h1M559.7 443.6h1M576.5 439.7h1M555.3 451.2h1M579.3 446.6h1M553.3 454.0h1M559.5 449.8h1M569.6 437.1h1M574.8 442.6h1M567.5 438.1h1M563.7 443.1h1M558.9 453.9h1M565.2 447.8h1M578.4 426.8h1M563.5 440.5h1M585.3 431.3h1M573.8 437.4h1M560.9 447.4h1M573.3 449.8h1M567.2 449.7h1M585.9 432.5h1M575.9 443.3h1M576.7 443.2h1M562.9 442.9h1M564.1 448.1h1M579.8 423.3h1M559.8 449.1h1M558.6 454.8h1M571.3 443.4h1M582.3 441.6h1M569.9 437.7h1M566.0 449.6h1M553.4 456.5h1M573.4 458.0h1M573.0 439.8h1M574.3 433.4h1M560.9 455.0h1M566.8 447.6h1M558.4 448.2h1M557.1 445.0h1M554.3 455.9h1M571.8 442.5h1M559.1 450.9h1M578.5 434.4h1M568.8 432.3h1M565.7 430.2h1M569.8 446.6h1M560.4 452.8h1M567.7 449.4h1M570.6 440.8h1M563.3 446.8h1M589.6 429.0h1M565.9 457.2h1M574.0 445.0h1M569.9 440.5h1M557.7 454.5h1M554.2 453.9h1M567.3 446.8h1M583.1 451.1h1M566.1 443.0h1M563.7 436.4h1M566.3 456.1h1M571.5 458.1h1M572.0 442.5h1M556.0 454.6h1M568.6 463.0h1M576.8 443.3h1M576.9 437.6h1M575.0 440.9h1M561.2 445.8h1M557.2 454.7h1M570.8 444.7h1M571.8 443.0h1M568.3 444.0h1M564.8 443.7h1M566.6 440.8h1M561.1 434.1h1M555.7 443.1h1M565.7 451.9h1M563.1 451.7h1M579.4 442.8h1M577.0 451.9h1M570.7 445.5h1M566.6 437.6h1M589.6 434.1h1M580.0 445.1h1M564.0 451.3h1M576.9 442.8h1M563.6 450.0h1M567.6 457.6h1M570.9 433.6h1M558.4 455.2h1M564.5 450.8h1M569.9 463.1h1M571.7 452.0h1M567.7 447.3h1M571.1 445.1h1M557.0 452.8h1M566.2 443.4h1M559.1 434.6h1M565.0 440.6h1M557.7 447.1h1M571.3 447.9h1M566.9 452.0h1M555.1 448.9h1M555.0 457.9h1M580.1 436.3h1M593.1 438.4h1M555.5 449.1h1M580.3 445.2h1M575.0 439.5h1M558.7 445.0h1M576.8 442.9h1M569.5 463.6h1M567.2 451.3h1M559.9 460.5h1M560.6 465.1h1M562.4 462.1h1M571.8 442.0h1M555.1 449.2h1M565.4 438.1h1M583.5 436.8h1M553.8 445.6h1M593.6 437.7h1M573.0 447.3h1M557.2 455.1h1M564.2 461.2h1M558.7 461.1h1M569.0 439.3h1M600.1 437.4h1M557.7 445.4h1M573.5 454.8h1M561.6 449.2h1M581.3 429.0h1M576.6 442.5h1M565.0 449.3h1M567.4 436.4h1M577.3 440.6h1M564.3 437.0h1M569.2 437.0h1M559.1 440.5h1M583.1 429.4h1M567.8 440.5h1M569.7 452.4h1M556.7 441.8h1M562.5 449.6h1M579.1 434.6h1M574.4 438.7h1M561.2 444.0h1M568.0 442.5h1M568.1 446.1h1M573.4 426.3h1M560.5 457.3h1M566.0 458.7h1M569.8 437.0h1M555.4 455.3h1M556.3 451.9h1M557.4 451.7h1M563.5 451.2h1M574.5 437.6h1M559.3 445.4h1M581.6 452.3h1M569.5 447.5h1M568.6 441.1h1M567.9 437.1h1M565.2 454.1h1M573.3 426.8h1M565.4 457.3h1M564.2 457.0h1M566.8 461.3h1M578.3 440.0h1M561.4 459.9h1M571.2 445.0h1M557.2 459.1h1M579.5 442.1h1M561.5 459.7h1M571.2 442.1h1M573.8 435.4h1M562.8 443.5h1M577.0 454.4h1M556.4 436.2h1M559.0 446.1h1M555.1 449.5h1M560.9 450.6h1M558.1 463.5h1M576.0 455.6h1M563.6 444.0h1M556.0 451.7h1M594.2 421.1h1M579.0 424.1h1M567.1 451.5h1M557.4 453.8h1M580.1 434.0h1M549.7 445.0h1M561.0 453.9h1M562.0 452.3h1M565.5 445.3h1M589.7 441.3h1M555.6 445.4h1M572.5 440.0h1M571.2 450.8h1M565.1 453.9h1M557.0 447.5h1M581.7 436.7h1M559.0 447.7h1M556.4 449.5h1M573.9 441.3h1M574.4 439.1h1M591.7 439.0h1M567.1 440.9h1M573.4 442.1h1M574.0 442.2h1M569.6 441.5h1M590.8 447.1h1M563.9 450.7h1M578.9 431.9h1M565.8 445.1h1M557.0 460.3h1M568.3 439.8h1M585.0 439.8h1M573.1 453.8h1M567.1 435.4h1M574.3 442.1h1M574.1 448.4h1M570.3 438.8h1M596.3 426.0h1M559.7 447.1h1M562.6 441.9h1M573.3 430.1h1M562.6 443.5h1M569.1 433.6h1M558.0 452.7h1M572.3 434.8h1M560.6 459.2h1M577.2 451.2h1M557.2 455.4h1M560.4 440.3h1M564.7 437.0h1M564.5 440.9h1M566.9 446.0h1M563.4 465.3h1M575.3 443.1h1M582.4 435.0h1M557.7 444.9h1M565.1 461.5h1M566.8 437.9h1M562.7 457.7h1M557.3 450.3h1M564.6 451.0h1M567.2 456.4h1M568.8 441.4h1M569.4 441.5h1M559.8 441.6h1M560.9 447.5h1M581.7 444.8h1M574.1 443.4h1M575.7 445.4h1M571.7 446.9h1M560.3 445.2h1M569.8 459.7h1M558.5 447.6h1M572.2 442.3h1M579.5 437.1h1M594.2 432.8h1M579.2 443.7h1M559.6 464.7h1M578.9 441.7h1M575.5 442.3h1M561.9 464.0h1M564.2 434.7h1M578.3 431.3h1M563.2 450.3h1M568.7 444.1h1M566.9 444.9h1M572.5 449.2h1M579.7 439.4h1M566.6 451.9h1M580.5 429.0h1M565.6 440.2h1M562.2 448.1h1M566.9 442.1h1M575.4 449.5h1M578.4 446.8h1M556.6 465.4h1M566.6 450.4h1M581.8 428.5h1M564.0 454.8h1M561.3 457.1h1M566.4 452.8h1M578.4 443.8h1M565.3 443.0h1M566.4 452.3h1M561.6 449.0h1M568.6 438.7h1M562.3 438.9h1M566.0 428.6h1M569.1 452.5h1M576.4 431.8h1M558.1 447.0h1M566.5 447.0h1M576.0 431.7h1M590.4 427.1h1M569.6 443.1h1M566.6 454.3h1M558.8 464.6h1M572.1 443.1h1M583.3 442.9h1M569.9 442.9h1M561.9 446.8h1M581.4 427.3h1M559.7 443.1h1M573.1 444.7h1M566.0 443.8h1M559.4 449.4h1M574.5 435.1h1M567.7 444.3h1M569.5 444.8h1M584.4 428.5h1M572.3 435.2h1M595.6 433.0h1M577.3 442.6h1M574.2 438.2h1M588.7 432.9h1M570.8 454.1h1M564.3 453.7h1M564.6 435.7h1M556.6 456.1h1M566.6 437.3h1M554.8 456.3h1M581.4 452.8h1M571.6 448.1h1M559.7 442.1h1M562.5 445.0h1M556.2 442.1h1M553.3 442.3h1M554.5 457.7h1M566.5 455.0h1M564.4 441.7h1M568.0 436.4h1M559.0 441.2h1M573.9 434.3h1M568.4 450.4h1M562.7 447.8h1M587.8 446.2h1M564.2 439.7h1M560.5 454.1h1M569.7 446.9h1M580.2 451.6h1M565.0 448.6h1M571.3 433.8h1M576.3 442.4h1M556.7 438.3h1M562.5 447.7h1M576.7 439.5h1M564.1 440.6h1M558.4 440.3h1M565.7 444.0h1M558.5 445.8h1M571.3 437.8h1M574.0 436.7h1M565.0 452.5h1M584.3 441.8h1M565.4 437.0h1M569.1 456.7h1M557.4 458.2h1M565.7 449.3h1M558.8 462.0h1M560.8 454.6h1M567.9 445.9h1M585.2 449.0h1M568.6 442.9h1M573.7 444.4h1M562.0 440.6h1M570.2 448.2h1M574.3 450.2h1M563.2 445.4h1M577.5 437.1h1M560.5 447.0h1M568.0 447.6h1M577.9 439.1h1M578.9 443.0h1M575.6 433.9h1M578.9 436.4h1M562.4 449.3h1M586.3 441.7h1M555.9 441.1h1M555.1 454.0h1M563.2 446.1h1M564.2 447.5h1M553.5 452.5h1M561.0 429.4h1M566.5 453.3h1M568.1 447.2h1M558.2 455.9h1M556.2 449.3h1M572.9 437.6h1M573.9 444.8h1M571.3 449.0h1M568.9 450.4h1M556.6 451.1h1M561.2 452.0h1M576.0 430.1h1M557.2 450.3h1M559.7 454.5h1M578.9 433.3h1M555.4 444.9h1M564.2 446.4h1M557.7 458.9h1M574.1 451.7h1M558.6 457.1h1M569.0 434.7h1M575.7 434.1h1M570.1 451.8h1M576.8 440.3h1M559.5 453.7h1M575.9 437.2h1M569.6 457.5h1M567.7 438.6h1M564.6 436.0h1M562.4 445.5h1M569.1 449.1h1M556.9 443.3h1M557.7 456.6h1M564.6 444.9h1M567.5 446.2h1M568.7 451.2h1M557.7 467.4h1M553.5 458.4h1M568.8 454.2h1M563.8 444.6h1M567.7 451.7h1M579.7 443.5h1M572.7 452.0h1M574.6 442.1h1M569.5 447.6h1M583.9 441.6h1M570.9 455.3h1M566.9 442.0h1M582.5 429.5h1M558.3 447.1h1M565.8 454.2h1M568.0 428.0h1M570.4 445.3h1M561.1 450.9h1M559.3 446.3h1M571.3 440.2h1M587.6 430.7h1M558.6 450.3h1M554.4 456.2h1M573.2 462.6h1M573.2 441.1h1M581.8 444.7h1M561.0 448.3h1M554.0 455.5h1M574.0 445.2h1M562.8 450.2h1M560.1 462.3h1M588.0 437.7h1M587.8 434.4h1M559.4 443.2h1M574.8 442.1h1M554.8 447.4h1M573.0 440.0h1M567.9 446.4h1M567.9 457.9h1M574.2 445.8h1M562.3 447.9h1M565.4 441.7h1M568.4 443.1h1M572.9 450.3h1M559.2 448.1h1M576.3 440.2h1M577.9 421.9h1M566.1 447.1h1M566.6 448.0h1M578.4 437.6h1M545.6 442.9h1M590.2 444.2h1M583.8 432.8h1M580.1 434.3h1M572.4 438.1h1M564.2 445.7h1M582.8 434.5h1M563.4 450.4h1M565.0 446.3h1M564.9 450.6h1M579.2 445.3h1M566.7 442.3h1M574.3 439.8h1M564.5 444.3h1M568.2 440.3h1M584.6 423.2h1M573.2 445.3h1M568.3 446.8h1M576.3 427.7h1M565.8 438.8h1M560.7 453.5h1M573.4 450.8h1M556.4 449.0h1M562.0 441.8h1M578.8 444.8h1M555.0 448.4h1M558.0 456.1h1M554.8 447.4h1M588.4 446.0h1M566.0 443.2h1M565.0 458.9h1M587.2 443.8h1M580.1 442.3h1M566.3 444.2h1M573.9 430.5h1M570.7 448.8h1M571.3 439.1h1M569.5 463.5h1M583.6 434.0h1M569.7 449.3h1M556.8 466.9h1M569.7 431.6h1M553.5 447.1h1M572.7 442.7h1M562.4 442.4h1M563.8 443.7h1M562.2 446.7h1M557.1 455.5h1M567.0 437.3h1M563.8 441.1h1M566.5 439.4h1M563.7 454.5h1M568.4 444.9h1M576.9 440.3h1M574.2 450.0h1M570.9 456.8h1M556.0 463.3h1M573.8 448.0h1M561.1 436.2h1M564.8 440.4h1M571.7 450.8h1M586.2 449.6h1M577.6 446.4h1M567.2 447.0h1M563.4 458.5h1M576.8 441.2h1M554.8 454.0h1M558.5 449.6h1M567.2 452.2h1M571.3 447.8h1M594.5 431.4h1M567.1 445.3h1M570.1 449.7h1M560.3 445.2h1M581.5 444.1h1M555.3 448.1h1M572.3 441.8h1M575.1 446.3h1M559.8 453.1h1M555.2 449.1h1M564.5 443.4h1M572.0 442.9h1M561.7 464.5h1M555.5 441.5h1M582.8 438.6h1M569.7 445.5h1M568.1 454.5h1M558.0 468.0h1M571.4 446.3h1M582.9 434.9h1M559.6 453.4h1M563.2 448.6h1M553.9 446.6h1M586.6 429.4h1M587.3 441.3h1M563.8 454.0h1M579.7 441.7h1M570.5 441.6h1M574.6 442.4h1M558.0 446.3h1M564.7 454.5h1M559.3 460.1h1M561.7 457.4h1M573.6 450.4h1M573.7 450.8h1M564.2 434.8h1M569.7 446.5h1M565.1 457.8h1M584.9 454.6h1M564.7 453.8h1M574.3 441.8h1M564.9 458.2h1M563.8 457.6h1M578.2 438.0h1M572.5 434.4h1M555.2 451.2h1M573.3 442.2h1M578.8 443.9h1M558.1 436.0h1M564.2 448.0h1M562.8 456.4h1M567.9 441.4h1M569.8 460.4h1M566.3 445.3h1M570.4 436.1h1M574.3 439.0h1M561.8 452.8h1M568.8 440.8h1M577.4 432.2h1M571.9 457.7h1M581.2 445.4h1M569.6 437.9h1M566.6 441.0h1M584.5 421.2h1M569.8 436.2h1M565.3 436.5h1M583.1 443.1h1M569.2 451.0h1M561.6 450.2h1M571.7 455.7h1M575.9 438.0h1M571.5 446.9h1M584.3 438.5h1M571.2 438.5h1M567.5 441.5h1M568.8 452.5h1M574.1 445.5h1M567.4 448.7h1M568.4 452.7h1M577.5 443.6h1M576.9 447.4h1M570.0 443.8h1M581.1 444.7h1M567.2 443.3h1M569.9 442.9h1M592.2 435.8h1M553.5 453.7h1M571.6 438.2h1M562.6 465.6h1M575.4 438.5h1M566.4 448.8h1M580.6 440.1h1M571.7 445.2h1M566.7 448.5h1M565.5 455.7h1M561.4 452.8h1M575.2 439.5h1M567.6 435.0h1M568.5 449.3h1M560.3 453.4h1M554.4 456.9h1M565.9 457.2h1M555.8 457.0h1M568.7 457.1h1M563.8 453.5h1M566.2 447.3h1M566.3 452.2h1M571.1 439.0h1M562.9 446.4h1M577.5 453.1h1M568.7 447.2h1M577.6 434.8h1M569.1 427.6h1M556.3 443.2h1M563.6 444.4h1M569.3 453.1h1M565.3 448.4h1M563.0 445.9h1M554.5 448.8h1M554.9 460.6h1M556.3 449.2h1M579.1 432.5h1M564.5 450.0h1M580.2 439.4h1M571.2 434.2h1M558.3 437.8h1M562.6 460.7h1M566.7 454.9h1M554.1 446.1h1M575.2 432.9h1M570.7 435.2h1M569.7 443.9h1M570.8 459.3h1M570.1 437.5h1M569.9 447.7h1M574.8 440.0h1M570.6 450.6h1M538.0 463.8h1M554.0 450.0h1M560.8 444.1h1M558.1 453.7h1M574.9 437.1h1M577.6 440.4h1M590.8 456.1h1M570.8 435.6h1M570.7 437.9h1M573.8 447.7h1M571.3 435.1h1M585.9 431.0h1M580.1 448.6h1M564.0 437.0h1M562.1 451.1h1M565.8 439.2h1M562.7 444.2h1M565.1 454.9h1M568.3 444.8h1M557.0 453.1h1M572.7 448.5h1M568.8 437.6h1M560.2 445.4h1M570.6 442.4h1M564.4 453.8h1M569.5 445.4h1M579.1 427.2h1M566.0 453.3h1M583.8 434.7h1M557.2 443.1h1M567.4 444.0h1M560.1 454.0h1M557.6 441.1h1M575.4 433.2h1M569.9 447.6h1M557.2 446.1h1M565.7 444.6h1M572.7 434.0h1M563.9 445.8h1M578.8 440.2h1M536.2 464.4h1M603.5 431.4h1M555.7 452.4h1M569.9 456.2h1M572.5 437.4h1M575.6 443.6h1M555.3 440.7h1M573.6 445.6h1M583.5 437.0h1M565.2 445.6h1M573.9 439.6h1M563.3 462.6h1M568.6 440.1h1M574.9 443.2h1M570.4 451.9h1M575.5 444.6h1M567.0 450.3h1M578.7 433.7h1M573.0 435.7h1M568.4 451.8h1M577.1 451.1h1M568.4 440.1h1M577.5 445.3h1M567.2 443.4h1M573.1 431.3h1M557.7 448.5h1M561.0 438.2h1M575.2 440.8h1M565.1 453.1h1M548.5 446.3h1M563.0 452.4h1M575.3 442.0h1M554.8 450.4h1M572.7 434.0h1M566.0 447.3h1M561.6 452.6h1M569.2 433.1h1M563.2 457.1h1M583.0 436.0h1M577.0 427.4h1M570.5 440.7h1M569.6 435.3h1M574.2 441.3h1M563.0 441.2h1M569.6 451.2h1M556.4 460.9h1M563.6 439.9h1M566.3 449.1h1M558.7 469.3h1M575.9 445.6h1M557.1 450.8h1M575.6 443.2h1M580.7 439.3h1M581.1 454.4h1M563.4 447.9h1M557.7 453.9h1M564.6 455.8h1M571.9 434.1h1M560.4 445.8h1M574.1 430.7h1M565.3 452.1h1M580.2 442.2h1M571.8 434.4h1M571.0 446.9h1M557.2 455.8h1M569.1 440.6h1M581.3 445.3h1M577.2 442.7h1M561.4 444.9h1M557.1 433.2h1M561.5 449.2h1M555.8 446.0h1M562.9 437.5h1M559.1 440.1h1M559.1 420.6h1M559.9 451.4h1M573.8 453.1h1M573.4 435.7h1M563.5 443.3h1M583.9 444.3h1M567.7 449.7h1M583.1 437.1h1M568.5 442.8h1M558.3 455.1h1M569.8 441.5h1M573.7 429.1h1M588.0 448.0h1M571.4 452.8h1M564.7 434.4h1M573.7 436.3h1M554.6 447.9h1M554.2 447.2h1M586.8 420.4h1M567.0 450.1h1M574.3 435.5h1M560.8 445.2h1M574.3 444.3h1M589.3 439.8h1M560.6 434.7h1M562.5 446.4h1M576.5 444.1h1M574.7 443.1h1M563.9 444.7h1M555.9 442.9h1M564.6 446.9h1M565.8 442.9h1M554.2 459.1h1M583.8 436.7h1M567.5 448.2h1M591.8 437.2h1M557.7 451.4h1M559.6 437.8h1M574.3 434.5h1M570.5 446.5h1M556.1 442.7h1M572.2 428.3h1M567.4 449.9h1M567.6 450.4h1M552.2 442.4h1M575.8 439.9h1M563.8 442.7h1M570.0 446.2h1M567.2 453.7h1M576.1 439.6h1M567.1 445.5h1M565.9 449.0h1M555.4 454.4h1M561.6 433.9h1M571.4 443.1h1M562.0 439.1h1M556.5 458.3h1M567.3 458.0h1M554.8 457.4h1M575.2 452.8h1M559.9 450.8h1M564.0 434.0h1M593.2 437.8h1M566.9 450.0h1M560.1 453.8h1M567.9 443.1h1M569.5 434.5h1M563.0 455.5h1M563.4 449.2h1M588.0 446.2h1M555.4 452.6h1M574.1 448.6h1M589.4 449.6h1M573.7 439.9h1M572.5 449.4h1M574.2 438.8h1M560.9 459.2h1M564.8 446.0h1M569.3 453.6h1M568.6 452.9h1M567.3 445.8h1M572.3 444.3h1M560.1 449.3h1M588.4 435.0h1M564.6 446.7h1M566.5 439.1h1M574.2 447.3h1M576.3 423.6h1M562.7 440.0h1M582.8 460.7h1M560.9 451.7h1M571.9 447.2h1M577.0 441.5h1M570.2 439.8h1M579.8 436.8h1M564.3 439.7h1M567.3 452.0h1M582.4 439.3h1M558.0 447.2h1M554.0 442.5h1M564.2 453.9h1M563.0 452.9h1M571.1 436.6h1M581.7 442.7h1M554.0 446.9h1M557.5 439.0h1M569.5 446.9h1M557.3 440.3h1M577.2 444.0h1M563.1 454.8h1M559.7 456.3h1M553.9 448.8h1M553.9 453.2h1M582.1 448.0h1M574.7 438.8h1M571.2 446.7h1M581.9 440.4h1M586.4 441.1h1M588.1 434.5h1M570.1 436.1h1M585.6 423.2h1M560.5 456.1h1M586.2 429.3h1M569.6 440.0h1M576.9 448.1h1M563.0 449.1h1M568.3 443.2h1M563.1 458.0h1M566.5 448.4h1M567.0 456.4h1M576.1 447.5h1M555.6 465.7h1M562.4 443.6h1M580.0 440.1h1M561.6 444.8h1M569.3 452.6h1M560.0 453.8h1M573.0 438.2h1M568.1 448.1h1M588.1 425.8h1M557.4 441.3h1M557.9 430.6h1M563.6 443.4h1M586.0 433.7h1M566.3 437.3h1M563.3 447.4h1M579.2 435.8h1M567.1 453.8h1M564.8 444.1h1M557.0 464.2h1M561.5 448.2h1M554.7 453.0h1M575.2 444.5h1M581.8 426.6h1M567.8 446.4h1M562.4 450.6h1M558.4 450.5h1M570.1 432.9h1M572.1 449.5h1M569.3 447.9h1M569.3 441.7h1M580.0 443.8h1M561.2 448.5h1M564.6 456.1h1M569.6 442.7h1M578.4 440.2h1M578.9 433.8h1M563.2 439.6h1M573.2 438.6h1M568.9 446.3h1M575.8 425.4h1M569.6 428.0h1M576.3 438.9h1M561.0 450.9h1M575.5 442.6h1M564.3 455.0h1M573.8 448.8h1M572.4 443.4h1M574.6 440.9h1M568.5 453.6h1M564.0 443.6h1M584.2 448.5h1M574.1 456.6h1M562.3 443.0h1M570.2 456.6h1M576.9 433.8h1M563.9 447.6h1M556.7 458.9h1M564.3 441.2h1M585.0 437.2h1M587.0 434.4h1M568.5 461.0h1M556.8 452.3h1M561.6 454.6h1M575.2 456.1h1M561.8 453.4h1M562.2 458.4h1M572.2 451.3h1M572.8 435.3h1M564.0 426.8h1M578.6 440.5h1M565.9 448.7h1M581.1 445.7h1M569.8 451.5h1M569.0 448.7h1M565.0 449.5h1M553.9 462.4h1M555.4 447.9h1M574.0 438.6h1M573.6 458.2h1M569.6 431.9h1M575.3 451.7h1M566.8 456.3h1M555.3 447.3h1M559.6 444.3h1M584.3 449.0h1M556.3 443.2h1M577.6 429.3h1M562.1 449.9h1M562.9 455.2h1M562.1 440.4h1M560.9 441.7h1M568.5 436.6h1M564.8 446.0h1M566.4 444.1h1M575.4 454.6h1M570.0 440.4h1M553.6 450.6h1M571.7 456.3h1M560.7 466.6h1M583.0 446.7h1M564.7 443.2h1M572.6 444.0h1M570.6 458.4h1M570.1 443.8h1M574.5 445.9h1M569.5 440.5h1M570.6 445.9h1M565.6 452.4h1M560.3 451.9h1M557.4 455.5h1M573.7 443.7h1M555.7 455.5h1M564.6 437.7h1M558.0 443.6h1M569.7 449.5h1M574.3 432.0h1M560.6 448.9h1M569.1 440.3h1M553.9 460.8h1M565.9 461.1h1M570.3 443.8h1M575.7 444.4h1M559.6 456.4h1M557.5 451.1h1M595.0 424.2h1M554.3 466.1h1M565.3 448.5h1M577.0 439.5h1M572.6 438.1h1M562.1 438.4h1M563.8 450.8h1M586.7 443.1h1M559.9 447.2h1M568.6 452.4h1M578.8 438.4h1M562.4 449.5h1M565.0 452.3h1M560.4 442.3h1M566.7 441.6h1M564.0 467.2h1M575.1 439.0h1M573.5 458.4h1M570.4 438.5h1M575.9 454.0h1M587.4 448.7h1M574.5 443.4h1M577.9 441.8h1M575.7 453.5h1M582.2 439.3h1M573.8 439.3h1M566.0 430.5h1M555.7 449.6h1M576.2 441.5h1M558.0 462.6h1M577.5 436.6h1M560.0 437.8h1M553.4 452.6h1M591.1 442.0h1M563.7 449.0h1M556.8 460.5h1M571.1 439.6h1M556.4 452.1h1M563.2 450.9h1M574.4 449.7h1M562.1 457.7h1M557.9 445.3h1M560.2 457.7h1M559.8 451.6h1M570.3 446.8h1M554.8 443.8h1M557.5 454.7h1M564.4 466.3h1M576.0 446.4h1M567.8 443.7h1M572.3 454.9h1M575.7 451.1h1M566.3 432.1h1M562.1 444.0h1M567.6 445.5h1M555.4 448.9h1M577.5 446.3h1M553.4 452.9h1M563.3 444.9h1M561.5 437.5h1M567.9 450.8h1M556.5 444.6h1M560.0 457.8h1M577.5 441.7h1M569.6 441.6h1M569.0 441.4h1M553.3 462.4h1M580.4 438.0h1M584.5 440.4h1M561.8 436.0h1M553.6 452.9h1M561.9 450.1h1M577.4 451.6h1M573.1 448.1h1M563.0 453.8h1M555.8 453.6h1M568.6 450.0h1M588.7 435.8h1M567.6 437.8h1M577.0 440.0h1M569.9 440.9h1M566.5 448.1h1M569.6 446.4h1M567.0 457.8h1M559.3 442.4h1M578.2 440.5h1M570.2 453.5h1M570.4 449.1h1M560.2 439.9h1M594.3 430.6h1M557.3 446.9h1M561.5 443.2h1M557.0 452.9h1M575.2 441.5h1M561.3 446.6h1M573.3 443.1h1M565.1 455.3h1M577.9 454.7h1M571.9 441.1h1M575.1 442.4h1M561.2 444.6h1M560.4 448.8h1M578.3 449.6h1M570.2 454.1h1M556.5 456.0h1M558.9 457.4h1M569.6 427.9h1M573.0 443.6h1M560.4 439.9h1M581.4 444.9h1M555.9 445.0h1M564.7 453.9h1M557.9 436.5h1M561.2 451.1h1M575.6 446.8h1M559.0 456.1h1M578.0 451.6h1M582.9 450.2h1M573.4 445.0h1M578.6 447.8h1M577.2 441.0h1M572.9 441.8h1M561.7 453.1h1M576.4 434.0h1M574.5 441.3h1M568.4 449.7h1M564.3 448.8h1M557.4 446.7h1M570.8 440.5h1M574.4 444.4h1M558.7 459.3h1M575.0 440.2h1M574.1 448.1h1M564.9 434.2h1M571.9 444.0h1M560.5 453.5h1M566.0 457.7h1M587.1 426.5h1M558.8 441.0h1M554.8 450.5h1M566.3 428.7h1M571.8 449.2h1M572.3 448.2h1M570.9 446.4h1M567.3 429.6h1M572.4 454.2h1M565.5 449.8h1M579.9 443.6h1M568.2 435.6h1M569.7 447.9h1M564.7 446.6h1M579.4 431.1h1M574.8 450.5h1M566.2 457.9h1M558.8 457.6h1M553.9 450.6h1M591.1 448.4h1M559.9 441.7h1M570.1 450.1h1M572.8 444.7h1M567.1 441.6h1M571.0 455.4h1M577.4 444.1h1M578.8 435.1h1M567.3 450.7h1M565.7 430.4h1M554.9 443.4h1M576.6 441.9h1M572.2 444.1h1M562.5 444.5h1M563.5 441.3h1M557.7 448.4h1M567.8 437.7h1M563.3 434.8h1M566.0 449.5h1M562.4 448.2h1M583.6 446.1h1M567.3 433.4h1M582.0 444.5h1M588.2 442.4h1M563.0 450.5h1M569.0 453.4h1M569.4 432.3h1M574.8 450.5h1M566.1 441.1h1M571.1 450.3h1M574.0 438.9h1M564.4 447.6h1M564.1 445.0h1M559.5 454.0h1M580.4 435.9h1M577.6 441.4h1M577.5 431.5h1M575.1 444.8h1M560.6 446.7h1M578.3 441.1h1M567.1 440.5h1M554.7 449.4h1M562.4 447.7h1M572.4 445.2h1M556.9 453.1h1M570.2 431.2h1M565.5 443.1h1M569.8 444.5h1M567.5 457.6h1M564.6 448.6h1M570.8 441.0h1M564.2 457.2h1M575.2 441.2h1M567.4 457.0h1M564.2 447.4h1M568.5 443.1h1M566.6 451.5h1M556.8 461.2h1M554.4 449.7h1M574.6 431.5h1M567.9 447.5h1" stroke="#ff0000" stroke-width="1" stroke-opacity="0.55" fill="none"/>
<path d="M580.6 440.9h1M585.4 439.8h1M614.5 409.1h1M579.7 439.8h1M578.1 441.1h1M580.7 434.6h1M590.2 426.1h1M576.6 439.4h1M597.2 426.3h1M583.3 427.8h1M600.7 428.6h1M586.6 424.8h1M582.5 425.7h1M587.4 432.6h1M595.5 422.5h1M586.0 440.8h1M583.1 432.2h1M580.9 425.1h1M577.8 438.4h1M589.8 433.6h1M591.1 426.0h1M583.6 431.6h1M583.0 433.5h1M586.9 439.8h1M582.7 430.8h1M590.7 430.8h1M587.6 435.1h1M586.8 424.1h1M584.4 438.0h1M599.2 421.1h1M595.9 426.9h1M597.5 422.3h1M583.5 424.6h1M572.6 440.8h1M590.9 423.3h1M586.6 434.4h1M577.6 427.5h1M581.8 433.4h1M575.9 434.8h1M580.1 435.2h1M594.1 432.0h1M585.3 424.3h1M593.7 434.2h1M592.9 425.0h1M581.6 424.9h1M576.7 442.6h1M601.8 425.6h1M582.8 431.8h1M582.7 439.0h1M581.6 423.7h1M570.5 459.3h1M592.4 436.4h1M606.7 416.0h1M583.6 433.1h1M584.6 432.1h1M579.4 438.6h1M599.4 426.6h1M601.2 421.2h1M556.7 444.8h1M589.2 435.4h1M598.0 430.0h1M593.1 431.8h1M571.6 430.8h1M582.8 425.9h1M568.0 446.8h1M577.4 423.5h1M583.2 444.4h1M593.4 420.5h1M570.5 445.6h1M577.1 433.2h1M580.7 430.8h1M569.8 434.0h1M584.4 437.2h1M597.6 436.1h1M593.8 429.9h1M578.3 428.2h1M580.0 445.0h1M578.0 440.7h1M607.7 413.0h1M593.5 422.0h1M577.0 434.9h1M579.7 439.8h1M579.6 429.5h1M585.8 429.0h1M585.2 426.9h1M608.2 425.1h1M577.7 449.7h1M577.9 437.1h1M590.6 425.7h1M584.6 439.0h1M570.6 441.8h1M588.9 438.5h1M588.3 439.5h1M593.8 431.8h1M595.5 430.7h1M585.6 432.6h1M583.5 425.5h1M586.6 426.6h1M597.1 427.2h1M584.6 421.8h1M580.5 427.5h1M561.2 447.3h1M583.9 439.8h1M585.3 432.0h1M598.9 418.0h1M599.9 426.5h1M573.9 443.6h1M589.9 440.4h1M583.6 423.6h1M588.1 440.4h1M603.6 427.7h1M604.2 429.2h1M578.3 443.9h1M570.1 441.0h1M572.8 424.3h1M584.1 435.6h1M558.4 453.3h1M581.5 426.7h1M583.7 432.5h1M608.3 415.0h1M580.0 436.8h1M582.7 430.5h1M596.9 423.8h1M589.8 421.7h1M584.6 430.6h1M565.9 446.9h1M597.0 438.6h1M581.6 450.1h1M574.4 436.3h1M590.1 412.6h1M578.3 448.4h1M592.4 420.1h1M583.1 426.9h1M590.4 428.0h1M586.7 435.8h1M587.1 438.9h1M579.7 433.7h1M588.1 423.2h1M571.3 437.3h1M587.9 446.4h1M574.4 445.3h1M601.3 402.6h1M590.3 434.3h1M589.5 432.1h1M598.1 430.4h1M581.0 428.0h1M580.4 430.6h1M591.5 424.4h1M590.9 422.4h1M591.3 434.3h1M599.3 430.1h1M593.5 434.9h1M589.4 432.6h1M567.4 445.9h1M607.7 422.1h1M591.3 434.6h1M603.0 431.4h1M570.0 443.4h1M585.6 437.9h1M588.5 423.7h1M586.5 426.0h1M589.5 420.5h1M580.9 433.5h1M580.1 422.3h1M592.0 424.2h1M587.7 432.2h1M583.4 433.7h1M592.9 438.8h1M585.0 437.1h1M571.6 429.8h1M592.3 434.5h1M592.4 436.0h1M585.7 432.3h1M581.3 425.2h1M596.9 427.5h1M588.3 441.7h1M570.0 439.5h1M564.1 452.5h1M603.4 417.7h1M588.4 434.3h1M603.1 421.2h1M581.4 437.5h1M585.5 437.7h1M594.3 420.4h1M580.1 422.5h1M578.9 431.0h1M598.3 412.1h1M590.7 425.3h1M579.4 427.4h1M589.6 419.5h1M604.2 433.7h1M578.2 448.6h1M572.5 436.4h1M582.5 435.7h1M596.6 422.4h1M588.9 422.8h1M593.8 419.2h1M575.1 448.0h1M594.3 431.3h1M592.8 427.9h1M594.0 420.3h1M577.0 429.2h1M580.1 425.2h1M593.1 428.7h1M596.9 420.8h1M580.4 433.9h1M592.6 435.2h1M573.6 446.4h1M582.8 447.9h1M582.7 431.5h1M590.9 436.7h1M583.3 439.0h1M574.1 432.2h1M569.3 448.7h1M580.3 435.9h1M580.1 441.1h1M584.5 427.3h1M589.7 424.8h1M583.7 447.8h1M585.7 435.9h1M573.4 441.0h1M578.4 428.3h1M593.0 430.4h1M596.6 437.4h1M588.2 438.8h1M589.6 424.5h1M575.7 425.2h1M591.9 428.7h1M589.0 426.5h1M598.0 417.8h1M595.6 431.7h1M585.2 427.2h1M573.2 431.8h1M592.7 428.5h1M595.9 435.3h1M599.2 431.5h1M591.3 440.7h1M589.0 429.8h1M588.3 433.7h1M601.0 416.4h1M588.4 421.5h1M580.9 437.4h1M634.0 418.2h1M586.3 421.8h1M586.8 422.7h1M582.0 438.8h1M593.0 411.5h1M578.5 427.7h1M566.5 430.0h1M578.2 420.4h1M578.5 437.2h1M612.4 412.6h1M588.1 426.5h1M601.5 436.5h1M574.0 446.3h1M597.4 430.3h1M593.1 425.1h1M584.7 441.1h1M599.4 416.6h1M585.9 431.9h1M582.3 432.0h1M583.8 433.3h1M599.7 432.7h1M588.5 426.4h1M572.8 427.5h1M588.3 429.1h1M578.4 435.9h1M599.7 427.4h1M606.5 423.5h1M610.3 422.4h1M598.6 427.2h1M589.7 438.2h1M584.4 431.3h1M578.3 421.8h1M600.2 416.5h1M582.8 441.5h1M589.5 420.6h1M590.8 428.8h1M596.8 422.8h1M580.7 431.2h1M595.4 431.3h1M585.2 429.7h1M592.3 434.9h1M584.4 434.2h1M599.1 422.3h1M588.4 426.1h1M574.8 437.9h1M581.7 419.5h1M588.6 426.8h1M569.9 443.9h1M581.4 434.1h1M568.7 435.2h1M577.5 429.1h1M584.6 435.5h1M586.2 428.9h1M574.5 441.7h1M583.7 425.1h1M579.2 435.6h1M587.5 437.9h1M587.6 431.2h1M591.7 428.7h1M581.2 428.4h1M591.3 429.1h1M573.6 439.3h1M600.4 414.4h1M582.5 440.3h1M576.2 438.1h1M600.7 416.2h1M591.2 432.7h1M570.1 437.4h1M589.3 436.4h1M577.7 433.0h1M589.0 438.1h1M582.1 433.6h1M579.8 440.5h1M583.1 433.3h1M583.4 431.4h1M578.9 432.8h1M582.9 427.1h1M575.1 432.2h1M567.2 452.6h1M595.1 421.3h1M584.8 432.7h1M570.7 449.2h1M578.4 433.9h1M577.5 434.8h1M577.1 437.1h1M567.3 444.5h1M595.7 430.2h1M589.0 437.0h1M589.7 430.6h1M582.0 421.7h1M577.4 434.7h1M580.3 427.3h1M591.5 425.3h1M583.5 441.8h1M593.5 431.9h1M577.9 439.8h1M575.8 435.2h1M587.7 437.8h1M575.4 430.7h1M573.7 443.1h1M583.8 442.8h1M594.7 428.9h1M591.5 430.3h1M601.6 420.2h1M576.9 433.5h1M584.3 425.7h1M584.9 430.3h1M568.2 456.5h1M564.2 430.2h1M581.8 439.0h1M582.0 432.9h1M580.8 434.2h1M599.9 430.8h1M599.8 410.1h1M560.8 446.9h1M607.9 409.4h1M591.9 429.7h1M568.3 445.0h1M578.1 430.1h1M560.2 434.1h1M572.4 440.1h1M578.0 441.8h1M614.8 419.8h1M573.9 444.8h1M587.5 431.5h1M587.0 434.0h1M587.6 430.3h1M576.2 428.8h1M587.0 434.6h1M574.7 440.0h1M593.5 418.0h1M577.2 437.8h1M591.0 429.0h1M583.8 432.5h1M582.9 439.3h1M589.2 424.4h1M578.7 445.0h1M595.3 425.4h1M581.7 437.2h1M593.9 429.0h1M577.3 437.2h1M586.2 423.0h1M586.8 426.0h1M598.1 426.0h1M596.7 426.7h1M578.0 438.2h1M577.6 434.2h1M602.8 427.8h1M561.4 448.3h1M567.4 445.6h1M582.8 421.0h1M564.4 431.5h1M572.5 435.9h1M570.0 450.2h1M601.2 423.6h1M593.7 428.8h1M582.6 449.1h1M581.5 442.9h1M585.6 435.1h1M585.2 421.0h1M583.8 431.6h1M589.3 422.1h1M573.3 435.3h1M557.0 443.9h1M592.8 421.3h1M574.2 435.2h1M592.3 429.7h1M573.5 429.0h1M578.4 430.0h1M570.9 439.1h1M580.6 434.7h1M575.6 444.9h1M577.1 429.3h1M596.1 425.4h1M598.7 422.6h1M595.5 417.7h1M600.9 409.7h1M587.1 445.6h1M607.8 421.3h1M576.9 424.2h1M597.9 431.3h1M603.1 413.3h1M588.6 436.4h1M575.2 441.9h1M597.0 425.1h1M588.9 431.1h1M588.4 430.3h1M596.0 432.1h1M582.5 426.6h1M582.8 430.1h1M579.4 432.1h1M568.3 438.8h1M576.6 442.4h1M581.9 428.6h1M578.5 438.8h1M588.6 436.5h1M583.3 439.7h1M591.6 421.7h1M584.5 429.1h1M594.3 429.2h1M583.4 446.8h1M584.8 427.9h1M584.7 435.6h1M587.8 429.9h1M593.0 420.6h1M583.4 429.9h1M577.3 441.9h1M581.2 435.9h1M582.6 443.2h1M577.6 435.1h1M583.1 431.2h1M605.1 426.5h1M578.4 442.3h1M588.4 435.5h1M593.7 430.5h1M584.4 435.3h1M563.1 441.7h1M576.8 438.0h1M593.4 428.7h1M569.3 428.5h1M592.8 430.9h1M587.0 427.5h1M566.9 431.4h1M591.8 424.0h1M578.4 440.6h1M591.9 430.4h1M596.1 419.3h1M589.7 419.9h1M570.3 443.3h1M602.6 428.0h1M584.0 432.0h1M588.0 413.9h1M580.4 443.5h1M587.2 429.5h1M592.2 431.0h1M590.2 428.5h1M616.7 415.1h1M556.2 444.3h1M594.1 426.7h1M588.9 436.0h1M586.0 429.9h1M585.1 431.9h1M591.9 443.0h1M579.6 435.6h1M593.9 426.2h1M581.8 426.5h1M586.4 432.6h1M588.3 429.5h1M577.8 431.9h1M600.1 429.4h1M579.1 431.7h1M579.3 442.7h1M607.0 426.7h1M585.9 434.9h1M574.6 440.5h1M578.8 435.9h1M588.4 440.9h1M582.1 435.2h1M590.9 432.1h1M591.7 420.9h1M593.4 426.7h1M578.6 439.1h1M607.6 419.0h1M599.3 420.1h1M581.7 426.8h1M580.1 420.2h1M574.7 453.6h1M590.1 433.5h1M581.5 431.1h1M598.4 425.6h1M583.3 421.8h1M563.2 444.5h1M574.1 454.8h1M579.6 430.1h1M588.6 428.6h1M578.7 446.5h1M581.6 425.9h1M613.3 429.5h1M594.7 428.6h1M574.8 433.4h1M576.1 437.7h1M610.6 411.2h1M587.3 428.7h1M599.0 415.1h1M606.0 424.5h1M589.4 424.2h1M574.0 436.7h1M586.1 417.6h1M602.7 419.3h1M569.2 446.0h1M590.1 439.1h1M579.7 435.3h1M586.9 420.8h1M591.7 426.8h1M579.2 432.6h1M581.7 433.3h1M603.3 418.6h1M588.5 423.5h1M597.8 429.4h1M585.9 447.9h1M585.5 421.9h1M580.1 429.5h1M601.5 433.5h1M610.9 409.7h1M588.4 442.4h1M583.5 427.2h1M583.3 431.4h1M592.5 429.6h1M568.3 437.7h1M593.4 434.8h1M595.2 428.5h1M584.5 437.8h1M587.1 439.1h1M595.1 427.9h1M582.1 436.9h1M584.5 426.1h1M585.4 439.1h1M579.2 434.5h1M595.6 418.8h1M595.5 424.2h1M591.2 429.0h1M590.7 422.3h1M589.7 430.6h1M595.2 429.6h1M588.5 423.8h1M590.6 432.7h1M581.8 433.8h1M602.8 424.2h1M581.4 439.0h1M574.5 440.5h1M581.2 440.7h1M582.0 437.9h1M596.7 429.7h1M582.0 434.7h1M597.4 434.0h1M592.4 421.9h1M597.9 411.4h1M580.0 423.6h1M569.1 445.1h1M579.9 448.5h1M583.4 425.3h1M578.5 432.5h1M591.2 430.0h1M593.5 420.3h1M606.9 408.3h1M576.2 429.7h1M585.4 427.9h1M598.9 431.5h1M581.8 434.7h1M594.6 416.6h1M589.5 420.1h1M586.5 440.9h1M594.2 426.9h1M581.0 426.9h1M573.4 447.6h1M585.8 427.2h1M608.3 420.6h1M573.5 425.8h1M587.0 427.1h1M578.5 448.7h1M573.1 434.9h1M570.7 430.4h1M601.4 417.4h1M599.8 425.6h1M600.1 428.1h1M591.0 433.3h1M590.1 432.8h1M580.8 439.4h1M583.3 433.1h1M578.6 422.5h1M569.3 441.5h1M587.3 422.7h1M602.3 420.3h1M594.9 424.0h1M581.2 428.5h1M592.8 434.1h1M578.6 439.2h1M588.8 438.5h1M585.6 426.2h1M578.6 438.3h1M596.6 429.1h1M598.4 420.6h1M597.7 415.6h1M575.8 425.7h1M595.7 432.3h1M576.4 425.0h1M581.5 438.8h1M586.0 425.4h1M588.5 428.7h1M566.6 446.8h1M596.9 425.6h1M598.9 424.2h1M593.5 419.3h1M569.2 425.1h1M587.4 430.6h1M580.2 431.0h1M583.6 423.8h1M591.2 425.9h1M584.2 431.3h1M589.4 440.3h1M586.0 434.1h1M584.7 427.3h1M579.1 436.2h1M569.8 440.0h1M588.0 436.7h1M587.4 440.6h1M591.3 433.0h1M597.2 440.3h1M581.5 440.7h1M623.3 412.6h1M600.5 438.3h1M588.2 448.4h1M581.9 437.3h1M597.0 418.9h1M604.4 415.3h1M578.1 437.2h1M589.9 431.1h1M584.3 425.6h1M573.4 441.3h1M597.2 428.3h1M588.3 419.9h1M583.0 429.1h1M594.6 428.1h1M578.4 436.9h1M579.1 438.1h1M590.6 431.4h1M597.3 425.8h1M570.9 430.9h1M583.6 435.9h1M583.0 427.5h1M566.6 438.0h1M605.9 435.6h1M601.9 426.2h1M569.8 435.3h1M602.4 401.4h1M587.6 436.8h1M574.7 443.4h1M569.7 439.4h1M577.4 432.4h1M564.3 440.8h1M585.5 427.2h1M578.3 438.6h1M590.4 434.3h1M599.7 425.7h1M575.7 441.6h1M584.7 435.2h1M572.5 438.2h1M588.7 429.8h1M601.4 413.6h1M595.9 431.0h1M574.7 428.4h1M578.5 441.4h1M590.7 426.6h1M581.7 439.2h1M577.5 449.5h1M568.0 428.3h1M592.0 424.5h1M586.9 421.8h1M573.4 432.5h1M572.8 433.3h1M596.7 414.8h1M610.4 406.8h1M582.8 428.9h1M587.9 429.7h1M587.1 429.7h1M582.8 434.6h1M588.6 435.3h1M588.0 419.1h1M593.7 427.3h1M583.4 432.1h1M579.5 435.1h1M593.8 426.3h1M582.2 433.9h1M584.2 417.4h1M584.7 431.3h1M577.1 430.5h1M568.4 443.7h1M582.2 442.2h1M562.9 439.1h1M572.9 435.4h1M577.3 440.2h1M588.4 434.6h1M584.1 431.5h1M591.7 425.3h1M568.3 444.0h1M583.1 434.1h1M588.3 432.3h1M571.1 447.1h1M593.8 427.2h1M584.3 428.7h1M600.5 436.0h1M575.7 442.2h1M585.9 426.5h1M617.2 411.0h1M578.0 437.5h1M580.2 436.4h1M568.4 434.5h1M575.7 433.6h1M573.6 426.7h1M575.9 435.6h1M585.1 432.7h1M590.4 437.7h1M593.1 434.3h1M568.8 431.8h1M588.5 434.8h1M600.0 434.3h1M580.5 433.4h1M592.1 422.1h1M598.7 419.6h1M601.7 418.8h1M591.8 424.5h1M597.4 432.7h1M600.5 436.6h1M583.8 427.8h1M584.2 439.9h1M599.7 432.7h1M586.2 443.0h1M595.3 428.1h1M583.6 423.0h1M596.8 419.8h1M604.5 418.7h1M570.4 432.9h1M585.7 428.1h1M584.0 422.0h1M586.8 426.8h1M597.5 420.7h1M576.0 443.9h1M583.8 434.7h1M587.0 421.6h1M580.6 440.5h1M588.5 437.8h1M582.5 446.6h1M579.8 435.0h1M589.0 428.5h1M584.3 425.8h1M608.5 415.4h1M570.4 436.2h1M575.6 447.1h1M587.6 421.3h1M592.5 441.2h1M580.3 430.9h1M609.8 425.3h1M583.6 439.5h1M596.8 428.1h1M560.3 445.6h1M593.9 411.9h1M583.5 439.4h1M588.7 429.9h1M590.0 436.5h1M599.3 437.4h1M583.5 434.2h1M584.7 441.3h1M574.6 436.6h1M594.2 427.5h1M602.1 416.9h1M590.9 436.8h1M598.3 419.4h1M604.8 419.4h1M577.3 437.4h1M587.4 435.3h1M583.1 423.8h1M589.3 430.6h1M581.4 429.7h1M590.8 436.9h1M565.7 434.8h1M588.1 444.5h1M586.8 430.0h1M583.6 443.5h1M600.3 420.9h1M585.3 421.7h1M601.4 422.4h1M579.4 434.0h1M582.8 436.8h1M564.5 455.6h1M586.4 423.5h1M570.7 437.3h1M585.5 425.3h1M593.2 443.0h1M592.1 435.0h1M595.1 430.9h1M611.5 412.2h1M594.7 429.4h1M609.2 413.8h1M604.1 411.2h1M577.3 432.1h1M581.4 434.3h1M590.0 437.2h1M607.4 407.6h1M587.5 423.9h1M575.9 425.3h1M581.6 421.2h1M575.8 436.8h1M589.9 428.2h1M577.1 436.6h1M582.5 434.2h1M572.4 436.8h1M577.6 425.6h1M595.6 434.3h1M592.4 428.3h1M599.8 426.2h1M565.7 436.2h1M597.8 426.6h1M573.7 436.8h1M601.2 435.9h1M576.2 435.8h1M567.7 438.6h1M592.3 427.4h1M599.7 425.3h1M580.6 429.8h1M588.6 435.9h1M602.8 422.8h1M599.3 437.5h1M597.2 424.6h1M588.5 423.8h1M591.9 419.5h1M577.8 442.7h1M597.4 431.4h1M583.8 434.3h1M597.5 416.4h1M585.3 442.9h1M594.4 422.2h1M579.5 432.2h1M591.7 435.8h1M597.5 414.1h1M595.6 419.0h1M585.9 420.8h1M594.4 411.7h1M586.4 419.7h1M586.7 422.7h1M571.1 436.2h1M592.5 433.5h1M582.9 425.1h1M561.5 441.7h1M594.9 425.4h1M579.5 433.5h1M586.9 436.4h1M585.6 437.1h1M592.9 427.6h1M589.1 432.6h1M602.3 419.0h1M584.4 437.2h1M578.0 440.2h1M592.9 439.7h1M592.0 431.2h1M590.0 425.5h1M599.3 433.9h1M584.0 451.7h1M604.7 424.4h1M575.9 438.0h1M585.4 432.6h1M596.5 428.8h1M584.2 436.1h1M584.6 430.9h1M594.8 428.6h1M597.5 428.4h1M569.4 440.4h1M590.0 445.9h1M595.1 438.9h1M589.3 445.6h1M587.9 427.3h1M575.0 437.3h1M582.7 435.9h1M582.1 432.6h1M569.2 436.8h1M585.3 437.9h1M581.3 427.5h1M581.2 423.8h1M584.7 430.9h1M575.1 438.2h1M596.0 422.6h1M584.9 427.3h1M582.5 440.5h1M574.0 430.5h1M579.9 434.9h1M600.3 421.5h1M584.1 437.2h1M590.7 417.9h1M580.1 437.5h1M591.6 433.7h1M574.2 428.1h1M579.2 422.2h1M598.8 422.8h1M573.9 449.1h1M593.7 430.7h1M596.6 416.2h1M606.7 417.9h1M587.6 439.2h1M602.0 424.7h1M591.3 421.0h1M570.1 440.1h1M593.3 420.7h1M581.6 438.4h1M569.1 433.9h1M577.9 422.6h1M589.9 434.0h1M587.7 432.1h1M588.0 430.6h1M579.9 426.6h1M599.4 412.7h1M582.9 420.3h1M605.0 417.8h1M589.2 436.3h1M581.9 421.6h1M588.5 438.7h1M586.4 428.8h1M586.8 433.7h1M598.6 425.9h1M583.5 438.9h1M562.0 451.5h1M574.8 420.7h1M595.3 419.4h1M586.3 435.9h1M586.7 427.5h1M587.3 430.4h1M589.0 431.0h1M590.9 437.4h1M587.0 433.9h1M583.5 430.9h1M582.7 442.3h1M586.3 431.0h1M590.7 430.4h1M593.6 423.4h1M589.7 428.7h1M593.5 419.8h1M570.0 445.5h1M588.2 427.1h1M584.2 445.1h1M589.2 431.6h1M585.8 437.0h1M581.5 429.7h1M586.4 437.6h1M606.4 406.0h1M647.8 400.3h1M636.4 399.6h1M628.3 393.6h1M599.8 405.1h1M604.6 395.0h1M635.6 392.1h1M604.2 407.3h1M623.5 388.2h1M643.2 394.7h1M620.2 394.6h1M620.2 411.3h1M597.4 394.0h1M642.4 375.9h1M627.5 394.7h1M608.6 415.3h1M618.7 394.5h1M632.6 383.3h1M613.0 406.6h1M614.8 392.9h1M623.3 403.8h1M616.6 391.4h1M623.5 391.9h1M604.7 390.5h1M649.1 386.1h1M583.4 416.3h1M624.2 394.6h1M606.6 395.0h1M613.2 390.4h1M623.2 393.7h1M609.6 405.4h1M624.9 397.4h1M586.2 409.9h1M649.6 398.9h1M612.9 389.5h1M632.0 389.3h1M607.1 392.5h1M617.1 393.6h1M633.1 400.1h1M614.7 390.3h1M614.8 403.2h1M610.4 394.8h1M636.5 393.7h1M625.8 390.2h1M617.5 393.7h1M604.7 412.0h1M638.6 386.0h1M598.8 396.2h1M629.7 387.6h1M630.1 384.1h1M620.3 388.6h1M598.9 401.8h1M628.4 402.7h1M646.0 400.7h1M587.7 406.2h1M620.2 391.6h1M593.1 400.2h1M604.6 392.3h1M616.1 401.4h1M598.8 408.7h1M634.6 396.7h1M630.9 387.8h1M610.0 402.4h1M606.4 405.5h1M610.4 394.6h1M650.4 390.5h1M615.9 400.2h1M633.6 389.4h1M604.6 400.8h1M629.4 399.8h1M611.3 401.8h1M625.6 392.3h1M620.5 390.4h1M615.3 386.3h1M594.5 403.0h1M613.2 393.1h1M632.5 401.7h1M623.2 395.7h1M629.7 403.7h1M616.1 393.9h1M628.7 387.3h1M615.7 400.2h1M620.8 386.8h1M632.4 393.4h1M639.6 392.9h1M633.4 390.8h1M595.4 414.3h1M624.8 399.7h1M602.0 395.2h1M616.4 393.5h1M628.7 387.5h1M624.7 387.1h1M641.6 391.4h1M641.0 393.8h1M600.3 397.6h1M648.9 386.8h1M622.2 388.7h1M641.5 393.4h1M613.3 396.5h1M612.8 395.8h1M624.9 406.7h1M617.1 389.2h1M624.9 393.1h1M616.3 399.0h1M615.8 399.3h1M596.7 410.8h1M614.6 391.3h1M610.8 392.0h1M623.2 388.0h1M646.6 388.1h1M605.1 409.4h1M594.8 396.0h1M611.4 398.3h1M611.9 388.9h1M610.3 397.1h1M600.2 410.7h1M610.4 402.4h1M623.6 389.2h1M629.2 391.7h1M606.3 401.3h1M628.4 394.9h1M599.1 412.1h1M641.8 395.1h1M609.5 402.0h1M617.5 393.0h1M589.1 397.0h1M626.0 392.6h1M633.0 387.4h1M623.2 395.2h1M618.5 396.4h1M599.0 401.7h1M598.2 389.5h1M626.8 403.0h1M629.6 394.1h1M628.8 399.4h1M622.8 395.7h1M620.9 394.2h1M615.3 391.7h1M621.2 395.9h1M622.8 401.4h1M623.3 400.2h1M624.9 399.9h1M607.6 407.5h1M632.4 393.4h1M606.4 397.4h1M618.0 382.2h1M628.5 396.4h1M590.2 402.3h1M615.3 396.5h1M610.6 399.8h1M620.9 407.5h1M620.1 398.4h1M619.9 384.4h1M604.2 395.7h1M604.2 393.9h1M626.7 393.3h1M607.3 386.8h1M616.1 395.2h1M620.2 405.3h1M627.4 395.1h1M612.4 397.5h1M631.1 393.8h1M593.3 415.7h1M628.7 384.5h1M629.1 387.7h1M623.2 400.5h1M588.6 402.7h1M625.4 401.7h1M600.3 390.8h1M626.6 393.9h1M624.7 400.8h1M611.7 388.2h1M624.7 383.2h1M610.6 388.2h1M617.8 401.8h1M594.5 404.8h1M626.0 394.1h1M619.1 396.5h1M628.4 399.0h1M627.5 399.4h1M628.5 393.0h1M614.2 401.0h1M604.3 392.7h1M627.8 404.4h1M606.1 404.5h1M605.4 408.7h1M609.7 405.9h1M623.9 381.6h1M597.0 393.4h1M622.3 391.3h1M596.7 409.2h1M601.1 405.1h1M604.6 404.0h1M607.1 397.5h1M617.4 399.9h1M639.4 388.0h1M612.7 389.8h1M620.1 398.8h1M602.1 405.9h1M631.9 389.1h1M593.1 395.2h1M624.3 402.0h1M614.9 401.4h1M633.6 391.8h1M622.2 392.0h1M591.7 408.2h1M613.4 402.6h1M638.1 396.1h1M611.8 406.9h1M618.9 389.5h1M621.6 399.3h1M615.2 394.5h1M607.2 395.2h1M611.9 382.8h1M613.9 409.3h1M598.1 404.1h1M625.2 392.6h1M623.6 389.2h1M596.1 404.1h1M628.1 388.6h1M619.1 403.1h1M589.7 404.5h1M614.4 382.4h1M626.9 398.3h1M617.1 397.2h1M614.7 411.9h1M615.9 405.4h1M606.7 407.8h1M613.2 396.7h1M611.9 396.9h1M607.1 401.5h1M623.8 400.5h1M626.6 403.3h1M614.4 407.9h1M617.0 398.9h1M613.7 394.4h1M601.9 402.1h1M607.5 408.3h1M618.9 390.1h1M623.2 387.7h1M603.1 392.6h1M611.3 406.0h1M622.3 392.2h1M620.0 388.3h1M608.2 397.3h1M609.8 391.2h1M610.7 400.1h1M609.1 390.2h1M636.6 393.2h1M599.0 398.0h1M601.4 403.8h1M613.6 401.2h1M628.8 393.9h1M641.2 395.3h1M596.4 402.5h1M592.3 405.4h1M623.5 393.5h1M605.6 405.1h1M612.6 396.2h1M616.2 401.2h1M641.9 388.2h1M618.3 422.7h1M599.3 404.7h1M616.6 388.3h1M621.8 400.3h1M628.9 383.8h1M619.6 400.9h1M624.3 401.7h1M624.0 396.3h1M611.2 401.9h1M633.1 389.1h1M615.5 386.6h1M611.8 388.4h1M635.3 394.6h1M613.8 395.3h1M614.9 390.7h1M596.7 409.0h1M592.1 395.5h1M599.8 397.4h1M614.5 385.9h1M625.0 407.3h1M617.4 387.4h1M607.6 390.8h1M620.3 405.5h1M634.3 402.3h1M619.5 393.9h1M600.3 411.7h1M599.2 394.2h1M629.1 391.8h1M600.2 392.5h1M596.9 403.6h1M626.9 390.8h1M596.5 403.3h1M612.2 387.7h1M592.4 405.3h1M624.2 404.1h1M627.7 388.0h1M606.4 389.0h1M639.4 367.8h1M610.6 398.0h1M620.8 396.2h1M623.4 396.7h1M603.2 397.1h1M620.6 397.1h1M608.1 395.4h1M645.8 402.8h1M616.6 392.1h1M626.9 395.1h1M609.6 396.1h1M596.9 408.3h1M592.9 403.8h1M608.6 392.4h1M634.3 382.7h1M617.7 403.6h1M611.3 399.6h1M617.1 394.3h1M601.6 403.5h1M604.4 390.3h1M612.7 394.3h1M623.8 401.6h1M602.7 395.2h1M637.7 389.9h1M601.6 388.0h1M628.1 389.6h1M607.0 405.2h1M616.5 393.9h1M619.6 401.0h1M620.1 399.8h1M617.3 401.7h1M639.5 391.9h1M588.5 403.0h1M635.1 383.3h1M595.9 408.2h1M612.5 400.9h1M620.5 384.2h1M607.8 403.8h1M603.7 394.6h1M615.0 400.2h1M606.2 402.2h1M629.0 400.8h1M614.6 396.6h1M605.1 404.2h1M603.9 392.7h1M605.8 399.4h1M610.4 388.4h1M641.4 392.2h1M597.4 405.4h1M605.6 413.8h1M618.0 406.6h1M622.4 395.7h1M607.8 398.4h1M612.2 399.4h1M637.6 392.4h1M610.1 396.7h1M598.2 405.1h1M607.3 397.1h1M615.3 386.3h1M618.1 400.8h1M620.4 393.5h1M615.2 398.3h1M624.8 402.6h1M611.4 391.5h1M616.6 398.6h1M599.6 400.4h1M631.6 393.3h1M613.2 390.3h1M608.0 403.4h1M617.8 393.0h1M613.4 404.1h1M615.1 400.2h1M612.8 410.3h1M633.3 393.8h1M607.5 393.9h1M609.4 395.3h1M634.7 382.3h1M607.5 393.7h1M616.7 391.6h1M627.1 395.3h1M623.5 389.8h1M642.1 393.2h1M618.3 389.3h1M631.6 380.4h1M645.1 395.3h1M658.1 385.1h1M609.2 397.6h1M605.9 395.2h1M646.3 382.5h1M619.0 399.1h1M635.7 392.7h1M643.3 390.4h1M593.8 396.6h1M615.8 396.1h1M610.7 403.8h1M604.1 393.3h1M642.1 399.7h1M610.8 388.5h1M631.4 387.2h1M603.5 400.9h1M585.9 410.5h1M614.0 387.4h1M613.3 394.6h1M624.8 401.8h1M613.5 392.9h1M606.2 404.5h1M636.6 385.3h1M613.8 387.9h1M627.1 386.2h1M638.9 381.0h1M612.2 395.0h1M608.2 391.0h1M618.3 401.2h1M623.1 391.5h1M615.6 390.8h1M622.2 404.6h1M599.1 404.9h1M596.1 407.6h1M644.9 384.5h1M621.1 386.9h1M605.3 395.1h1M594.8 402.5h1M618.8 395.9h1M612.8 399.7h1M606.3 408.1h1M600.9 395.6h1M600.6 401.4h1M627.4 396.3h1M624.9 401.1h1M628.4 397.5h1M629.6 396.7h1M608.2 406.9h1M611.3 398.0h1M596.8 414.7h1M612.4 395.6h1M616.3 393.8h1M619.8 388.2h1M618.9 403.3h1M612.3 407.3h1M637.3 390.2h1M606.2 395.1h1M609.5 402.5h1M605.0 401.4h1M634.0 384.8h1M619.0 392.2h1M608.3 391.6h1M627.6 404.0h1M632.6 398.8h1M615.1 392.6h1M618.4 398.0h1M595.6 409.0h1M613.6 391.1h1M631.8 381.2h1M617.7 392.1h1M613.4 387.7h1M626.8 403.8h1M615.5 399.3h1M618.2 393.7h1M592.5 407.7h1M612.5 399.7h1M625.7 387.3h1M624.0 402.3h1M612.2 392.2h1M615.8 398.1h1M604.9 389.0h1M635.9 414.4h1M607.1 405.3h1M628.5 391.4h1M619.0 401.1h1M626.7 393.1h1M619.2 407.0h1M620.0 385.9h1M627.5 389.0h1M596.4 391.5h1M620.6 385.1h1M626.0 389.5h1M627.4 401.9h1M611.2 401.2h1M601.5 394.4h1M602.0 400.4h1M635.5 399.4h1M616.7 400.9h1M601.0 403.4h1M610.7 406.0h1M605.8 396.0h1M609.7 400.6h1M620.1 386.0h1M611.5 396.7h1M608.8 397.7h1M624.9 395.0h1M619.2 390.6h1M637.0 402.5h1M638.7 395.0h1M617.6 383.6h1M609.5 402.9h1M617.0 403.7h1M601.7 403.1h1M619.2 393.1h1M599.1 405.4h1M601.8 391.0h1M617.3 391.6h1M624.7 391.0h1M611.3 399.5h1M611.7 385.3h1M602.5 401.1h1M615.0 397.5h1M636.2 387.6h1M629.8 398.8h1M615.5 391.3h1M625.2 390.4h1M599.2 392.7h1M611.2 398.4h1M623.4 386.1h1M628.1 404.4h1M639.6 380.3h1M601.4 396.1h1M622.8 401.7h1M624.7 391.3h1M653.7 389.0h1M620.5 397.1h1M614.7 400.5h1M621.9 399.4h1M629.0 399.7h1M619.3 384.4h1M634.9 391.4h1M614.3 398.2h1M631.8 392.8h1M596.2 393.0h1M619.3 396.2h1M614.2 389.5h1M615.8 399.6h1M628.4 401.6h1M593.7 395.1h1M613.1 392.7h1M604.0 412.6h1M607.3 397.3h1M626.6 385.5h1M606.3 394.9h1M593.0 390.0h1M605.6 400.6h1M624.0 404.9h1M612.5 404.6h1M598.7 400.2h1M587.9 408.1h1M609.9 396.4h1M614.8 407.0h1M616.3 396.7h1M613.2 394.2h1M619.3 389.5h1M621.6 382.8h1M614.8 393.5h1M616.4 400.0h1M601.3 399.7h1M618.2 393.5h1M598.6 395.6h1M614.2 403.8h1M611.3 397.6h1M642.6 393.2h1M626.7 399.6h1M600.6 396.1h1M603.3 393.1h1M629.8 389.3h1M621.3 397.9h1M615.2 384.9h1M640.7 397.0h1M626.8 393.7h1M623.5 422.9h1M593.9 407.9h1M608.2 399.9h1M599.1 403.1h1M625.5 389.8h1M619.8 398.1h1M601.7 397.7h1M604.7 401.6h1M596.8 394.2h1M616.9 401.7h1M626.6 393.3h1M609.5 396.5h1M603.8 397.2h1M626.3 400.9h1M625.0 385.7h1M593.6 395.3h1M625.2 378.2h1M619.6 395.9h1M601.4 399.6h1M631.7 387.1h1M630.8 401.5h1M614.4 400.2h1M618.4 405.2h1M628.5 379.6h1M625.6 396.7h1M619.8 396.4h1M600.9 391.0h1M609.4 395.4h1M605.5 399.9h1M608.2 409.5h1M622.7 399.6h1M640.0 385.0h1M623.1 396.7h1M628.5 387.5h1M615.2 398.9h1M615.3 392.0h1M599.1 403.7h1M587.5 400.6h1M590.9 385.7h1M581.3 402.6h1M591.8 412.1h1M581.5 397.5h1M593.7 414.2h1M583.9 387.9h1M582.2 410.9h1M586.7 404.8h1M596.1 405.4h1M579.5 395.0h1M568.8 415.6h1M568.7 403.5h1M575.7 401.4h1M582.4 406.7h1M598.5 409.2h1M584.2 395.4h1M580.0 399.3h1M594.1 414.4h1M580.3 389.1h1M590.2 409.5h1M568.7 389.6h1M581.4 390.5h1M585.0 392.8h1M575.1 399.3h1M577.4 393.9h1M587.1 399.3h1M588.3 398.1h1M577.3 409.9h1M587.3 406.4h1M576.6 406.9h1M583.1 391.2h1M586.2 398.0h1M595.1 414.6h1M587.5 404.2h1M582.8 398.3h1M583.6 393.0h1M582.1 400.9h1M589.8 412.9h1M593.8 398.8h1M581.3 413.6h1M589.8 388.5h1M585.0 395.8h1M591.8 395.1h1M582.7 392.6h1M586.3 412.4h1M592.3 400.9h1M568.5 402.3h1M577.6 397.8h1M599.9 393.5h1M586.3 400.5h1M585.6 405.9h1M573.5 391.2h1M584.3 395.3h1M573.7 400.5h1M590.0 414.3h1M576.2 403.3h1M597.7 413.1h1M587.2 396.3h1M582.7 392.9h1M583.4 388.7h1M598.0 396.7h1M588.4 411.3h1M576.3 413.3h1M579.9 395.0h1M586.7 399.3h1M591.1 411.1h1M599.6 392.5h1M583.0 388.1h1M573.0 421.7h1M585.3 408.8h1M578.8 392.7h1M588.0 399.6h1M578.3 393.6h1M590.0 381.9h1M583.3 407.3h1M579.6 405.6h1M582.4 414.0h1M581.3 407.7h1M588.1 399.6h1M587.7 398.1h1M576.2 406.3h1M586.6 413.0h1M593.5 396.5h1M583.1 397.2h1M575.8 405.2h1M582.7 410.3h1M582.5 401.2h1M579.8 408.0h1M583.9 413.3h1M600.4 392.9h1M593.4 405.6h1M576.3 416.2h1M591.3 394.0h1M589.7 406.4h1M599.1 399.7h1M588.5 409.0h1M601.4 398.8h1M592.4 383.4h1M584.3 402.3h1M567.2 390.8h1M576.1 412.8h1M591.3 396.4h1M596.1 400.4h1M587.6 413.3h1M586.7 397.2h1M585.8 397.3h1M583.8 403.2h1M571.6 399.6h1M604.5 445.8h1M605.3 445.0h1M587.1 434.4h1M611.2 460.7h1M622.7 462.6h1M621.9 439.5h1M601.4 419.7h1M609.7 456.1h1M587.1 445.8h1M620.1 464.1h1M617.6 441.5h1M579.2 442.2h1M604.7 461.7h1M632.5 444.8h1M622.1 441.4h1M600.0 440.8h1M611.9 432.5h1M629.9 430.1h1M623.5 434.1h1M593.7 428.8h1M604.7 461.2h1M624.6 435.9h1M619.3 457.6h1M605.7 453.0h1M619.3 469.9h1M610.8 463.6h1M607.0 438.9h1M635.6 433.0h1M614.3 457.3h1M619.0 455.6h1M604.6 438.1h1M596.5 442.7h1M632.5 430.6h1M607.6 448.8h1M601.3 418.4h1M600.8 460.9h1M613.0 441.2h1M604.6 457.5h1M616.8 458.1h1M606.2 456.4h1M619.1 462.6h1M613.0 436.0h1M620.0 467.0h1M627.9 423.8h1M620.4 450.5h1M621.4 446.3h1M612.5 453.7h1M606.8 438.8h1M607.4 438.7h1M614.2 467.8h1M602.4 441.8h1M598.5 419.5h1M608.1 451.4h1M613.0 466.8h1M594.3 457.9h1M619.8 440.3h1M602.0 453.9h1M626.2 459.9h1M617.0 441.6h1M589.7 440.7h1M612.5 449.9h1M605.2 443.2h1M600.4 431.7h1M616.3 439.2h1M603.1 445.9h1M585.8 462.1h1M595.6 450.2h1M614.3 465.1h1M620.4 451.5h1M592.5 436.7h1M613.3 445.8h1M585.0 472.2h1M615.3 430.5h1M582.8 444.8h1M607.7 439.6h1M611.0 441.9h1M618.8 425.6h1M617.2 434.2h1M611.6 446.1h1M583.7 450.0h1M614.6 444.1h1M615.4 422.5h1M615.6 438.7h1M605.3 445.9h1M604.0 450.4h1M609.7 448.8h1M609.1 448.7h1M624.8 457.1h1M605.6 445.5h1M611.7 466.5h1M612.5 431.0h1M618.2 437.1h1M602.7 467.9h1M606.6 455.3h1M636.9 437.5h1M625.4 439.1h1M609.8 428.1h1M617.9 428.9h1M598.9 427.3h1M600.0 441.6h1M626.2 443.7h1M611.1 467.9h1M612.1 440.8h1M610.7 452.5h1M610.7 427.2h1M597.0 432.9h1M612.3 458.7h1M621.1 453.5h1M600.2 406.0h1M600.7 443.8h1M606.1 457.9h1M611.3 446.6h1M601.8 465.5h1M608.4 473.8h1M614.9 468.8h1M611.5 438.6h1M619.1 450.9h1M619.1 464.0h1M602.7 458.4h1M617.0 451.1h1M618.9 448.0h1M608.7 452.7h1M607.9 449.6h1M616.9 448.9h1M613.8 448.9h1M616.1 452.0h1M617.7 455.8h1M615.7 446.1h1M601.5 451.9h1M618.8 458.4h1M599.8 453.2h1M594.7 424.4h1M624.8 440.6h1M606.6 462.1h1M628.0 422.2h1M626.6 458.9h1M596.3 453.2h1M623.5 451.7h1M607.2 448.4h1M606.8 452.8h1M606.9 432.8h1M616.3 451.1h1M604.1 428.8h1M608.2 467.3h1M606.0 429.4h1M620.0 462.6h1M609.1 462.0h1M604.4 458.3h1M624.9 471.5h1M632.1 430.4h1M648.5 446.2h1M622.9 448.7h1M618.1 447.6h1M599.8 426.5h1M627.3 449.8h1M605.7 441.7h1M626.3 447.3h1M604.1 441.5h1M646.2 422.2h1M609.7 435.7h1M607.4 456.1h1M605.0 472.0h1M637.5 424.9h1M645.8 463.7h1M613.2 441.3h1M617.0 452.3h1M628.4 424.6h1M609.5 463.3h1M615.7 464.8h1M621.2 426.4h1M642.6 470.5h1M598.4 423.5h1M640.1 448.8h1M645.3 435.3h1M601.6 421.1h1M628.5 464.5h1M626.9 428.0h1M636.3 424.0h1M601.5 421.2h1M610.5 431.5h1M628.8 466.7h1M612.3 439.5h1M628.5 443.1h1M632.9 431.2h1M638.2 437.8h1M620.3 450.9h1M638.4 470.5h1M620.1 443.6h1M615.5 446.8h1M615.3 450.6h1M602.2 459.6h1M624.2 463.8h1M637.0 432.1h1M603.6 430.2h1M647.5 466.4h1M613.1 444.5h1M641.5 470.7h1M623.3 462.9h1M637.1 467.8h1M647.3 450.3h1M622.5 450.5h1M649.2 447.6h1M600.2 413.0h1M647.0 411.4h1M610.6 374.5h1M651.1 390.2h1M601.9 376.8h1M658.4 383.9h1M651.9 379.9h1M600.3 382.8h1M635.1 377.5h1M636.6 395.9h1M623.3 386.0h1M611.8 389.4h1M647.9 383.2h1M618.1 373.0h1M658.4 395.3h1M618.2 373.7h1M644.2 417.7h1M636.4 401.3h1M619.3 381.9h1M650.0 389.5h1M656.1 390.0h1M632.4 382.3h1M640.2 412.2h1M632.1 372.4h1M614.4 397.1h1M617.1 380.8h1M636.0 403.6h1M649.9 393.1h1M616.7 410.4h1M646.9 399.7h1M637.5 412.9h1M651.5 388.7h1M620.6 410.7h1M627.8 397.1h1M604.0 376.2h1M619.9 384.1h1M632.2 380.6h1M623.1 383.2h1M617.2 396.3h1M600.4 391.3h1M621.0 382.2h1M632.2 397.9h1M602.6 405.3h1M654.4 395.4h1M605.7 407.8h1M642.9 401.5h1M604.9 386.5h1M599.6 401.1h1M652.0 391.9h1M619.3 383.7h1" stroke="#ff1a1a" stroke-width="0.9" stroke-opacity="0.6" fill="none"/>
<path d="M554.5 474.8h1M598.0 474.8h1M575.8 474.8h1M599.9 474.8h1M599.0 474.8h1M586.5 474.8h1M594.5 474.8h1M556.2 474.8h1M563.4 474.8h1M585.1 474.8h1M594.2 474.8h1M580.9 474.8h1M570.2 474.8h1M576.4 474.8h1M576.7 474.8h1M553.1 474.8h1M576.8 474.8h1M565.4 474.8h1M564.5 474.8h1M590.4 474.8h1M591.0 474.8h1M574.4 474.8h1M597.3 474.8h1M596.7 474.8h1M575.3 474.8h1M555.4 474.8h1M580.4 474.8h1M565.7 474.8h1M557.6 474.8h1M595.8 474.8h1M582.3 474.8h1M580.3 474.8h1M578.8 474.8h1M598.6 474.8h1M578.5 474.8h1M558.0 474.8h1M560.3 474.8h1M561.3 474.8h1M574.5 474.8h1M599.7 474.8h1M588.0 474.8h1M590.3 474.8h1M587.7 474.8h1M582.6 474.8h1M576.5 474.8h1M574.4 474.8h1M558.3 474.8h1M595.0 474.8h1M592.8 474.8h1M556.6 474.8h1M577.3 474.8h1M581.3 474.8h1M590.5 474.8h1M555.7 474.8h1M578.4 474.8h1M585.0 474.8h1M568.5 474.8h1M572.2 474.8h1M578.0 474.8h1M588.5 474.8h1M593.5 474.8h1M558.7 474.8h1M593.0 474.8h1M584.9 474.8h1M562.4 474.8h1M572.9 474.8h1M571.9 474.8h1M576.0 474.8h1M585.3 474.8h1M557.4 474.8h1" stroke="#ff3030" stroke-width="1" stroke-opacity="0.35" fill="none"/>
<line x1="596.30" y1="324.00" x2="596.30" y2="476.00" stroke="#222" stroke-width="1.4"/>
<line x1="531.30" y1="419.40" x2="684.50" y2="419.40" stroke="#222" stroke-width="1.4"/>
<text transform="translate(534.60,338.30) scale(0.93,1)" font-family="Liberation Sans" font-size="7.9" font-weight="normal" text-anchor="start" fill="#262626" stroke="#262626" stroke-width="0" >Q1</text>
<text transform="translate(534.60,348.60) scale(0.93,1)" font-family="Liberation Sans" font-size="7.9" font-weight="normal" text-anchor="start" fill="#262626" stroke="#262626" stroke-width="0" >1.50</text>
<text transform="translate(671.40,338.30) scale(0.93,1)" font-family="Liberation Sans" font-size="7.9" font-weight="normal" text-anchor="end" fill="#262626" stroke="#262626" stroke-width="0" >Q2</text>
<text transform="translate(671.40,348.60) scale(0.93,1)" font-family="Liberation Sans" font-size="7.9" font-weight="normal" text-anchor="end" fill="#262626" stroke="#262626" stroke-width="0" >6.62</text>
<text transform="translate(534.60,457.70) scale(0.93,1)" font-family="Liberation Sans" font-size="7.9" font-weight="normal" text-anchor="start" fill="#262626" stroke="#262626" stroke-width="0" >Q4</text>
<text transform="translate(534.60,468.10) scale(0.93,1)" font-family="Liberation Sans" font-size="7.9" font-weight="normal" text-anchor="start" fill="#262626" stroke="#262626" stroke-width="0" >86.4</text>
<text transform="translate(671.40,457.70) scale(0.93,1)" font-family="Liberation Sans" font-size="7.9" font-weight="normal" text-anchor="end" fill="#262626" stroke="#262626" stroke-width="0" >Q3</text>
<text transform="translate(671.40,468.10) scale(0.93,1)" font-family="Liberation Sans" font-size="7.9" font-weight="normal" text-anchor="end" fill="#262626" stroke="#262626" stroke-width="0" >5.45</text>
</svg>
</body></html>
